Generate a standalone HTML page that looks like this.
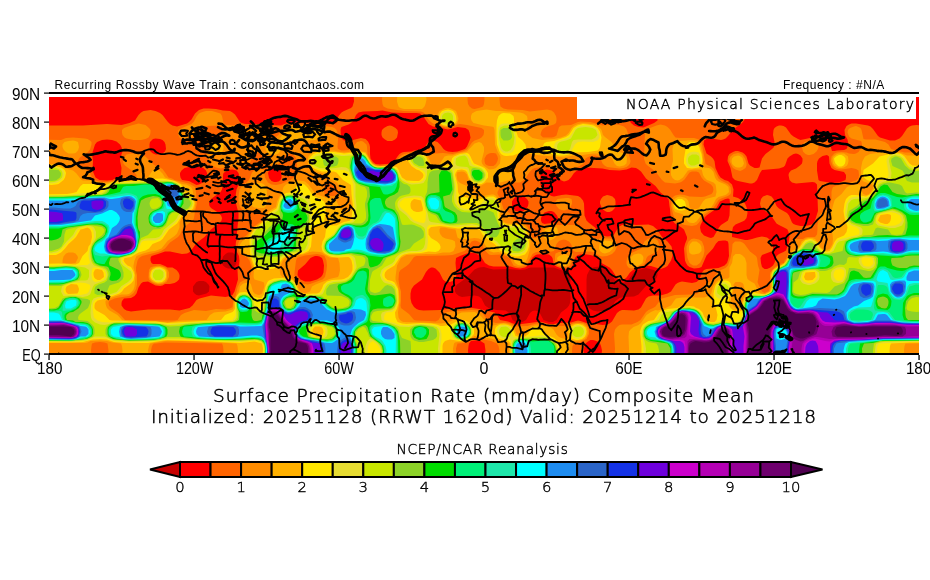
<!DOCTYPE html><html><head><meta charset="utf-8"><style>html,body{margin:0;padding:0;background:#fff;width:930px;height:580px;overflow:hidden}svg{display:block}</style></head><body><svg width="930" height="580" viewBox="0 0 930 580"><clipPath id="mc"><rect x="49" y="97" width="870" height="256"/></clipPath>
<g clip-path="url(#mc)"><rect x="49" y="97" width="870" height="256" fill="#c80000"/>
<path fill="#ff0000" fill-rule="evenodd" d="M42 90l884 0l0 270l-884 0l0-270zM199 281l-2.5 1l-2 2.5l-1.5 2l0 5l1.5 2l2 1.5l2.5 0.5l7.5-2l2.5-2l0.5-5l-1-2l-2.5-2.5l-2.5-1l-4.5 0zM228 252.5l-2.5 1.5l-2.5 2.5l-1 4l0 2.5l1 2.5l2.5 2l2.5 1l4.5 0l2.5-2.5l1.5-3l0-5l-0.5-2l-1-1.5l-2.5-2l-4.5 0zM479 267.5l-4.5 2l-7.5 8l-10 7l-1.5 2l-0.5 2.5l0 2.5l1 2l3 2.5l3 1l12.5-1.5l2.5 0.5l2 0.5l2.5 2l3.5 7l3.5 2.5l7.5 2l9.5 0.5l2.5 1.5l2.5 3l2 5l3 2l4.5 0.5l2.5-0.5l2.5-1.5l1-0.5l4-7l2.5-2l2.5-0.5l2 0.5l2.5 1.5l4 7.5l5.5 2l4 0l3.5-2l4.5-7.5l6-4.5l2-2.5l1-2.5l0.5-4.5l-0.5-9.5l0.5-12l-0.5-2l-1.5-3l-9.5-2.5l-5-2l-24 0l-5 2l-5 0.5l-12-1l-14.5 0.5l-4.5-1l-5-1.5l-5 0.5zM593 267.5l-3.5 2.5l-2.5 5l-0.5 4.5l0 21.5l1 4.5l1.5 2.5l4 2.5l4.5 1l7.5-0.5l4.5-2l2.5-2.5l3.5-5.5l4-3l4.5-1l10-0.5l4.5-2l7-8l10-7l1.5-2.5l0.5-2l0-2.5l-3.5-2.5l-8-2l-8 2l-4 2l-5 7l-2.5 2.5l-2.5 1l-2 0.5l-2.5 0l-2.5-1l-2.5-2.5l-4-7l-3.5-3.5l-2.5-1.5l-4.5-1l-5 0.5l-2 0.5z"/>
<path fill="#ff6400" fill-rule="evenodd" d="M353.5 90l391.5 0l0 11.5l0.5 12l-0.5 5l-1 2l-2 2.5l-9 6.5l-5 6.5l-2.5 2.5l-2.5 1l-2 0.5l-10-1.5l-4.5 0.5l-2.5 1.5l-0.5 4l3 9l4.5 3l2 2l1.5 2.5l1 7l3 6.5l2 3l4 2.5l3.5 1l4 3.5l1.5 5l-0.5 7l5 1.5l4.5 3l2.5 2.5l2 5l0.5 4.5l-1 5l-2 2.5l-2 1l-7 3l-2.5 2.5l-1 5l0 5l13 3l2.5 0l4.5-1l5-1.5l5-1l5 1l2 1.5l2 2.5l2 5l0 2l-0.5 2.5l-10.5 4l-1.5 3l0.5 5l1 4l2.5 2l2.5 0l3.5-1.5l2.5-2l1.5-2.5l2-7l2.5-2l4.5-2l2.5-1.5l2.5-7.5l1-6l-1-5l-1-2.5l-1.5-1l-7-3.5l-2.5-1.5l-5.5-8l-9-7l-1.5-2.5l-0.5-2.5l1-4.5l2-2.5l4-1.5l2 0.5l2.5 1l2 2.5l3 7l2.5 2.5l8 4.5l2 2.5l3 7l1.5 1.5l2.5 1l4.5 1l5 0l4.5-1l2.5-1l2.5-3.5l3-9.5l-1-26.5l-2-2l-2.5-0.5l-16.5 1.5l-4-1l-2.5-2.5l-1-5l0.5-2l2-2.5l5-2l4-3l2-2l0.5-2.5l0-2.5l-2-3l-2.5-1.5l-2-0.5l-2.5 0.5l-4 2.5l-2 2l-2.5 7l-1.5 1.5l-4.5 1.5l-17 1.5l-2 3l-3 7l-2.5 2.5l-2.5 1l-2 0l-12-2.5l-3-1l-2.5-2.5l-2-9.5l-3-7l0.5-4.5l1.5-2.5l3.5-2l2.5-1l2.5 0l4.5 1.5l2 1.5l2 2.5l2 7l1.5 2l4.5 2.5l2.5 0l2.5-0.5l2.5-9l1.5-2l2-2.5l6.5-5l2-2l0.5-2.5l0-2.5l-1.5-7l0.5-5l1-2l2-1.5l2.5-1l2 0l2.5 0.5l2.5 1.5l5 7l2.5 2l4.5 2.5l2.5 1l12-2.5l10 0.5l2.5 0.5l2 1.5l2 2l1 2.5l2 6.5l2.5 0l2.5-0.5l7-0.5l2.5-1l1-2l0.5-5l-0.5-2.5l-2.5-4.5l-0.5-5l1-2l1-2l2.5-1.5l2.5-1l4.5 0l12 2l2.5 1l2.5 2.5l5 7l2 1.5l10 3l5 0l4.5-2l2.5-2.5l5-7.5l2.5-2l2.5-1l4.5-0.5l9.5 0.5l0 234.5l-325 0l1-9.5l-1-4.5l-1-2.5l-2.5-2l-2.5-1l-2-0.5l-2.5 0l-2.5 1.5l-2.5 2l-1 2.5l-1 4.5l1 9.5l-99.5 0l0.5-9.5l-1-7l-4-2.5l-6-0.5l-3.5 0.5l-2 2.5l-0.5 2.5l-0.5 4.5l0.5 9.5l-426.5 0l0-234.5l41 0l24-1.5l14.5 1l8-2l5.5-2.5l3.5-5.5l2.5-2.5l2.5-1.5l7-1l5 1l4.5 2l2.5 2l5 6.5l2.5 2.5l2.5 1.5l4.5 1l10-3l2-1.5l2.5-2.5l3.5-6l4-3.5l4.5-1.5l5 0l7.5 0.5l7 1.5l7 0.5l2.5 1.5l2.5 2l5 7.5l1.5 1l3.5 1l14 0l5 1l17 0.5l5-2l7-1l9.5 0.5l12.5-0.5l12 1.5l7 0l2.5-1l2-7l3-3.5l2.5-1.5l7-3l1.5-1.5l1.5-5l-0.5-11.5zM377.5 111l-14.5 0.5l-4.5 1l-2.5 2.5l-2.5 5.5l-2.5 2.5l-2.5 1.5l-7 2.5l-0.5 1l-0.5 2l0.5 7.5l0.5 1l2.5 2l2 0.5l5-0.5l10-2.5l4.5 1l2.5 2.5l1.5 3l0.5 2.5l0 7l0.5 4.5l2.5 3.5l2.5 2l4.5 0.5l12-1l2.5-2.5l3-4.5l2-2.5l2.5-1.5l2-0.5l7.5-0.5l2.5-1l7-0.5l2.5-0.5l3-5l2-2.5l2.5-1l2-0.5l4.5 1.5l3 3l3 4l2 1.5l2.5 1l4.5 0.5l5-0.5l7.5-2.5l2-2.5l3-7l0.5-2l-1-5l-1-2.5l-3-2l-8-1l-3.5 1l-1.5 0.5l-4.5 1l-2.5-0.5l-5-1.5l-7.5-1l-4.5-2.5l-5.5-8l-3-2.5l-3.5-0.5l-12.5 0l-12-0.5l-9.5-2l-5 0.5zM518 195.5l-2.5 1.5l-2 2l-1.5 2.5l0 4.5l1 2.5l2.5 2.5l2.5 0.5l2 0.5l3.5-1l3-2.5l1.5-2.5l0.5-2.5l0-2l-1.5-2.5l-3-2.5l-4-1l-2 0zM583 168l-6 2.5l-3 2.5l-3 4.5l-2.5 2.5l-2.5 1l-2 0.5l-2.5-1l-2.5-2l-4-5.5l-3-2.5l-5-1l-3.5 1l-2 2.5l-1 2l-0.5 5l0.5 4.5l1.5 5l2 2.5l3 1.5l4.5 2.5l2.5 0.5l7.5-1.5l4.5-0.5l12 1.5l2.5 1.5l2.5 3l1 3l0.5 12l2 5l2 2l6.5 5l5.5 7l2 1l4.5 1l5-0.5l2-1.5l3-5l2.5-3l2.5-1.5l2-0.5l5-0.5l7 1l12.5-0.5l4.5 1.5l4 3.5l5 7.5l5.5 4.5l4 5l1 4.5l0 5l-1.5 4.5l-3.5 5.5l-2.5 1.5l-4.5 1.5l-9.5-3l-5-0.5l-13 4.5l-3 2.5l-3.5 5l-2.5 2l-2 0.5l-2.5-0.5l-2.5-1.5l-5-8l-2.5-2.5l-8-4.5l-3.5-5l-4-2l-3.5-1l-7.5-1l-5 1l-1.5 1l-1.5 2l-2.5 7.5l-1.5 2l-2.5 1l-2.5 0.5l-4.5-0.5l-5-2l-1.5-1l-1.5-2.5l-1-5l-1-1.5l-2.5-2l-4.5-0.5l-7.5 0.5l-2 1l-2.5 2l-4.5 8l-3 2l-5 1l-4.5-0.5l-5-1.5l-17 0l-4.5-1l-4-2.5l-3.5-5.5l-2.5-2.5l-4.5-2l-5-0.5l-9.5 3.5l-4 2l-0.5 5l1 12l-1.5 4l-2.5 2l-2.5 1l-2 0l-2.5-0.5l-2.5-2l-3.5-7l-4-4l-2.5-1l-2 0l-2.5 1.5l-2.5 3l-4 7.5l-8 6l-2.5 3.5l-1 4.5l0 5l1 4.5l2.5 4l2.5 2l2.5 1l4.5 0.5l17-0.5l9.5-1.5l22-0.5l7 1l15.5 3.5l2.5 2.5l3 5l8 1.5l5 2l5 1l19-2.5l5 0l7 2l5 0l5-1l12-0.5l5-1.5l2-0.5l2.5 0.5l7.5 2.5l5 0l9.5 1.5l4.5-0.5l2.5-1l2.5-2l5-8.5l2.5-2l2.5-1l2 0l10 0.5l4.5-1l2.5-2l5-9l2.5-2l4.5-1l7.5 0l7-2l3.5-2l4.5-7l2-1.5l2.5-1l2-0.5l10 1.5l4.5-1l3-2.5l2.5-7l2-2.5l2.5-1l12-1l6-2.5l2.5-2.5l1-3l1-4l-0.5-12l-0.5-2.5l-2.5-1l-2.5 0l-4.5 0.5l-2.5 2.5l-3 5l-6.5 7l-5 11.5l-2.5 1l-5 0.5l-4.5-1.5l-2-1.5l-1.5-2.5l-1-2.5l-1-12l1-4.5l2-5l0-2l-3-7.5l-2.5-2l-6.5-4l-2.5-3l-2-5l-0.5-6.5l-0.5-3l-0.5-4.5l-0.5-2.5l-8-6.5l-5-6.5l-9.5-7.5l-5-7l-2.5-2l-2.5-1.5l-4.5-0.5l-5 2l-7 1l-10-0.5l-7-1.5l-17-1l-2.5 0.5zM634 111l-3 2.5l-1.5 2.5l0 2.5l0 2l1.5 2.5l3 2.5l4.5 1.5l5 0.5l10.5-4.5l3.5-2.5l0-2l0-2.5l-1.5-2.5l-3-2.5l-4.5-1.5l-5 0l-5 0l-4.5 1.5zM728 198.5l-2.5 0.5l-5.5 2.5l-4 7l-2.5 2l-7 5l-2.5 2.5l-3.5 7l-0.5 2.5l1 4.5l3 3.5l5 2l2 0.5l2.5-1l5.5-9.5l2-2.5l7-4.5l1.5-5l0.5-12l-0.5-4.5l-1.5-0.5zM822.5 156l-3.5 2.5l-1.5 2.5l-0.5 2.5l0 7l1.5 9.5l1.5 1l12 2l7.5-0.5l6-2.5l0.5-2.5l0-2.5l-2-3l-9.5-2l-3-2l-2-4.5l-0.5-7l-2-1.5l-4.5 1zM107 139.5l-5 0.5l-5 2l-2 2.5l-3 9.5l1 7l-0.5 9.5l3 7l4 2.5l7.5 0.5l5.5-0.5l1.5-1l6.5-1.5l0.5-2.5l0.5-7l-1.5-7l0-2.5l2.5-7l-1-4.5l-1.5-2.5l-3.5-3l-4.5-1.5l-5-0.5zM153 139l-3 3l-0.5 2.5l0 4.5l1 2.5l2.5 2l2.5 1l4.5 0l2.5-1l2.5-2l1-2.5l-0.5-4.5l-1-2.5l-2-2l-2.5-1l-4.5-0.5l-2.5 0.5zM184.5 168l-3 2.5l-1.5 2.5l0 2l0.5 2.5l1.5 2.5l7 1l7.5 4l2.5-0.5l4-2l2-2.5l1-2.5l1-2.5l0-2l-1-2.5l-2.5-2.5l-2.5-1l-4.5-1l-5 0.5l-7 1.5zM228 170l-4.5 3l-0.5 2l0 9.5l-1 5l-1.5 2.5l-9.5 7l-1.5 2.5l-0.5 2l0.5 2.5l1.5 2l7 4.5l3 3l1 2.5l-0.5 2.5l-1.5 2l-9 7l-6.5 7.5l-8 6l-5 7l-2.5 2.5l-2 1l-5 0.5l-12-2.5l-5 0l-7 2.5l-6.5 2l-1 2l0 2.5l1 2.5l1.5 1l7 0l5 2l2.5 1.5l5 0l4 2.5l2 2.5l1 2.5l0 2l-0.5 2.5l-2 2l-2.5 1.5l-4.5 1l-5 0l-2.5 1.5l-2.5 0.5l-4.5-0.5l-7.5-4l-5 0.5l-2 1.5l-2.5 4l-2 6l-2 2.5l-3.5 2l-7 0.5l-2 2.5l-0.5 2l0 2.5l2.5 3.5l2.5 1.5l4.5 1l17-2l22 0l9.5 1l10-2.5l3-2.5l4-5.5l3-1.5l11.5-3l14.5 1.5l4.5-1l2.5-1l2-3.5l3.5-12l-0.5-9.5l1.5-4.5l0.5-5l-0.5-4.5l-2.5-5l-1-4.5l0.5-5l1-2.5l0-7l1.5-14l0-5l-2.5-9.5l-0.5-7l1-7l3-7l0-5l-1-4.5l-2-2.5l-4-1l-4.5 0.5zM276 168l-4.5 1l-2.5 1.5l-1 2.5l1 5l2.5 3l2.5 1l2 0l2.5-0.5l2-1.5l1-2.5l0-4.5l-1-2.5l-2-2l-2.5-0.5zM312.5 257l-2 1l-5.5 6.5l-7 6l-0.5 4.5l1 2l2 2.5l4.5 2l5 0l7-2l4-2.5l1.5-2l1-2.5l0.5-7l-1-5l-1-2.5l-2.5-1.5l-2.5-0.5l-2 0l-2.5 1zM544.5 212.5l-2.5 3l-1 2.5l0 2.5l1 2.5l2.5 1l11-1.5l1-0.5l1.5-1.5l0-2.5l-1-2.5l-3-3.5l-2.5-1l-2.5 0l-4.5 1.5zM384 128l3.5-2l2.5-0.5l2 0.5l3.5 2l2 2l0.5 2.5l-1 5l-2 2l-3 1.5l-4.5 0l-2.5-1.5l-2.5-2l-1-2.5l0-2.5l0.5-2.5l2-2zM603 196.5l4-1.5l2.5 0.5l3 1l2.5 2.5l0.5 2.5l0 4.5l-1 2.5l-2.5 2.5l-2.5 1l-2.5 0l-2-1l-3-2.5l-2-5l0-2l1-2.5l2-2.5z"/>
<path fill="#ff8c00" fill-rule="evenodd" d="M382.5 92.5l0-2.5l85.5 0l-0.5 9.5l0.5 4.5l1.5 2.5l2.5 2l2.5 0.5l4.5-1l4-1.5l1-2.5l0.5-4.5l-0.5-9.5l16 0l-0.5 9.5l0.5 4.5l0.5 2.5l3 2l4.5 1l14.5 0.5l7.5 1.5l17-2l4.5 1l2.5 2l2 3.5l0.5 2.5l0 2l-0.5 2.5l-2 1.5l-7 2l-3 1.5l-2 2l-1 2.5l-0.5 2.5l2.5 2.5l1.5 0l7 0l2.5-0.5l2.5-1.5l2.5-8.5l2.5-1.5l9.5-0.5l7-3l2.5-0.5l10 0.5l12 3.5l12-1l5 0.5l4.5 1.5l2.5 2.5l2 6l-0.5 16.5l1.5 5l1 4.5l-0.5 2.5l-1.5 2l-2 1.5l-3 1l-4 0.5l-12.5-1.5l-2.5-1.5l-2-2l-2-5l-2-2l-3.5-1l-4.5 0.5l-2.5 1l-2.5 1.5l-2 5l-3 2l-7 3.5l-2.5 0l-14.5-1l-7.5-1.5l-4.5 0l-10 1.5l-2 1l-2.5 2.5l-5 7.5l-2.5 2l-2.5 1.5l-7 0l-9.5 2l-3.5 2.5l-2.5 5l0 2l3 5l3 10l6 4l6 8l7 2l3.5 2l2 2.5l4.5 10.5l2.5 0l2-0.5l2.5-1.5l2.5-6.5l1.5-2l3.5-1.5l7-1l22 0l4.5 1.5l7.5 8.5l5 3l4.5 1l2.5-0.5l9.5 0l5 1l1.5 2l1 5l-2 4.5l-3 3l-5 2l-4.5 0.5l-2.5-0.5l-7-4l-2.5-0.5l-14.5 0.5l-2.5-1l-2.5-7l-2-2.5l-3-1.5l-2-0.5l-2.5 0.5l-2.5 1l-2.5 3l-2.5 7l-2.5 0.5l-12 0l-4.5 1l-2.5 1.5l-5 9l-2 2.5l-3 1l-4.5 0.5l-4.5-1.5l-4-7.5l-3.5-2l-5-1.5l-10 0.5l-2-0.5l-3.5-3.5l-4-7l-2.5-2l-2-1l-2.5-0.5l-3 1l-4.5 7l-2.5 2.5l-12 4l-7 0.5l-29 0.5l-2.5 1l-5 7l-2.5 2l-6 4l-1.5 2.5l-0.5 7l1 7l1.5 5l0 9.5l-0.5 4.5l0.5 2.5l8 6l5 6l2.5 0.5l12 0.5l7 0.5l3-1.5l3-5l4-2.5l4.5-1l22-1.5l5 0.5l5 2l5.5 7.5l4 2l4.5 1l9.5-0.5l5 1l5 3l12-0.5l5-1.5l4.5-1l5 0.5l12 2l10 0l4.5-0.5l5-2.5l4.5-0.5l5 0.5l2.5 1l2.5 3l1 2.5l0 4.5l-2.5 5l-1 0.5l-5 2.5l-4.5 1l-2.5 1.5l-1 1.5l-0.5 4.5l0.5 9.5l-74 0l1-9.5l-1-4.5l-1.5-2.5l-6-2.5l-12-2.5l-4.5 0l-2.5 0l-5 3.5l-2.5 1l-7 0.5l-1.5 5l0.5 11.5l-233.5 0l0.5-9.5l-0.5-4.5l-1-2.5l-57-1l-9.5 1l-1.5 0l-1 1l-1 1.5l-1 4.5l1 9.5l-44 0l0.5-9.5l-1-7l-3-1l-4.5-0.5l-5 0.5l-3 1l-0.5 2.5l-0.5 4.5l0.5 9.5l-49.5 0l0-220.5l19 0.5l5-2l7-0.5l12 1l2.5 0.5l2.5 1.5l1.5 1.5l0 2.5l-1.5 5l-2.5 3l-7 4.5l-1.5 1.5l-1 2.5l0 2.5l2.5 3l7 4l2.5 2.5l2 4.5l2.5 2.5l3 1l4.5 1l5 0l17-3l7 0l5.5-1.5l0-2.5l-1.5-2l-10-7.5l-1.5-2l-0.5-2.5l1-3.5l2.5-3l4.5-1l5 0l5 1l4.5 2l7.5 7.5l2 1.5l5 2l2.5 1.5l3 4l3 4.5l3.5 1l2.5 1.5l14.5 3.5l6 3.5l1 5l1 11.5l-2 7.5l-1 7l-1 2.5l-2.5 2l-6 4l-2.5 3.5l-2 4.5l-2 2.5l-8 5.5l-5 6l-4 2.5l-3 1l-16 4l-3 2l-1.5 2.5l-1.5 7l0 3.5l1 4l0 9.5l-1 4.5l-2.5 4l-2.5 2l-2 1l-10 1.5l-4.5 1l-5.5 2.5l-0.5 2l0.5 2.5l2 2.5l8 5.5l6 6.5l40 0.5l9.5 0l3-0.5l3.5-5l3.5-2l9.5-3l12 1l10-2l9.5 0.5l4.5-1l2.5-1.5l1-8.5l2-2.5l2-8.5l1.5-3l1-2l2.5-1.5l4.5-2l2-2l1.5-2l1-5l0-2.5l-2-7l-2.5-3l-4.5-2.5l-2.5-1.5l-2-5l0-4.5l2-4.5l7-4.5l5.5-7.5l9-6.5l2.5-3.5l0.5-2l-0.5-2.5l-2.5-1.5l-7-1l-9.5 0.5l-2.5-1l-2.5-3l-1.5-5.5l0-5l1-7l3-4.5l4-2.5l2.5-2.5l3-7.5l2.5-2.5l7-1l2.5 0.5l1 8l3 5l3.5 2l4.5 0.5l5-1l9-4l4-2.5l2-4.5l1-7.5l0-4.5l-1.5-4l-2.5-2.5l-2.5-1l-2.5 0.5l-2 1l-7.5 9l-4.5 1.5l-5.5 0l-1.5-2l-1.5-5l-1.5-3l-2.5-2l-2.5-1l-2 0l-3 1.5l-2 3l-2.5 7.5l-2.5 2l-7 1l-10-1l-9.5 2l-4.5-1l-5-2.5l-2.5-4l-2.5-9.5l0.5-4.5l2-4.5l2.5-2.5l8.5-2.5l1-1l1.5-1.5l0.5-2.5l0.5-4.5l-2.5-2.5l-14.5 0.5l-5 0.5l-2.5 1.5l-2 2l-2.5 5.5l-2.5 3l-2.5 1.5l-2 0.5l-2.5 0l-2.5-1l-2.5-2l-1-2.5l-0.5-2.5l0.5-2.5l3.5-2l9.5-4l2.5-2.5l2.5-5l2.5-3l2-1l5-1.5l6 0l8.5 2.5l1.5 2.5l1.5 7l2 2l12 0.5l7.5 1.5l14 0l2.5 1l2.5 2l4.5 7.5l3 0.5l2.5 0l2-1l2.5-2l4.5-7l5-3l5-0.5l24 0.5l15 2l2.5 1l2 2l1 2.5l0.5 7l-0.5 7.5l0.5 2l3.5 1.5l2.5 0l4.5-0.5l3.5-1l3-4.5l2-2.5l4-1l2 0.5l3.5 3l0.5 2.5l0.5 7l3 6l2 3.5l5 2l2.5 0.5l7.5-1l4.5 0l2.5-1l5-7l2.5-2l2.5-1l9.5-2l5-0.5l4.5 0.5l2.5 0.5l2.5 1.5l14.5-1l9.5 1l10-2.5l4.5-2l5-7l2.5-2l4.5-1.5l2.5-1.5l2-2.5l0.5-2.5l0-2.5l-2.5-2l-14.5-3l-7-1l-2.5 0.5l-5 2.5l-7 0.5l-5-1.5l-2.5-1l-5-1.5l-2-1.5l-2.5-2.5l-4-6l-1-1l-2.5-1l-17-0.5l-16.5-2.5l-4-2l-1-2.5l-0.5-4.5l0.5-7zM489 153.5l-2.5 1.5l-2 3.5l0 2.5l0.5 2.5l1.5 1.5l2.5 1l4.5 0l2.5-2l1.5-3l0.5-2.5l-0.5-2l-1.5-3l-2.5-0.5l-2.5 0l-2 0.5zM305 255.5l-7 2l-1 0.5l-1 2.5l-1.5 12l0 4.5l1.5 2.5l2 2l2.5 1.5l7 1.5l2.5-0.5l12.5-4.5l2.5-2.5l1.5-7l0.5-4.5l-0.5-5l-2-4.5l-2.5-1l-5-1l-12 1.5zM329.5 182l-2.5 0.5l-2.5 2.5l-1 4.5l1 4l0.5 0.5l4.5 2l4.5 0l2.5-1l1-1l0.5-2l-1-5l-3-3l-4.5-2zM131 125.5l7.5-2l7 1.5l3.5 3l1.5 2l0 2.5l-0.5 2.5l-1.5 2.5l-3 1.5l-4.5 1l-7.5 0l-7-1.5l-2-1l-2-2.5l-0.5-2.5l0-2.5l2-2l7-2.5zM656.5 125.5l4-1l4.5 1l2.5 1.5l2.5 2.5l3.5 5.5l2 2.5l4.5 0.5l14 0l5 1.5l2 2.5l1 2.5l3.5 19l1 1l4.5 2l2.5 2l5 10l2.5 2l7 3.5l2.5 3l0.5 5l-0.5 2l-2.5 2l-7 2.5l-2.5 1.5l-5.5 8.5l-9 6.5l-5 7.5l-2.5 2.5l-4.5 1l-7.5-1l-4.5-1.5l-4-3l-1.5-2.5l-1-2.5l-2.5-9.5l0.5-4.5l1-4l2.5-2l5-1l4.5 0.5l5 1.5l12 0.5l3.5-0.5l6.5-2.5l1.5-2l0.5-2.5l-0.5-2.5l-2-2.5l-7-4l-2.5-3l-2.5-5l-2.5-1l-4.5 0l-2.5 1l-5 7l-2.5 2l-2 1l-5 1l-5-0.5l-5-0.5l-3-2.5l-6.5-8.5l-8-6l-2-2l-1.5-5l1-26l1-2.5l4-2l6.5-2.5zM850 128l4-1.5l2-0.5l2.5 1l2 1l1 2l2 9l2.5 0.5l9.5 0l9.5 2.5l3.5 2.5l2.5 4.5l1.5 0.5l12 3l21.5 0l0 207.5l-311.5 0l0.5-11.5l-1-14.5l1-4.5l2-2.5l2.5-2l2.5-0.5l9.5 0l6-2.5l3-2l5.5-8l2.5-2l4.5-2l2.5-1.5l4-5.5l2.5-2.5l13-3.5l17-0.5l5.5-1l6.5-7.5l8-6.5l5.5-7l3.5-2.5l4.5-2l2.5-2.5l2.5-7.5l1.5-7l0.5-7l2.5-2.5l5 0l2.5 1l2 1.5l5.5 7.5l6 4.5l1 2l1 7.5l1.5 4.5l-1.5 9.5l-0.5 2.5l1 2.5l3.5 7l2.5 1.5l4.5-2l1-4.5l0-14l6.5-6.5l3-0.5l1.5-2l3-0.5l0.5-2.5l1.5-1.5l1-3l1.5-2.5l3-9.5l2-4l2.5-1l7 0l2.5-1.5l2.5-0.5l7 0l2-2.5l0.5-5l0-4.5l2-9.5l3-3.5l4.5-2.5l2.5-3.5l2-7l0-7l0.5-2.5l1-2.5l4-1.5l9.5-2l9.5-3l2.5-2l0.5-3.5l-0.5-4.5l-2.5-1.5l-4.5-1l-10 1.5l-4.5-0.5l-2.5-1.5l-2-2l-1.5-4.5l0.5-4.5l3-3l2.5-1l4.5-0.5l5 0.5l2.5 1l5 0.5l2-0.5l2.5-1.5l2-3l1.5-4.5l-0.5-2.5l-0.5-1l-9.5-2.5l-2.5-2l-1.5-4l0.5-2.5l2-2zM804.5 142l3.5-1l4.5-0.5l2.5 0l2.5 1.5l1 2.5l0 2.5l-0.5 2l-1.5 2.5l-3 2.5l-3.5 1l-2 0l-2.5-1l-2.5-2.5l-1-4.5l0.5-2.5l2-2.5zM733.5 154l4.5-1l2 0.5l2.5 1.5l2.5 3.5l1.5 5l0 2l-1 2.5l-3 2l-2.5 1l-4.5-1.5l-2.5-1.5l-1.5-2.5l-2-4.5l0-2.5l1-2l3-2.5zM557.5 199l8.5-1l2.5 0l3 1l0.5 2.5l0 2l-1 2.5l-2 2.5l-3 1.5l-2 0.5l-2.5-0.5l-2.5-1l-2.5-3l-1-2.5l0-2l2-2.5zM647.5 239l3.5-1l2 0.5l3 0.5l2 2l1 3l0.5 2.5l-1.5 4l-2.5 2l-7.5 3.5l-1.5 2l-1.5 5l-2.5 2.5l-8.5 2.5l-2.5 0.5l-2.5-0.5l-2-2.5l-0.5-2.5l0.5-5l1.5-2l3-3l9.5-4.5l3.5-7l3-2.5zM691.5 239l2.5-0.5l5 1l3 2l2 5l0.5 4.5l-1 5l-3.5 7l-3.5 2.5l-3.5 0l-3.5-2.5l-2-5l-1-7l0-4.5l2-5l3-2.5zM555.5 253.5l3.5-1.5l5-0.5l7 0.5l2 1.5l-1 7l-2 5l-1.5 1l-4.5 1l-2.5-0.5l-4-1.5l-2-2.5l-0.5-2.5l0-4.5l0.5-2.5zM150.5 267.5l2.5-1l5-1l4.5 1l3 1l2.5 2.5l1 2.5l0 4.5l-2.5 5l-4 2l-4.5 0.5l-2.5-0.5l-4-2l-2.5-2.5l-0.5-2.5l0.5-7l1.5-2.5z"/>
<path fill="#ffb000" fill-rule="evenodd" d="M397.5 90l28 0l1 9.5l-1 4.5l-1 2.5l-2.5 2.5l-1 0l-17 0l-2-0.5l-2.5-1l-1-1l-1.5-5l0.5-11.5zM443.5 109l2-1l4.5 0l6 3l1 2.5l1.5 5l-0.5 2l-1 2.5l-2 1.5l-5 2l-4.5 0l-4-1l-3-2.5l-1.5-2.5l0-4.5l2.5-5l4-2zM476.5 111l10-1.5l9.5 1.5l5 0l19 1.5l3.5 1l3.5 2.5l0.5 2.5l-1 11.5l0.5 2.5l1.5 2.5l4 3l9.5 2l12-1l7-1.5l5-2l3-3l2.5-4.5l3-2.5l3.5-1.5l5-1l5 0.5l7 1l5 3.5l1.5 2l1.5 5l2 2l6.5 5l5.5 8.5l2.5 1.5l4.5 1.5l2.5 3l0.5 2l-0.5 5l-2.5 2l-4.5 1l-2.5-0.5l-2.5-2.5l-2.5-5.5l-1.5-1.5l-3.5-1.5l-7-1.5l-7 0l-10 1.5l-9.5 0.5l-9.5 2l-27-2.5l-9.5-1.5l-8 3l-4 2l-1.5 5l-1 11.5l-1 2.5l-1.5 1.5l-1 1l-11 3l-12-0.5l-5 3l-2.5 0.5l-4.5-0.5l-4.5-3l-1.5-2.5l-1.5-5.5l-2.5-2.5l-2.5-0.5l-4.5 0.5l-0.5 1l-0.5 2l1 5.5l2.5 2.5l7 3l1 1l4 7l2.5 2l2.5 0.5l3 0l11.5-2l2 0l2.5 1.5l3.5 5.5l1 4.5l0 9.5l0.5 2l2.5 4l2.5 1.5l2 0.5l12 0.5l3 1l3 2.5l2.5 4.5l2 9.5l-1 9.5l-2 7l-2.5 5l-4 2.5l-3-0.5l-3-2l-2.5-5l-3-2l-11-4l-5 0.5l-4-1.5l-2-2.5l-4.5-7l-1.5-1.5l-2.5-1.5l-4.5-0.5l-7.5 1l-7 0l-2.5-1.5l-2-8l-7.5-1l-3-1l-4.5 0l-1 2l0 2.5l1 2.5l2 2.5l3 1.5l7 1.5l2.5 1.5l0.5 5l-2 4.5l-3.5 1.5l-7 0l-7.5 1.5l-9.5 0l-19.5 1l-2 1l-3.5 2l-4 7.5l-1.5 11.5l0 2.5l2.5 7l1 5l0.5 9.5l-1.5 11.5l0.5 5l1.5 2.5l2 1.5l1.5 0.5l20 0.5l17 1l5-0.5l4.5-1.5l3.5-1.5l4-5.5l4-2l13-0.5l4.5 2l7.5 8.5l4.5 2.5l2.5 0.5l2.5-0.5l2.5-1l5-1l4.5 1l2.5 1l3 2l1.5 2.5l0.5 2l1 2.5l1.5 1l4.5 0l2.5-0.5l5.5-7.5l4.5-1.5l4.5 0l10 1.5l2 1l2 1.5l3 5l2.5 2.5l2.5 1l4.5 1l1 0l1-2.5l-0.5-5l0-2l1.5-2.5l3-2.5l4-1l4.5 0l2.5 0.5l3.5 3l1 2.5l0 4.5l-1 2.5l-2 2.5l-4 1.5l-7 0.5l-2.5 0.5l-1 2l-1 5l0.5 11.5l-60.5 0l0-14l-0.5-2.5l-0.5-0.5l-17-4.5l-16.5-2.5l-5 3.5l-5 2l-7 0.5l-2.5 0.5l-1 1l-1 5l0.5 11.5l-216 0l0.5-9.5l-0.5-4.5l-1-2.5l-54.5-2.5l-17 0l-15 2.5l-1 2.5l-1 4.5l1 9.5l-27 0l0.5-9.5l-0.5-4.5l-1-2.5l-9-1l-5-1.5l-7-0.5l-9.5 0.5l-3 1.5l-2.5 0.5l-43 0l0-178.5l12-0.5l4.5 0.5l7.5 4l7 2l3 2.5l5.5 7l1.5 0.5l7 0l10 2.5l4.5 0.5l12-2.5l17-0.5l12-2l2.5-1l4.5-7l3-1l2.5 0l2 1.5l2.5 2.5l2.5 4l6.5 2.5l5.5 1.5l5 2.5l4.5 0.5l4.5 2.5l1.5 2.5l1 7l1.5 2.5l0.5 4.5l-0.5 2.5l-0.5 2.5l-3 3.5l-7 3.5l-2.5 2.5l-2.5 4.5l0 5l-2.5 6l-2.5 2.5l-7 5l-6 7.5l-6.5 2.5l-4.5 0.5l-7.5 2l-6.5 2.5l-2 4.5l-1 5l0 2l1.5 5l0.5 4.5l-1 9.5l-1 3l-2.5 3l-2 1.5l-2.5 0.5l-5 0l-12.5 4l-3.5 2.5l0 2l0.5 2.5l1 2.5l2.5 2.5l8 4.5l4.5 5l4.5 0.5l29 0.5l7 1l5 0.5l14.5-2l24-0.5l0.5 0l3.5-5l4-2.5l4-0.5l7.5-0.5l7-2l1-1.5l0.5-7l1-2.5l4-7l1-5l2.5-2.5l2.5-1l4.5-0.5l1.5 2l2 7l1.5 2l2.5 1l2 0.5l2.5-1l0.5-0.5l2.5-7l-0.5-4l-2.5-1l-7-2l-1-2.5l0.5-7l-4.5-13.5l-2.5-2l-5.5-3.5l-1.5-2.5l0-4l2.5-3.5l4.5-3l5-8l2.5-2.5l7-5l2-2l5.5-9.5l7-4l1-5.5l2.5-5l2-2.5l2-7l2.5-2.5l12-4l5 0.5l2 0.5l3.5 3l6.5 8.5l2 1.5l10 3.5l7 1.5l2.5 1.5l3.5 7.5l2.5 2.5l3.5 1l2.5-0.5l2.5-1.5l0.5-4l-0.5-4.5l-1-2.5l-1.5-2.5l-5.5-2.5l-1.5-2.5l-1-4.5l-3.5-4.5l-10-5l-5-4.5l-5-1l-4.5-2.5l-4-4l-1-4.5l0.5-2.5l0.5-2l2-2.5l2-1.5l4.5-2l2.5 0l14.5 0l3 1l7 1l4.5-0.5l5-1.5l7.5 0l1 1l3.5 0.5l5 9l2.5 3l2.5 1.5l4.5 0.5l15.5-0.5l2.5-2l2.5-5l3.5-2.5l10-3.5l7 0l2.5 0.5l2.5 1.5l3 4l2 5.5l3 1.5l1.5 0.5l2.5-0.5l2-2l4.5-7l3.5-1l4.5 0l5-2l9.5-2l7.5-8l4.5-1.5l2.5 1l2.5 4l0 4.5l-2.5 9.5l0.5 2.5l1.5 2l5.5 4l4.5-0.5l2.5-1l4-4.5l0.5-5l0-2l-3-5l-2.5-7l-0.5-14.5l-0.5-2l-0.5-1l-2.5-0.5l-7-1l-10.5-2.5l-2-2.5l-0.5-2l0-2.5l1-2.5l2.5-1.5l2-1zM68.5 252.5l-2.5 1l-2.5 3l-1 4l0 2.5l8.5 0.5l4.5-0.5l2.5-5l-0.5-2l-2-2.5l-2.5-1l-4.5 0zM307.5 253l-4.5 1.5l-12 1.5l-5 1.5l-3 3l-3.5 7l0.5 5l0.5 2.5l2 2l8 1l2.5 1.5l4.5 5l0.5 3l1 1.5l1 2.5l5 2l5-2l2-5l3.5-2l6.5-2.5l7.5-3l8.5-2l1-2l1-5l-0.5-7l-1.5-5l-8.5-0.5l-6.5-4l-1-1l-2.5-0.5l-7-0.5l-2.5 0.5l-2.5 1zM287 128l6-1l26.5 0l3.5 1l1.5 2l0 2.5l-1 2.5l-2 2.5l-2 1l-4.5 1.5l-7.5 0.5l-17 0l-4.5 1l-2.5 2l-2.5 6.5l-2.5 3.5l-2.5 1l-2 0.5l-5-1l-2.5-2.5l-1-2.5l0.5-4.5l1.5-2.5l1.5-0.5l7-1l2.5-1l2.5-2.5l3.5-7l2.5-2zM64.5 142l4-1l4.5-0.5l2.5 0.5l2.5 1l1 5l-1 3.5l-2.5 2.5l-2.5 0.5l-4.5 0l-2.5-1.5l-2.5-2.5l-1-2.5l0-2.5l2-2.5zM214.5 142l3.5-1l2.5 0l2 1l1 2.5l0 4.5l-1 2.5l-2 2l-2.5 1l-4.5 0l-2.5-1l-1.5-2l-0.5-2.5l0.5-2l1.5-2.5l3.5-2.5zM675.5 142l4.5-1l12-1l4.5 0.5l2 1.5l1.5 2.5l2.5 9.5l1.5 13.5l5 0.5l2 1l2.5 3l1.5 5.5l1.5 2.5l2 1.5l7 3l3 2.5l0.5 5l-2 2l-1.5 1l-7 2l-2.5 2l-2.5 5l-3 4.5l-6.5 4l-3 3l-4.5 6l-2.5 1.5l-2 0l-3-0.5l-2-2l-2.5-5l-2.5-1.5l-7-2l-2-3.5l-0.5-2.5l0.5-4.5l1.5-2.5l3-2l2.5-0.5l4.5 1l2.5 1.5l1.5 2.5l1 5.5l1 1.5l1.5 0.5l4.5 0l2.5-1l4-6.5l2.5-2.5l10-2.5l1-4.5l-0.5-5l-0.5-2.5l-2-2l-6.5-2.5l-2.5-2.5l-1.5-2.5l-1-4.5l-0.5-1l-7.5 0l-6 1l-5 7l-3.5 2.5l-2 0.5l-2.5-0.5l-2.5-2l-1.5-3l0-2l0-5l2-7l-0.5-12l1-4.5l2-2.5zM837 154l2-0.5l5 0l4 3l0.5 4.5l-0.5 2.5l-1 2l-3 2l-2.5 0.5l-2.5 0l-2-1l-2.5-1.5l-1.5-2l-0.5-5l1-2l3.5-2.5zM870 154l15-2l10 0l4.5 0.5l7.5 3l19 0l0 187.5l-20.5 0.5l-1 2.5l-0.5 4.5l0.5 9.5l-275.5 0l0-11.5l-0.5-12l0.5-5l1.5-2l3-2.5l5-2l2.5-2l5.5-8l4.5-3l4.5-2l2.5 0.5l7.5-2.5l5.5-2.5l3-4.5l2-2.5l6-1l22 0l5-1.5l2-2l2-7.5l3-4.5l2.5-2l4.5-1l5-0.5l1.5-1.5l0-9.5l2.5-4.5l1-6.5l2.5-2.5l4.5 0l2.5 1.5l2.5 2.5l1.5 5l0 12l1 4l2.5 2l4.5 2.5l4 8l2.5 2l3.5 0.5l5-2.5l2-5l-1-11.5l2-5l4-3l4.5-1.5l3.5-2.5l6.5-11l2.5-2l4-1.5l3-4l1-3l1.5-1l2.5-1.5l2.5-1l4.5 0l2.5 1l2.5 2.5l1.5 2.5l1 2.5l2.5 2.5l4.5 1l2.5-1l3-5l0.5-5l-1-9.5l0-9l-0.5-9.5l3-10.5l1-1.5l6-5l5.5-7l4.5-2l4.5-0.5l3.5 0l3.5 9.5l3 1l2.5-0.5l2-2l2.5-4l0-2.5l-1-1.5l-8.5-3l-1.5-1.5l-1-5l0-7l1.5-7l2.5-4.5l5-2.5zM735.5 282l-2 2.5l0 4.5l-2.5 9.5l0 2.5l0.5 2l1.5 3l2.5 2l2.5 0.5l2.5-0.5l2.5-9.5l2.5-5l-2-9l-1-1.5l-2.5-1l-4.5 0zM734 156.5l4-1l2 0.5l2.5 2l1.5 5.5l-1.5 3l-2.5 1l-2.5 0l-2-0.5l-2.5-2l-1-1.5l-0.5-2.5l0.5-2.5l2-2zM253.5 184.5l3.5-1.5l2 0l2.5 0l2.5 1.5l2 2.5l1 5l0 9.5l-1 4.5l-2 2l-5 0l-4.5-0.5l-2.5-1.5l-1.5-2.5l-1-4.5l0.5-7l1.5-5l2-2.5zM549.5 227.5l2-0.5l5.5 0.5l0.5 2l0.5 2.5l-1.5 4l-2.5 2.5l-2.5 1.5l-2.5 0.5l-2-1l-2.5-1.5l-1-1l0-2.5l1.5-5l4.5-2zM600.5 241.5l4.5-1l4.5 0.5l2.5 0.5l1.5 2.5l0 2.5l-0.5 2l-3.5 3.5l-4.5 1.5l-2.5-0.5l-2.5-2l-1-2.5l0.5-4.5l1-2.5zM692.5 241.5l4 0l3.5 2.5l1.5 3l0 4l-2.5 2.5l-5 1l-2 0l-2.5-1.5l-0.5-2l0-4.5l1-2.5l2.5-2.5zM638.5 253.5l2.5 0.5l2 2l0.5 2l-1 5l-4 2.5l-4.5 1l-2.5-0.5l-2-3l0-2.5l0.5-2.5l1.5-1.5l2.5-2l4.5-1zM559 256l2.5-1l2.5-0.5l2 0l2.5 1.5l1.5 2l-0.5 5l-1 1l-2.5 2l-2 0l-2.5-0.5l-2.5-1.5l-1-1l-1-5l2-2zM153.5 267.5l2-0.5l4.5-0.5l3.5 1l3 2.5l0.5 2.5l0 4.5l-0.5 2.5l-2 2.5l-4.5 1.5l-2 0l-5-1.5l-2.5-2.5l-1-2.5l0-4.5l1.5-2.5l2.5-2.5z"/>
<path fill="#ffe600" fill-rule="evenodd" d="M442 111l3.5-1l2.5-0.5l2 0.5l3 1l2 2.5l1 2.5l0.5 4.5l-1.5 2.5l-2.5 1.5l-4.5 1.5l-5-1l-3-2l-1-2.5l0-4.5l1-2.5l2-2.5zM501.5 113.5l2-0.5l6.5 0.5l3.5 2.5l0.5 2.5l0 4.5l0.5 2.5l3.5 11.5l4.5 3.5l3 4l0.5 2.5l0 2l-2.5 2.5l-10.5 4l-7 0.5l-2.5-0.5l-2.5-1.5l-1.5-2.5l-2.5-7l-0.5-9.5l0-9.5l0.5-5l1.5-4.5l3-2.5zM577.5 125.5l5.5-1.5l5 0.5l5.5 1l4 2.5l2.5 3.5l1.5 6l-1.5 9.5l-1 2l-1.5 1.5l-9.5 1.5l-14.5 0.5l-5 2l-4.5 1l-5 0l-10-2l-4.5-2l-1.5-4.5l0.5-2.5l1-1.5l2-1l7.5-1l12-4l3-2l4.5-7l4-2.5zM689.5 142l4.5 0l2.5 1.5l2.5 3l1.5 5l1 2.5l1 7l-1 4.5l-2.5 2l-7 1l-5-0.5l-3-4.5l0-5l2-11.5l1-2.5l2.5-2.5zM313.5 154l3.5-1.5l10-0.5l7 0l10 1.5l14.5-1.5l4.5 0.5l2.5 1l6 10l3 2l3 1l12.5-0.5l4.5 0.5l2.5 1l2 3l0.5 2l2.5 5l4.5 3l7.5 0.5l5 0l1.5-1l2.5-2.5l0.5-2.5l-1-2l-3-2.5l-3-1l-5-3.5l-3.5-5l0.5-4.5l3-2l2.5-1l5-0.5l4.5 1.5l2.5 2l3 7l1.5 2l2.5 1.5l2.5 0l12.5-1.5l2-1l1-1l1-5l2-2l6-2.5l7-1l2 1l1.5 2.5l1.5 3.5l2 3.5l7.5 3l3 1.5l2 2.5l1.5 2.5l0 4.5l-4 5l-2.5 1.5l-4.5 0.5l-2.5-0.5l-2.5-1.5l-3-5l-2-5.5l-1.5-1.5l-3.5-1l-4.5 0.5l-2 3l-0.5 2l2.5 9.5l0.5 7.5l1 2l1 1.5l4.5 1.5l12.5 2.5l4.5-0.5l7.5-2.5l4.5 0l2.5 1.5l2.5 4.5l1 3.5l0 9.5l0 2.5l1 2.5l2 2l3.5 2l2 0.5l7.5-0.5l4.5 0.5l4 2.5l2 2l1.5 5l1.5 7l0 5l-1.5 4.5l-2.5 3.5l-7 2l-2.5 0l-2.5-0.5l-12.5-5l-6-7l-8-5.5l-4-4l-3-5l-4-2l-6-0.5l-7.5 1.5l-4.5 0l-2.5-0.5l-14.5-2l-9.5 1l-2.5 2.5l0 5l2.5 3.5l6 3.5l2.5 2.5l1 2.5l0 2l-2 2.5l-3 1l-7-0.5l-7.5 1.5l-12 0.5l-5 1l-2.5 1.5l-2 2l-5 7.5l-7.5 4.5l-2 2.5l-0.5 2.5l0.5 2.5l2.5 2.5l4.5 1l2.5 1.5l3.5 6.5l0.5 7l0 7l-1.5 5.5l-2 4l0.5 5l2 4.5l4.5 1.5l4.5 0.5l14.5-1l10 0.5l5.5 1l4 1.5l2.5 0l7-1l7.5-4l7-0.5l2.5 0.5l2.5 2l3.5 4l1 2.5l0 4.5l-4.5 5l-2.5 1l-2.5 1l-4.5 0l-10-1.5l-2 0.5l-3 1l-2 2.5l-0.5 2.5l0 14l-180 0l0.5-11.5l-1-5l-7.5-2l-14.5 1.5l-29-1.5l-43.5-1.5l-5 0.5l-14.5 2.5l-21.5 0l-12.5-1l-7-2.5l-7-0.5l-7.5 0.5l-9.5 2.5l-14.5 0.5l-26.5 0l0-78.5l16.5-0.5l17 1l3.5-1.5l3.5-7l5-5l1-4.5l2-2.5l1.5-7l-0.5-5l-1.5-3l-2.5-1.5l-4.5 1.5l-2.5 0.5l-4.5 7.5l-3 3l-4.5 4l-3.5 4.5l-4 4l-5 2.5l-4.5 0l-9.5 0l0-60.5l25-0.5l6-1l3.5-1l4-6l2.5-2l9.5 0l12 1.5l7.5-3l4.5-1l17-0.5l13-1l4-1l12-0.5l2.5 0.5l9.5 2l6.5 3.5l3.5 7.5l7 3.5l2 3.5l1 4.5l-1.5 5l-2.5 2.5l-8.5 4.5l-5 8l-8 6l-6.5 9.5l-2.5 2l-7.5 3l-3.5 4.5l-3.5 2l-7 2l-7.5 4.5l-6.5 1l-1 2.5l1.5 2.5l2.5 2.5l3.5 1.5l2.5 4.5l1 3.5l-1 5.5l-2.5 3l-7 5l-2 3l-2.5 2l-15 5.5l-7 1.5l-2.5 2.5l-0.5 2.5l0 2.5l0.5 1l1.5 1.5l8 4.5l5 5l2.5 0.5l7 0l12 1l24.5 0l12 1.5l53.5-3l4-5l7.5-3l1.5-1.5l1-2l0-5.5l0.5-4.5l2-3.5l2.5-2.5l5-0.5l2 0.5l7.5 4.5l4.5 1l2.5 0l2.5-3.5l1.5-8l2-4.5l1.5-1.5l5-2l7-0.5l7 0.5l2.5 1l2.5 1l3 4l2 5.5l2.5 3l2.5 1l4.5 0l5-0.5l4.5 0l2.5-1l2.5-4l1.5-4l3.5-3l5-1.5l9.5-0.5l2.5-0.5l4-2l3-3.5l1.5-3.5l0-4.5l-1-5l-1.5-2.5l-1.5-1l-9.5 0.5l-7-0.5l-2.5-1l-4.5-2.5l-2.5-2.5l-1-4.5l1-5l2.5-4.5l1-7.5l1-2.5l2.5-1.5l7 0l7.5-3.5l4.5-1l1.5-0.5l1.5-2.5l1.5-12l-1.5-12l-0.5-9l-8-5l-6.5-7.5l-2.5-1l-12 0l-7-2.5l-2.5-1.5l-2.5-3l-1-3.5l0.5-2.5l1.5-2l2.5-2.5zM411.5 201l-1 2.5l0 2.5l0.5 2.5l2.5 2.5l3 1l2.5 0l3.5-1l0.5-2.5l-2-8l-4.5-1l-2.5-0.5l-2.5 2zM71 284l-4.5 2.5l-1 2.5l0.5 3l1.5 1.5l1 0.5l9-0.5l1-2l0.5-2.5l-1-3l-1-1.5l-6-0.5zM95 269.5l-1.5 3l0 2.5l0.5 2l1 1.5l2.5 1.5l2.5 0l4-3l-0.5-4.5l-1.5-2.5l-4.5-1l-2.5 0.5zM315 326.5l-2.5 3l0.5 4.5l3 2.5l3.5 0l2.5-0.5l1-2l0.5-2.5l-0.5-2l-1-2l-2.5-1l-4.5 0zM888.5 154l6.5-1l4.5 0.5l2.5 1l2.5 2l5 7l3 2l9 0.5l4.5-1l0 177.5l-16.5 0l-18.5 1l-1 2.5l-0.5 4.5l0.5 9.5l-248.5 0l0-14l-1.5-14.5l1.5-4.5l1.5-2.5l3-2l2.5-1.5l5.5-1l5-7.5l1.5-1l7-2.5l10-1l2.5-1.5l9.5-0.5l4.5 0.5l2 1.5l3 1l1.5 1.5l2 2l1.5 4l2.5 3.5l2.5 1l1.5 1l4 0l2-2l1-5l-1-4.5l-2.5-9.5l-0.5-7.5l1.5-7l1-2l2.5-2.5l2.5-1l4.5-0.5l2.5 0.5l2.5 2l1 3.5l0.5 2.5l-1 4.5l-2 5l-0.5 4.5l0.5 2.5l1.5 2.5l2.5 2l2.5 1.5l4.5 0l2-1l0.5-2l0.5-5.5l1.5-4.5l3-4l4.5-2l2.5 0l3.5 1l6.5 1l2.5-1l3.5-2l1-2.5l0.5-2.5l-0.5-11.5l0.5-2.5l1.5-2.5l3-2l7-4l2.5-2.5l5-8l2.5-2l5.5-3l4-6l2.5-2.5l4.5-1l2.5 0.5l3.5 2l4 6.5l2.5 2l2.5 1.5l2 0l2.5-0.5l2.5-3.5l2.5-5.5l2.5-3.5l7-3l2.5-3.5l1-4.5l-0.5-2.5l-2-4.5l-1.5-9.5l1-7.5l1.5-4.5l3-3l2.5-1l4.5 0l7.5 1l2.5 0.5l2-1l2.5-1.5l3.5-4.5l1.5-5l-2.5-2.5l-6-2l-3-2.5l-1-2.5l0.5-5l9.5-6.5l6.5-7l8-2l1-0.5zM805.5 272.5l-1.5 4.5l1.5 3l2.5 0.5l4.5-0.5l3-3l0-2l-0.5-3l-2.5 0l-7 0.5zM880.5 215l-1.5 3l-1 2.5l2 2l5 1.5l2.5 0l2-1.5l1-2l0.5-2.5l0-2.5l-1-1l-2.5-0.5l-7 1zM836 156.5l3-1.5l2.5 0l2.5 1.5l1.5 2l0 2.5l-0.5 2.5l-1.5 2l-2 1l-2.5 0l-1.5-1l-2-2l-1-2.5l-0.5-2.5l2-2zM46 165.5l10 0.5l5 1.5l2.5 1.5l1.5 1.5l1 2.5l-1 4.5l-1.5 2.5l-5 4l-2.5 0.5l-4.5 0.5l-9.5-0.5l0-18.5l4-0.5zM297.5 184.5l3-1l2.5 0.5l1.5 0.5l3 3l4.5 6.5l2.5 2.5l6 2.5l3.5 2.5l1 2l0.5 5l-1 12l-1.5 2l-1 1l-7 2l-2.5 4l-1.5 17l-1 2l-1.5 2.5l-5.5 2.5l-12.5 1.5l-4.5 1.5l-3 1.5l-4.5 6.5l-2.5 2.5l-2 1.5l-10 1.5l-7-0.5l-2.5-2.5l-4.5-13.5l-0.5-14.5l1.5-4.5l3.5-5.5l9.5-7.5l5-8.5l7.5-4.5l1-2.5l2-7l1.5-2.5l5-3.5l7-1l4.5-7.5zM678 199l4 0l3 2.5l1 4.5l-0.5 2.5l-1 1.5l-2.5 0.5l-2 0l-2.5-0.5l-2.5-1.5l-1-2.5l1-4.5l3-2.5zM156.5 267.5l3.5 0l2.5 1l2.5 1.5l1 2.5l0 4.5l-1 2.5l-3 2.5l-4 0.5l-2.5-0.5l-3.5-2.5l-1.5-2.5l0-2l0.5-2.5l1-2.5l4.5-2.5zM500 324.5l6 0l4.5 1.5l2.5 3.5l2.5 6.5l2.5 0.5l7 0l3.5-2.5l2.5-4.5l1.5-1.5l2.5-1l4.5 0l3 2.5l2.5 4.5l9 4l3.5 3l3 7.5l-1 11.5l-49 0l0-16.5l-2-2.5l-7.5-1.5l-2.5-1l-2-2l-1.5-2.5l0-4.5l1-2.5l4-2.5zM575 324.5l3-0.5l2.5 0.5l2.5 1l2.5 2l1 4l-0.5 2.5l-1 2.5l-3 2.5l-4 1l-2 0l-3.5-1l-2-2.5l-1-2.5l0-4.5l1.5-2.5l4-2.5z"/>
<path fill="#e6dc32" fill-rule="evenodd" d="M445 111l3 0l2 0l3.5 2.5l1 2.5l0.5 2.5l0 2l-2.5 3l-2.5 1l-2 0l-2.5 0l-3.5-1.5l-1.5-2.5l-0.5-2l0.5-2.5l1-2.5l3.5-2.5zM499.5 125.5l1.5-1.5l2.5-0.5l4.5 0l2.5 0.5l3 4l2.5 9.5l0 4.5l-1.5 7l-1.5 2.5l-2.5 1.5l-2.5 0.5l-4.5-0.5l-2.5-2l-1-2l-1.5-5.5l-1-8.5l0.5-7l1.5-2.5zM581.5 125.5l7.5 0l6.5 2.5l2.5 2l1.5 5l0 2.5l-2 3l-4.5 1.5l-10-0.5l-5 0.5l-2 1.5l-1 1l-4 7l-5 2.5l-2 0.5l-5-0.5l-4-2.5l-1-4.5l0.5-2.5l1.5-2.5l12.5-4.5l2.5-2.5l4.5-7l6-2.5zM694 151.5l5 1l2 6l-0.5 5l-1.5 2l-2.5 1.5l-4.5 0.5l-2.5-0.5l-2-1.5l-1-2l-0.5-2.5l0.5-4.5l0.5-2l2.5-2l4.5-1zM317 154l12.5-1l14.5 2l14.5-2.5l4.5 0.5l2.5 1.5l5.5 9l3 2l3.5 1.5l12.5-0.5l4.5 1l1.5 0.5l2 2.5l1.5 4.5l2.5 4l7 3.5l5 0.5l5.5-0.5l4-2.5l1.5-2.5l0.5-2.5l-0.5-2l-1.5-2l-9.5-4.5l-3-3l-1-2.5l-0.5-2.5l1-2l1-1l2.5-1l5-0.5l4.5 1.5l2.5 3l2.5 7l2.5 2l4.5 0.5l14.5-1l2.5-1l1.5-7.5l2-2l4-1.5l4.5-1l2.5 1l2.5 3.5l2.5 5.5l2.5 1.5l7 2l3.5 3l1 2.5l0 4.5l-1 2.5l-2.5 2.5l-3.5 1l-2 0l-2.5-0.5l-3.5-3l-4-10.5l-5-1l-7 0.5l-0.5 1.5l-0.5 4.5l2 9.5l0.5 14.5l1 5l2.5 2.5l3.5 2l3.5 0.5l5 0l2-0.5l5.5-2.5l3.5-4.5l2.5-2.5l3.5-1l2-0.5l2.5 0.5l2.5 2l1.5 3.5l1 5l-0.5 7l1.5 5l1.5 2.5l2.5 2l2.5 1l9.5 0l4.5 0.5l2.5 1l2.5 3l2.5 8.5l0.5 5l-1 4.5l-2 3.5l-2.5 1.5l-2.5 1l-4.5 0l-2.5 0l-9.5-3.5l-3-2.5l-3.5-4.5l-2.5-2.5l-5.5-3l-2.5-1.5l-5.5-7.5l-4-3l-5-1l-14.5 1.5l-9.5-1l-7.5-1.5l-11.5 0.5l-2 2.5l0 4.5l1 9.5l-1 7l-3 2.5l-3 1l-12 0.5l-7 2l-2.5 1.5l-5 7l-2 2.5l-8.5 4.5l-1.5 2.5l-0.5 2.5l0.5 2l2.5 3.5l7 2.5l2.5 1.5l2.5 5.5l1 8.5l-0.5 4.5l-1.5 5l-1.5 2l-2.5 2l-6 0.5l-1.5 2.5l-0.5 2.5l0.5 2.5l5 2l5 1l5 2l9.5 0.5l7.5-1.5l7 0l9.5 1l6 2l1.5 2.5l1 4.5l0 5l-1.5 9.5l0.5 11.5l-62 0l1.5-5l0-6.5l-2.5-3.5l-4.5-4l-2.5 1.5l-1 1l-1.5 3.5l-0.5 6l1 7l-105 0l0.5-4.5l0-8.5l-2.5-4.5l-4.5-2l-7.5 0.5l-9.5 1l-39-1.5l-21.5-1l-12 0l-19.5 2.5l-19 0.5l-12.5-1l-4.5-1l-5-2l-7-0.5l-7.5 0.5l-2.5 1l-5 1.5l-14 1l-29-0.5l0-76l12 0l9.5-0.5l14.5 0.5l5-0.5l4.5 0l2.5-2l-1.5-7l0.5-5l2-7l2.5-5l0.5-2l-0.5-5l-0.5-2.5l-1.5-2l-4-1l-5.5 1l-4 2l-4 7.5l-5.5 4.5l-6 7l-4 3.5l-2.5 1l-4.5 0.5l-9.5-0.5l0-58l26.5 0l14.5-2l19-0.5l2.5-3l1-2.5l3-2.5l3.5-1l4.5-1l14.5-0.5l19.5-1.5l12-0.5l9.5 1l5 2l2.5 1.5l1.5 2.5l3.5 6.5l5.5 3l2.5 2.5l1 4.5l-0.5 2.5l-1.5 2.5l-2.5 2l-5.5 2.5l-3 2.5l-3.5 5.5l-2.5 2.5l-7 5.5l-5 7l-2.5 2.5l-4.5 2l-7.5 0l-5 0.5l-2 2l-1 3.5l-1.5 2l-0.5 2.5l-2.5 2.5l-2 1l-4.5 2l-6.5 1.5l-0.5 2.5l2 4l7 5l2 3l0.5 4.5l-1 2.5l-2 2.5l-7 4.5l-4 5l-2.5 2l-12.5 4l-6.5 1l-3 1.5l-2 3l-0.5 5l1.5 9.5l3.5 3l4.5 1.5l7.5 0.5l9.5-1.5l12 1.5l24.5 0l12 1.5l65-4l2.5-3.5l0.5-1.5l0-14l2-5l2.5-2l2.5-0.5l2.5 0l4.5 1.5l4 3.5l1 6l2.5 2.5l2 1.5l2.5 0l1.5-3l2-14l1.5-5l2.5-4l2.5-1.5l9.5-2.5l7 1l2.5 0.5l3 2l1.5 2.5l3 7.5l2.5 2l4.5 1l14.5-1l1-0.5l1.5-1.5l3.5-7.5l1.5-1.5l5-2l12-1l2-0.5l3.5-2.5l4-6l1-3.5l-0.5-4.5l-1.5-5l-1.5-1.5l-2.5-1l-12 1l-7-1l-3.5-2l-2.5-2.5l-1-4.5l0.5-2.5l1.5-3l2.5-3l2.5-1l4.5-4l3-5.5l4.5-3.5l9.5-2.5l1.5-1l1-2.5l1-12l-1-9.5l0-12l-2.5-7.5l-1.5-2l-1-3l-4.5-2l-22-0.5l-5-1l-2-1l-2.5-2l-1.5-2l0-2.5l0.5-2.5l1.5-2l4-2.5zM404 198.5l-3.5 3l-1 2l0 2.5l2 2.5l5 4l7.5 8l5.5 2l4 0.5l1-0.5l1-2l0.5-7.5l-2.5-10l-1.5-4l-3-1.5l-5 0l-10 1zM68.5 284l-4.5 2.5l-0.5 2.5l0 2.5l1 2l1.5 1l14.5 0.5l6.5-1.5l2-2l1.5-5l-1-2l-4.5-1.5l-7-0.5l-9.5 1.5zM95 267.5l-2 0l-1 2.5l-0.5 5l1 5l2.5 2l5-1l4-1.5l1.5-2.5l0.5-2l-0.5-2.5l-1-2l-2.5-1.5l-2-1l-5-0.5zM312.5 326.5l-1.5 3l0 2l0 2.5l2 2.5l6.5 1l2.5-0.5l2-0.5l1-2.5l0.5-2.5l-1-4.5l-5-1.5l-4.5 0l-2.5 1zM888.5 156.5l4-2.5l2.5 0l4.5 0.5l3 2l2.5 2l2.5 5l2 2l2.5 1.5l4.5 1l9.5-1l0 174.5l-16.5 0.5l-30.5 1.5l-1.5 2.5l-0.5 2.5l0.5 11.5l-234 0l0-11.5l-0.5-7.5l-1.5-7l0.5-4.5l1.5-3.5l2.5-2l10.5-4l3-5l2-2.5l3.5-1.5l7.5-1l9.5-3l10 0l4.5 2l2.5 1.5l4 4.5l1 3.5l1 1.5l4 2.5l2 0.5l5-0.5l5-2l2 0l5 0.5l2.5 1l5.5 0l2-1l2-1l1-2.5l1.5-2l1-12.5l2-4.5l2-2.5l2.5-1.5l2-0.5l12.5 0.5l3.5-1l3-2l1-2.5l0.5-2.5l-0.5-11.5l0.5-2.5l1.5-2l2.5-2l7-3.5l2.5-2.5l5-8.5l2.5-2l6.5-3.5l3-4.5l2.5-2.5l2.5-1l2-0.5l2.5 0.5l2.5 1.5l5 7.5l2.5 2l4.5 1l2.5-0.5l2-1l5-9.5l2.5-2l20-5l0.5-2.5l-0.5-2.5l-2-2l-5.5-2l-2.5-1.5l-2.5-3.5l-1-2.5l-0.5-5l1.5-9.5l2.5-4l2.5-2l4.5-1l10 1l4.5-2l3.5-3.5l4-9l2.5-2l3.5-1l3.5-2.5l1-2.5l0-2l-2-12l0.5-2.5l1.5-2zM805.5 271.5l-2 1l-1.5 4.5l0.5 2.5l2.5 2.5l3 1l2 0l3.5-1l2.5-2.5l1.5-2.5l0-2l-0.5-2.5l-2-1.5l-2.5-0.5l-7 1zM837 269.5l-1.5 0.5l-1.5 2.5l-0.5 2.5l0.5 2l1.5 2.5l1.5 1l2 0.5l2.5-0.5l1-1l1.5-3.5l0.5-3.5l-0.5-2l-2.5-1.5l-4.5 0.5zM863.5 257.5l-1.5 0.5l-0.5 2.5l0.5 2.5l1.5 2.5l2.5 1l2 0l2.5 0l2.5-2.5l0.5-1l-0.5-2.5l-1-2.5l-8.5-0.5zM885 213l-4.5 1l-2.5 2l-1.5 4.5l1 2l3 2l7 1.5l7.5-0.5l4.5-2l2.5-3l-2-5l-4.5-2.5l-5.5-1l-5 1zM42 168l0-1l9.5-0.5l4.5 0.5l4 1l3.5 2.5l1 2.5l0 2l-1 2.5l-2.5 3l-5 2.5l-4.5 0.5l-9.5-0.5l0-15zM287.5 194l5.5-0.5l10 1.5l4.5 2.5l3 4l1 4.5l0.5 14.5l-2 9l-0.5 14.5l-1.5 4.5l-2.5 2.5l-2.5 1l-12.5 2l-5.5 2l-3.5 2l-5.5 7l-2 1.5l-7.5 2l-5 0l-2.5-1l-2-0.5l-2.5-3.5l-3-10l-1-7l1-9.5l0.5-2.5l3-5l9.5-7l4.5-7l2-2.5l5-3l1.5-1.5l2-7l2.5-5l1.5-1l4-1.5zM153.5 270l2-1l2.5-0.5l2 0l3.5 1.5l1.5 2.5l0.5 2.5l-0.5 2l-1.5 2.5l-3.5 2l-2 0l-2.5-0.5l-2.5-1.5l-1-2.5l-0.5-2l0.5-2.5l1.5-2.5zM718 284.5l3-2l2.5-0.5l2 0.5l3.5 2l1 2l0 5l-2 5l-2.5 2l-4.5 0.5l-2.5-0.5l-2.5-2l-1-3l0.5-4.5l1-2.5l1.5-2zM458.5 322l3.5-0.5l2.5 0l5 2.5l2 3l1 2.5l0 4.5l-1.5 2.5l-4 3l-5 1l-4.5-0.5l-3.5-1l-2-2.5l-1-5l0-2l1-2.5l3-3.5l3.5-1.5zM498.5 327l2.5-1.5l2.5-0.5l4.5 1l2 1l1.5 2.5l1.5 7l2.5 1l18-1l8.5-1.5l9.5 3l4 3l1.5 2.5l1 2.5l0.5 4.5l-0.5 9.5l-47 0l0-19l-0.5-1.5l-7-0.5l-5-2.5l-1-2.5l-0.5-2.5l0-2l1.5-2.5zM572.5 327l3.5-1.5l2-0.5l2.5 0.5l3 1.5l1.5 2.5l0.5 2l-0.5 2.5l-1.5 2.5l-3 1.5l-2.5 1l-2-0.5l-2.5-1l-2.5-3.5l-0.5-2.5l0.5-2l1.5-2.5z"/>
<path fill="#c8e600" fill-rule="evenodd" d="M444 113.5l1.5-0.5l2.5-0.5l2 0.5l1.5 0.5l1.5 2.5l0 4.5l-0.5 1l-2.5 2l-2 0l-2.5 0l-2.5-1.5l-1-1.5l0-4.5l2-2.5zM504.5 125.5l3.5 0l2.5 1.5l2.5 4l1.5 6.5l-1 7l-1 2.5l-2 3l-3 1.5l-2 0l-2-1l-1.5-1.5l-1-2l-2-9.5l0-5l1-4.5l1-1l3.5-1.5zM578 128l7.5-1l7 1l3.5 2l1.5 5l-2.5 3l-3.5 1.5l-13.5 0l-4.5 0.5l-1.5 2l-2 7l-2 2.5l-4 1l-2.5 0l-3-1l-1-2.5l-0.5-2l0.5-2.5l1.5-2l2.5-1l4.5-1l5-2l4.5-8.5l2.5-2zM354.5 154l4-1l4.5 1l2.5 1.5l5 8l2.5 2l2 1.5l5 0.5l10-0.5l4.5 1l2.5 2.5l1 2.5l1.5 4l2.5 3.5l4.5 2.5l5 1.5l7.5-0.5l4.5-1l2.5-4l1-4l0-4.5l1.5-1l17-1.5l4.5 0.5l2.5 2l0.5 2.5l2 14l-1 9.5l0.5 5l0.5 2l2.5 3.5l2.5 2l4.5 1.5l5 0l5-0.5l4.5-1.5l3.5-2.5l4-5l2.5-1.5l2 0l2.5 0.5l3 3.5l1 14.5l0.5 2.5l3 4.5l2.5 2l2.5 1l2 0.5l7.5-1.5l3.5 0.5l3.5 2l2.5 4l1.5 5.5l0 5l-1.5 5.5l-2.5 2l-2.5 1l-2 0.5l-5 0l-6.5-2l-3-2l-6.5-7.5l-8.5-4.5l-2.5-2.5l-4.5-6l-2.5-2.5l-2-1l-5-1l-17 1.5l-5 0l-12-2.5l-7-1l-2-1.5l-1.5-7.5l-2-4.5l-2-10.5l-2.5-2l-7-0.5l-7.5 1l-4.5 1.5l-2 1l-2 2.5l-0.5 2l0 2.5l2 4l7 5.5l4 5l3 2l7.5 3l3 2l1 2l0.5 7.5l-0.5 7l-1.5 4l-2.5 2l-4.5 1l-5 0l-5 0.5l-4.5 1.5l-2.5 1.5l-2 1.5l-2 2l-1 3l-2.5 2.5l-7 3.5l-3.5 3l-1.5 5l1.5 4.5l2 2.5l1.5 1l6.5 1.5l3 2l1 2.5l1.5 9.5l0 4.5l-2.5 5.5l-2.5 1.5l-7 1.5l-3 1l-1 2.5l0.5 5l2.5 2l6 1l9.5 3.5l9.5 0.5l5-1.5l7-1l12 1.5l3.5 1l2 2.5l1 4.5l-1.5 14.5l0.5 11.5l-58.5 0l1.5-9.5l-1.5-4.5l-2-2.5l-3-2.5l-4.5-2.5l-1 0.5l-2 2l-2 5l-0.5 4.5l0.5 9.5l-101 0l0-11.5l-0.5-3.5l-2.5-3.5l-4.5-1.5l-17 1l-14.5 0l-26.5-1l-19.5-1.5l-12 0l-9.5 2l-7.5 0.5l-21.5 0.5l-15-1l-9.5-4l-4.5 0l-5 0l-7.5 3.5l-4.5 0.5l-14.5 1l-26.5-0.5l0-75l29-0.5l14 2l2.5 1.5l1.5 1l0 7l-1.5 3l-2.5 0.5l-4.5 0l-12 3l-2.5 1l-4 2l-1 5l1 2l1.5 2.5l9.5-0.5l10 1.5l4.5-1l2.5-1.5l0.5-1l2.5-7l1.5-2l10-4l1.5-1l1-2.5l0.5-2l-0.5-2.5l-1-2.5l-4-2l-8-2.5l-2-2.5l-1-2.5l-1-7l0.5-5l1.5-4.5l3.5-5l0.5-2l0-5l-1-2.5l-1-2l-1.5-1l-2.5-0.5l-5 0l-4.5 1l-2.5 1l-2 1.5l-3 5.5l-6.5 6.5l-5.5 7l-3.5 2.5l-6 1.5l-9.5-1l0-55.5l21.5-0.5l36.5-1.5l2-0.5l2.5-1.5l3-5l3-2.5l6-1.5l14.5 0l19.5-1.5l14.5-0.5l7 0.5l5 2l3.5 3.5l4 8l4.5 2.5l2.5 2.5l1 3.5l-1 3l-2.5 2.5l-7 3.5l-2.5 1.5l-1.5 1.5l-1 2.5l-2.5 3l-8 6.5l-2.5 2l-2.5 5l-2.5 2.5l-3.5 1l-10 0.5l-4.5 2l-4 10.5l-1 1l-2.5 2l-2.5 1l-10.5 3l0 2.5l0.5 2.5l2 2.5l8 6l1 3.5l0 2l-1 2l-3 3l-6.5 4l-5 6l-11.5 4l-7.5 1l-4 1.5l-1.5 2.5l-1 4.5l-0.5 7l0.5 5l1 2.5l3 2.5l5 2l4.5 0.5l2.5-0.5l5-1.5l4.5-1l39 1l12 2l2.5 0l9.5-0.5l7.5-1l45.5-2.5l2.5-1l1.5-2.5l0-2.5l-0.5-12l1-4.5l1.5-2.5l1.5-1l5-1l4.5 2l2.5 2.5l1 2.5l1.5 6.5l2.5 2l2 1l2.5 0l2.5-2.5l2-16.5l1-5l2-2.5l5-3l4.5-1l5-0.5l4.5 0.5l2.5 1l2.5 1.5l1.5 2l3.5 9l2.5 1.5l4.5 0.5l14.5-0.5l2.5-0.5l1-1l3-7l1.5-2l2-1l4.5-1.5l7.5-0.5l4.5-1l2.5-1.5l2.5-2l5.5-9.5l0-2l-1.5-7.5l-2-2l-4.5-1.5l-12 1l-7-1l-2.5-1l-2.5-2.5l-1-2.5l0-2l0.5-2.5l1-2.5l2-2.5l7-4.5l4.5-7l2.5-2.5l3-1.5l2-0.5l7-0.5l2-2l1-5l0.5-9.5l-1-9.5l0-12l-2.5-4.5l-4.5-11l-2.5-1.5l-4.5-0.5l-6 1l-6 0.5l-10-0.5l-5-2.5l-2-4.5l1-2.5l2-2l9-2l7.5 0l9.5 1.5l2.5 0l7-0.5l3.5-1.5zM317 324.5l-4.5 1l-2 1.5l-1 2.5l0.5 4.5l1 2.5l1.5 0.5l9.5 1.5l2.5-0.5l2-1.5l1-2.5l0-4.5l-1-2.5l-4.5-2l-5-0.5zM412 156.5l4.5-1.5l4.5 0.5l2 1l2 2l1 4l0.5 3l-0.5 3l-7-1l-5-2.5l-3-4l0-2.5l1-2zM459 156.5l5.5-1l1.5 1l1.5 2l2 7l2.5 1l7 1l2.5 1l2 2l1.5 2.5l0.5 2l-1.5 5l-2.5 1.5l-2.5 1l-2 0l-2.5-0.5l-2-2l-1.5-2.5l-2.5-9.5l-1.5-1l-7-0.5l-3.5-1l-1-2l0.5-5l3-2zM689 156.5l3-2l2 0l2.5 0l2.5 1.5l0.5 2.5l-0.5 5l-4.5 2l-3.5 0l-2.5-2l-0.5-2.5l0-2.5l1-2zM891 156.5l4-1.5l5.5 1.5l2.5 2l4.5 7l2 2l2.5 1l4.5 1l9.5-1l0.5 172.5l-17 0l-26.5 1l-6.5 1.5l-1 2.5l-0.5 4.5l0.5 9.5l-230 0l0.5-11.5l-1.5-7.5l-2-4.5l0-2.5l0.5-4.5l1-2.5l2.5-2.5l12.5-4.5l2.5-5l3.5-2.5l7.5-1.5l2.5-1l5-2l9.5-0.5l4.5 1l4 2l2.5 2l3.5 7.5l2.5 2l2.5 1l4.5 0.5l9.5-2l10 1.5l5-0.5l2-1.5l2.5-4l2-14l1.5-4.5l1.5-1.5l2.5-1.5l2-0.5l10 0.5l5-1l2-1l2.5-2l1-5l0-11.5l1.5-4l2.5-2l7.5-3.5l2-2.5l5-8l2.5-2l8-4.5l4-5.5l2.5-1.5l2-0.5l2.5 0.5l2.5 2.5l3 4.5l2.5 2.5l4.5 2l4.5 0l4-2l3.5-7.5l2-2l5-1l7.5-3l5-0.5l5.5-2.5l0.5-2.5l0-2.5l-1.5-2l-9.5-3.5l-3.5-3.5l-1.5-5l2-12l3-3.5l2.5-1l9.5-0.5l4.5-1l2.5-1l2.5-2l2-2.5l3.5-7.5l2-1.5l2.5-1l7-2l1-2.5l0.5-4.5l-2.5-12l0.5-2.5l1.5-2zM892.5 210.5l-12 2.5l-2.5 1.5l-1 1l-1 2.5l-0.5 5l2.5 2.5l12 2.5l5 0l4.5-1.5l2.5-1l1.5-3l0.5-2l-1.5-5l-3-2.5l-7-2.5zM808 270l-2.5 0.5l-3.5 2l-2 7l1.5 2.5l1.5 1.5l5 1.5l2 0l5-1.5l2-1.5l2-2.5l0.5-2.5l-0.5-4.5l-3.5-2.5l-7.5 0zM837 267.5l-4.5 2.5l-1.5 2.5l0 4.5l0.5 2.5l2 2.5l3.5 1l2 0l3.5-1l2-2.5l1.5-4.5l0-5l-2-2.5l-2.5-0.5l-4.5 0.5zM861 257.5l-2 0.5l-0.5 2.5l0.5 2.5l2 3l2.5 2l4.5 1l2.5-0.5l2.5-1l1.5-2l0.5-2.5l-1-5l-3.5-1l-4.5-0.5l-5 1zM42 168l9.5-0.5l4.5 0.5l2.5 1l3 1.5l1 2.5l0 2l-0.5 2.5l-3.5 3l-4.5 1.5l-5 0.5l-7-1l0-13.5zM283.5 196.5l2.5-1.5l7-0.5l11 4.5l3.5 3.5l3 15.5l-0.5 4.5l-2 5l0 2l-0.5 14.5l-2.5 5.5l-2.5 1.5l-14.5 2.5l-4.5 2l-4 2.5l-3.5 5l-3.5 2.5l-6 1l-7.5-0.5l-2-2l-1-1l-1.5-4l-2-8l-0.5-7l1.5-9.5l1-2l2-3l5-3l4.5-4l5.5-7.5l6-4l1-1.5l1.5-8l3.5-5zM155 270l5-0.5l2.5 1.5l1 1.5l0 4.5l-2 2.5l-1.5 0.5l-4.5 0l-2.5-3l0-3.5l2-3.5zM720.5 284.5l5-0.5l3 2.5l0 5l-0.5 2l-2.5 2l-2.5 0.5l-2 0l-3.5-2.5l-0.5-2l1-5l2.5-2zM455 324.5l2.5-1.5l4.5-0.5l5 1l2 1l2 2.5l0.5 2.5l0 4.5l-1 2.5l-3.5 2.5l-5 1l-4.5-0.5l-2.5-1.5l-1.5-1.5l-1-5l1-4.5l1.5-2.5zM501 327l5-0.5l2 1l2 2l1 2l0 2.5l-1 2.5l-2 1l-2 0l-2.5-0.5l-2.5-1l-1.5-2l-0.5-2.5l0.5-2l1.5-2.5zM575 327l5.5-0.5l2.5 2l1 3l-0.5 2.5l-2 2.5l-3.5 0.5l-2 0l-2.5-1.5l-1-1.5l0.5-4.5l2-2.5zM515 339l5-1l22-1l5 0.5l4.5 2l2.5 1.5l2 2.5l1 2.5l1 4.5l-1 9.5l-45.5 0l0.5-16.5l1-3l2-1.5z"/>
<path fill="#8cd228" fill-rule="evenodd" d="M503.5 128l4.5 0l2.5 1.5l1.5 5.5l0 2.5l-1.5 2l-2.5 1l-4.5 0l-2.5-3l-0.5-2.5l0-5l3-2zM357 154l4 0l2 0.5l2.5 2l5 7.5l2.5 2l2 1l5 0.5l10 0l3.5 0.5l3 2.5l1 2.5l2 7l2.5 2.5l2 1.5l3 0.5l3 2.5l0.5 2.5l0 2.5l-1.5 2l-7 1.5l-2.5 1l-2.5 2.5l-1.5 2.5l-0.5 2l0.5 5l3 4.5l3.5 11.5l2 0.5l7.5-0.5l2.5 0.5l7 3l2.5 3.5l0.5 3l-0.5 3l-9.5 6l-4 5l-10.5 4l-5 2.5l-8 3l-4.5 7.5l-3 2l-6 3.5l-1 1.5l-2 7l-0.5 9.5l1 2.5l2.5 1l2 0.5l2.5-0.5l2.5-1l5-5.5l2.5-1l4.5 1.5l2.5 3l2 11.5l-0.5 2l-1.5 4l-2.5 2l-2 0.5l-12.5 1.5l-2.5 0.5l-2 1l-1.5 2.5l-0.5 2.5l0.5 2.5l1.5 1l7 1l10 2l6.5 3l2 2.5l1 3.5l2.5 5l8.5 3l0.5 5l0 14l-30 0l1.5-9.5l-1.5-4.5l-3.5-4l-8.5-5.5l-1-3.5l-1-1.5l-1.5-3.5l-2.5-1.5l-4.5 2.5l-2.5 3.5l-0.5 1.5l0 7l1.5 2.5l0.5 2.5l0 14l-93 0l0.5-11.5l-1-4.5l-2.5-3l-4.5-1.5l-17 1l-39-1l-14-1l-7.5-1.5l-9.5 0l-2.5 0l-7.5 2.5l-7 1l-24 0.5l-15-1.5l-3-0.5l-4-2.5l-1.5-2.5l0-4.5l1-2.5l3-2.5l4.5-1.5l7.5 0l34 0.5l7 1l5 1.5l2.5 0.5l9.5-0.5l7.5-2l45.5-2l4.5-2l1-2.5l0-5l-1.5-7l0.5-4.5l0.5-2.5l2-2.5l3-1l2.5 0l2 0.5l2.5 1.5l1.5 1.5l1 2.5l1 7l1.5 2l2.5 2l2 1l2.5 0l2.5-2.5l2.5-19l1.5-5l1.5-2l4-2.5l7.5-2l7 0.5l2.5 1l2.5 2l2 3l2 7l1 1.5l2.5 1l14.5-0.5l7 1l2.5 2l2.5 4l3 3l4 2.5l5 0.5l4-0.5l5.5-2l1-3l0-2l-2-2.5l-6-2.5l-14.5-0.5l-1-2l0.5-4.5l3-4l1.5-0.5l13-2.5l2-0.5l3.5-2l2.5-2.5l4-6.5l2.5-2.5l5.5-2.5l1-2.5l0.5-2.5l-0.5-2.5l-2-1.5l-2-0.5l-5-0.5l-5-1.5l-5 0l-9.5 1l-4.5-0.5l-4-1l-2.5-2.5l-1-2.5l-0.5-2l2-5l2.5-2.5l5.5-3.5l5-7.5l2.5-2.5l4.5-2l15 0l2-1l2-2l1-2.5l0-5l-1-7l0-2.5l2-7l0-4.5l-0.5-2.5l-1.5-2.5l-4-1l-5-3l-3.5-5.5l-3-9.5l0-4.5l0.5-5l1.5-2l5.5-2.5zM288 298.5l-3 2.5l0 2l0.5 2.5l0.5 1l1.5 1.5l3 0l3-2.5l1-4.5l-0.5-2.5l-1-0.5l-5 0.5zM312.5 324.5l-3.5 2.5l-0.5 2.5l0 4.5l1 2.5l5.5 1.5l9.5 1l3.5 0l4-2l2-1.5l1-1.5l-0.5-4.5l-2.5-2.5l-5-1l-2.5-1.5l-2.5-0.5l-5 0l-4.5 0.5zM324.5 156.5l7.5-0.5l3.5 0.5l1 0.5l2 1.5l0 2.5l-0.5 2.5l-1 2l-3 1l-4.5 0.5l-5.5-1.5l-1-4.5l1.5-4.5zM415 156.5l5 0l3 2l1.5 5l-1 2.5l-4.5 0l-5-3l-1-2l0-2.5l2-2zM895 156.5l2 0l4 2l4 7l4.5 4l7 1.5l9.5-1l0 12.5l-14 0l-5-1.5l-2-3.5l-1-4.5l-1.5-2.5l-10-4.5l-1.5-5l0.5-2.5l3.5-2zM474 168l5 1l3 1.5l2 2.5l0.5 2l-0.5 2.5l-2.5 3l-2.5 1l-2 0l-2.5-1l-2.5-2.5l-1-3l0-4.5l1-2l2-0.5zM42 170.5l0-0.5l7-0.5l9.5 0.5l2.5 3l0 2l-1 2.5l-4 3l-4.5 0.5l-9.5-0.5l0-10zM433.5 170.5l9.5-1l5 0l2 1l2 2.5l1.5 9.5l0.5 7l-1 4.5l-1 2.5l0 5l2 4.5l3.5 3.5l4.5 2.5l7.5 0.5l5-0.5l7-2.5l2.5 0l5 1l4.5 2l4 10l2.5 5l-0.5 4.5l-1 2.5l-2 2.5l-3 0.5l-2.5-0.5l-3-2.5l-6.5-8.5l-2.5-2l-2-1l-10 0l-7 0.5l-7.5 1l-7-0.5l-4-1.5l-1-0.5l-1.5-1.5l-3-5l-5-2l-2.5-1.5l-3-6l-0.5-9.5l2-4.5l0.5-5l0-4.5l1-6.5l1-3l1.5-1.5l2.5-1zM149.5 182.5l18-1l4.5 0.5l5 2l2.5 3l5 9l4 3l2 2.5l0.5 2l-1 2.5l-2 2.5l-5.5 2.5l-10.5 2l-2.5 2.5l-1.5 5l-0.5 0.5l-1.5 4l-1 1l-5 3l-7 0.5l-5 5.5l-7 3l-2.5 6.5l-1 4l-1.5 2.5l-2.5 2.5l-2.5 1l-12.5 3.5l0 2.5l3.5 7l1.5 5l0 4.5l-1 2.5l-3.5 3l-6.5 2l-3 1l-2.5 6l-1.5 2l-3.5 1l-4.5 0.5l-3-1.5l0-4.5l1-2.5l3-2l6-2l2.5-2l1.5-5.5l0-2.5l-1.5-3l-2.5-2l-7.5-2l-3.5-2.5l-1.5-2.5l-1-7l0-5l2-4.5l4.5-5.5l4.5-3l2.5-3.5l0-2.5l-2.5-2.5l-9.5-1.5l-5-0.5l-19 4l-2.5 1l-1.5 4.5l-0.5 7l-2.5 5l-2.5 2l-7.5 2.5l-9.5-1l0-53.5l19 0l41-2l2.5-1l2-1.5l3-5l2.5-2l2-0.5l35.5-2zM153 198.5l-1.5 0.5l-1.5 2.5l-0.5 2l0.5 2.5l1.5 2.5l1.5 0.5l3.5-0.5l4-2.5l0.5-2.5l0-2l-1-1.5l-2-2l-5 0.5zM880.5 184.5l2.5-1l4.5-1l2.5 0l9.5 2l2.5 1.5l3 6l2 1.5l9.5-1l9.5 0.5l0 105l-9.5-1l-4.5 1l-3.5 3l-1.5 4l-0.5 3l0.5 1.5l1 1l4 1l4.5 0.5l9.5-0.5l0 29l-41 0.5l-4.5 0.5l-6.5 2l-1 7l0.5 9.5l-215.5 0l1-9.5l-1-4.5l-1.5-2.5l-8-1.5l-2.5-1.5l-2.5-4l-0.5-2.5l0.5-4.5l1.5-2.5l3.5-2.5l17.5-4.5l4-4.5l1.5-3l3.5-2l2.5-1l4.5-1l7.5 0l4.5 0.5l2.5 1l2.5 2l2 3l3 5.5l2.5 2.5l2.5 1l4.5 0.5l9.5-2l10 1l4.5-0.5l2.5-1.5l2.5-3l1.5-6l1-9.5l2.5-5l2.5-2l2-0.5l10 0.5l5-1l2.5-1.5l2-1.5l1.5-3l-0.5-12l0.5-2l1-3l2.5-2.5l8-4l2-2.5l4.5-7.5l2.5-2l9-5l3-4l2.5-1.5l2-0.5l2.5 0.5l2.5 2.5l1 3l6.5 4.5l2.5 1l4.5 0l13-3l1-4.5l1.5-5l4-2l5-1.5l6.5-1l3-1.5l7-0.5l2.5-0.5l2.5-6l2-1l10.5 2l3.5 5l3.5 0.5l7-0.5l2.5-5l1-7l-0.5-4.5l-1-2.5l-2.5-2.5l-6.5-3l-2.5-0.5l-14 3.5l-2.5 2.5l-3 9l-5 1.5l-4.5 0l-9.5-2.5l-2.5-1l-2-2l-1.5-2.5l0-2.5l1-4.5l8-5l4.5-4.5l9-4l2.5-1.5l3-4l2.5-5l2-2.5zM866 255.5l-10 2l-7-0.5l-1.5 1l-1 5l-2.5 2l-4.5-0.5l-2.5 1l-2.5 1l-2.5 2l-5 2l-2 0.5l-5 0l-2.5-1.5l-5 0l-7 0.5l-2.5 0.5l-3 2l-2 6.5l-4.5 3.5l-0.5 6.5l0.5 3.5l2.5 1.5l4.5 1l5-0.5l7-2l14.5 0.5l2.5-1l5-5.5l9.5-3.5l3-6l2-9l5 0l14 3l2.5 0l2.5-1l2.5-2.5l1-4.5l-0.5-5l-3-2l-7-0.5zM284.5 196.5l3.5-1l2.5-0.5l2.5 0.5l2.5 1l2.5 2.5l2.5 7.5l7 5l1.5 4l0 5l-1.5 3.5l-2.5 2.5l-4.5 2l-1 1l-1.5 7.5l-0.5 11.5l-1.5 2.5l-10 2.5l-7.5 3.5l-7 0l-5-1l-5 0l-4.5-0.5l-2.5-2l-1-5l0-4.5l1-4.5l8.5-5l6-7l9.5-7.5l1-2l0.5-2.5l-0.5-4.5l0.5-7.5l2-4.5l2.5-2.5zM517 239l3-1l2.5 0.5l2.5 2l0.5 1l-0.5 4l-1.5 3l-3.5 2.5l-2 0.5l-5-0.5l-1-2.5l0-2l0.5-2.5l1.5-2.5l3-2.5zM42 267.5l0-0.5l12 0l12-1l7 0.5l4.5 1l2.5 2.5l1 2.5l0.5 2.5l-2 4.5l-4 1.5l-11.5 3.5l-3 1.5l-19 0l0-18.5zM62.5 298.5l6-2l7 0l7.5 2l4.5 0.5l2.5 1.5l0 2.5l-2 5l-7.5 5.5l-1.5 1.5l-1 2.5l0.5 2.5l9 1l4.5 3.5l2 2.5l0.5 2.5l0 4.5l-1.5 2.5l-5.5 2.5l-4.5 1l-14.5 1l-26.5-0.5l0-33.5l7 1.5l6-0.5l3.5-2l4-7.5zM456.5 324.5l3.5-1.5l2 0l2.5 0l3.5 1.5l2 2.5l1 2.5l0 4.5l-1.5 2.5l-2.5 2l-5 1l-4.5-0.5l-2.5-2l-1.5-3l0-4.5l0.5-2.5l2.5-2.5zM412.5 327l4-1.5l4.5-0.5l12 2l3.5 2.5l0.5 4.5l0 2.5l-1.5 2l-2.5 1.5l-9.5 2l-4.5 0l-5-1.5l-2-1.5l-1.5-2.5l-0.5-7l2.5-2.5zM518 339l7-0.5l10 0.5l9.5-1l4.5 1.5l2.5 1l3.5 3l1.5 5l0.5 4.5l-1 7l-43.5 0l-0.5-9.5l0.5-7l1-2.5l2-1.5l2.5-0.5z"/>
<path fill="#00dc00" fill-rule="evenodd" d="M353 156.5l3-1.5l5-0.5l2 0.5l2.5 2l4 6.5l3.5 3l4.5 1.5l12.5-0.5l2 0.5l2.5 1.5l2.5 3.5l2.5 9.5l0 4.5l-1.5 5l-3.5 2.5l-5 2l-3.5 2.5l-1 2.5l0 2l1 2.5l1.5 1.5l2.5 1l2 0.5l2.5 1.5l3 5l1.5 7l0.5 12l1 7l-0.5 5l-1.5 4.5l-1.5 1.5l-2.5 1.5l-11 4l-3.5 5.5l-2.5 2l-4.5 1.5l-2.5 0.5l-1.5-2l-1-7.5l-2.5-2.5l-4.5-1l-10-1.5l-12 1.5l-7-0.5l-2.5-0.5l-2.5-2l-2-3l0-2l0.5-2.5l1-2.5l7.5-5.5l2.5-3l2.5-4l2.5-3l2.5-1l4.5-1l7.5 1.5l5 0l2-0.5l2.5-1.5l2.5-3l0.5-5l-1-12l2.5-7l-0.5-7l-0.5-2.5l-10.5-3.5l-2.5-2l-2.5-3.5l-3-10l0-2.5l1.5-7l1-2zM441.5 170.5l5 0l4 2.5l2 16.5l-2.5 5l-7 2l1.5 9.5l1 1.5l9.5 5l2 3l0.5 5l-1 2l-1.5 0.5l-5 0.5l-4.5-0.5l-2.5-1l-2-1.5l-3-5.5l-2.5-1.5l-4.5-1.5l-2.5-1.5l-2-4.5l-1-4.5l0-2.5l1-2.5l2-2l2.5-1l7-1l1.5-0.5l-0.5-17l1-2l1.5-2.5zM473 170.5l1.5-0.5l4.5 0l2.5 2l1 1l0 2l0 2.5l-1 1.5l-2.5 1.5l-3-0.5l-1.5-1l-2.5-4l0-3l1-1.5zM164.5 182.5l3-0.5l4.5 0.5l5 2.5l2.5 3l4 8.5l0 7l-3 5l-1 1l-7.5 2.5l-2 1.5l-1.5 2l-2.5 7l-2 2.5l-1.5 1.5l-4.5 1l-5-1l-2.5-1.5l-1.5-2.5l-0.5-4.5l0.5-2.5l1.5-2.5l2.5-2l6-2.5l2.5-2.5l1-2.5l0-2l-1.5-2.5l-1-1.5l-2.5-1l-4.5-0.5l-7.5 2l-4.5 2.5l-2.5 8.5l-1 9l0.5 9.5l0.5 2l1.5 2.5l0 5l-3 11.5l-1.5 2.5l-4.5 3l-12 3.5l-7 0l-1.5 0.5l-1 3l-0.5 2l0.5 2.5l9.5 4.5l1.5 2.5l0.5 2.5l-0.5 2l-1.5 2l-2.5 1.5l-4.5 0.5l-2.5-1l0-2l1-3l0-2.5l-2-5l-1.5-1l-7-1l-5-2.5l-2.5-5l-1-7l1-4.5l2.5-4l2.5-2.5l5.5-3l2-2.5l0.5-2.5l0.5-2.5l-1-2l-3-2l-4.5-1l-7.5 0l-22.5 3l-5 2l-1.5 7l-2.5 2l-2.5 1l-4.5 1l-9.5-1l0-42l21.5-0.5l38.5-2l4-1l2.5-2l2.5-5l5-2.5l39.5-1l9-1zM884 184.5l3.5 0.5l5 7l4.5 2l10 1.5l9.5-1.5l9.5 0.5l0.5 61l-14.5 0l-6.5 0.5l-3.5 1.5l-10.5 0.5l-0.5 2.5l0.5 2.5l1 2.5l4.5 2l2.5 0.5l7.5 0l2.5-1.5l4.5-1l12 0.5l0 29.5l-9.5-0.5l-4.5 0.5l-2.5 1.5l-3.5 4l-1 7l0.5 7l0.5 2.5l2 2.5l18 0l0 20.5l-43 0.5l-3.5 0l-6.5 2l-9 0.5l-2 5l0.5 11.5l-193.5 0l1-2l0.5-2.5l0-7l-3-5l-16.5-2.5l-5-2l-1.5-2.5l-0.5-5l0.5-2l1.5-2.5l5-3l12.5-2l4-2l5.5-7.5l2-1.5l5-2l9.5-0.5l4.5 1l2.5 1l2.5 2l1.5 2.5l3.5 6.5l2.5 2l2.5 1l4.5 0.5l9.5-2l12.5 1l4.5-1.5l2.5-2.5l1-2.5l1.5-7l0.5-7.5l2-4l2.5-2l2-1l10 0l2.5 0l4.5-2l2.5-1.5l1.5-3.5l0-12l1-4.5l2.5-2.5l9-4.5l2-2.5l3.5-6.5l2.5-2.5l9.5-5l9.5 0.5l5 1.5l5 3l9.5 2l1 2l0.5 5l-1.5 3l-2.5 1.5l-2.5 1l-4.5 0.5l-7.5-0.5l-7 0.5l-14.5 3.5l-1 2.5l-0.5 16.5l0.5 2l1 1.5l2 1l2.5 0.5l5 0l9.5-2.5l17 0.5l7.5 0l2-1l2.5-1.5l2.5-3l1.5-4.5l3-5l1.5-7l1.5-1.5l2.5-0.5l4.5 1.5l5 5.5l2.5 0.5l4.5-0.5l6.5-10l1-4.5l0-5l-2-2l-3-0.5l-7-0.5l-10 1l-7-1.5l-1.5-1l-2-2.5l-0.5-4.5l0.5-2.5l1-2.5l2.5-1.5l5-1.5l9.5-1.5l7 0l7.5-1.5l9.5-0.5l9.5 1l5-0.5l3.5-1l2-7l0-5l-1.5-7l-4-3.5l-5-2.5l-4.5-1l-16 4.5l-2 2.5l-1.5 5l-1.5 2l-3.5 1.5l-4.5 0l-7.5-1l-4.5-2.5l-1.5-2.5l-0.5-2.5l1-2.5l8-5.5l6.5-6l3-1l5-3l3-3.5l4.5-7.5l3.5-2zM878 298l-1 3l1 4.5l3.5 2.5l3.5 0.5l1.5-0.5l1.5-2.5l0.5-2.5l0-2l-1-2.5l-2.5-1.5l-2-0.5l-2.5 0.5l-2.5 1zM286 196.5l2-0.5l5 0.5l3.5 2.5l3 9.5l6 4.5l1.5 2.5l0.5 2.5l-0.5 2.5l-2 3l-7 4l-2 11.5l0 7.5l-1 2l-3 2.5l-16 4.5l-7-0.5l-5-1.5l-2.5 0l-4.5-1.5l-1-1l-1.5-4.5l0.5-2.5l1-2.5l8-5l7.5-7.5l9-6.5l1.5-2l1-5l-0.5-2.5l-1.5-2l-0.5-5l1-4.5l1.5-2.5l3-2.5zM42 267.5l12 0l12-1l7 0.5l2.5 0.5l3 2.5l1 5l-0.5 2l-1.5 2.5l-14 4.5l-5 0.5l-17 0l0.5-17zM358 270l3-1.5l4.5-0.5l2.5 0.5l1 1.5l0 5l-1.5 14l0.5 2.5l2.5 3.5l4.5 0.5l15-2l2 0.5l2.5 1.5l1 5.5l-0.5 2l-1 2.5l-2 2l-2 1l-12.5 0l-4.5 1l-2.5 3l-1 7.5l1 2.5l2.5 0.5l9.5 0l5 1l7 3l2 2.5l1.5 2l2 9.5l0.5 19l-18.5 0l1-9.5l-1-4.5l-2-2.5l-9.5-7l-1-2.5l-2-7l-2-2l-2.5 0.5l-3.5 1.5l-3 2.5l-1.5 2l-0.5 7.5l2.5 9.5l-0.5 11.5l-91.5 0l0.5-11.5l-1-5l-3-3.5l-2.5-0.5l-4.5-0.5l-12 0.5l-17 0.5l-26.5-1l-17-2l-1.5-0.5l-1-2.5l-0.5-2.5l1-4.5l4.5-1.5l19-2l29-1l2.5-0.5l2.5-1l1.5-1l0.5-5l0-2.5l-2-4.5l-0.5-5l0.5-2l1-2.5l1.5-2l2.5-1l2.5 0l2 0.5l3.5 2.5l1 2.5l0.5 4.5l-0.5 9.5l0.5 2.5l1 2.5l1.5 1l2.5 0l4.5-1l1-5l1.5-2l1.5-5l1.5-16.5l1.5-5l2-2l3.5-2l7-2l7 0.5l2.5 1l2.5 2.5l2 4.5l1 7l2 0.5l14.5 0l7 0.5l3.5 1.5l4 5.5l5 4l4.5 1.5l2.5 0l7-1l2.5-1l2-2l1-2.5l-0.5-3l-2.5-2.5l-7-4l-2.5-2l-1-2.5l-0.5-2.5l1-2l7.5-2l5-3l7-9.5zM288 297.5l-2 1l-2 2.5l-1 2l0.5 1.5l2.5 4l4.5 0.5l3-1l1.5-2.5l1-2.5l0-4.5l-0.5-1.5l-2.5-0.5l-5 1zM310 324.5l-2.5 2.5l-1 2.5l0 2l1.5 5l2 1l12 2l7.5 0l2.5-0.5l2-2l2-3l0-2.5l-0.5-2l-1.5-2l-2-1.5l-12.5-2.5l-4.5 0l-5 1zM65 298.5l6-1.5l4.5 0l4 1.5l2 2.5l0 2l-2.5 5l-6 4l-3.5 0.5l-3 2.5l-0.5 2.5l1 2.5l6 0.5l2.5 1.5l7.5 0l4.5 1l2.5 1.5l2 2.5l1 2.5l0 4.5l-1.5 2.5l-4 2l-2.5 0.5l-14 1.5l-29 0l0-31.5l9.5 0.5l4.5-0.5l2.5-1.5l4-6.5l2.5-2.5zM111 324.5l3-1l7.5 0l36.5 0.5l2.5 0.5l6 2.5l1 2.5l0 4.5l-1 2.5l-4 1.5l-9.5 2l-24 0.5l-12.5-1l-3.5-0.5l-3.5-2l-1-0.5l-1-2.5l0-4.5l0.5-2.5l3-2.5zM457.5 324.5l4.5-1l2.5 0.5l2.5 1l2.5 2l1 2.5l0 2l0 2.5l-1.5 2.5l-4.5 2.5l-2.5 0l-4.5-1l-2-1.5l-1.5-2.5l0-4.5l1-2.5l2.5-2.5zM414.5 327l4.5-1l4.5 0.5l3 0.5l2.5 2.5l0 4.5l-1 2.5l-1.5 2.5l-3 0.5l-4.5 0.5l-2.5-1l-2.5-1.5l-2-3.5l0-2.5l0.5-2l2-2.5zM515 341l3-1.5l4.5-0.5l10 1l12-0.5l4.5 1l4.5 3l1.5 2.5l1 4.5l-1 9.5l-42 0l0-14l0.5-2.5l1.5-2.5z"/>
<path fill="#00f078" fill-rule="evenodd" d="M354.5 156.5l4-1.5l2.5 0l2 1l2.5 2l5 7l2.5 2l2 1l5 0.5l10-0.5l2 0.5l2.5 1.5l3 5l0.5 5l-1.5 7l-2 4l-2.5 2l-4.5 1.5l-2.5 0l-1.5-0.5l-1-1.5l-2.5-5.5l-9.5-1l-12.5-3.5l-2-2l-2-3l-1.5-4.5l-1-5l0.5-7l1-2.5l1.5-2zM144.5 184.5l13.5 0l9.5-2l4.5 0.5l2.5 1l4 3l2 5l2 4.5l-0.5 5l-1.5 4.5l-2 2.5l-8.5 3.5l-1.5 1l-3.5 9l-2.5 3l-2.5 1l-4.5 0.5l-3.5-1.5l-1.5-2.5l-1-2l0-2.5l0.5-2.5l3-3.5l8.5-3.5l1-1.5l1-3.5l-1-4.5l-2.5-3.5l-4.5-1.5l-7.5 0.5l-5 1.5l-2 1.5l-1.5 1.5l-0.5 2.5l-3 15l0 8.5l1.5 4.5l1.5 7.5l-1.5 7l-1 4.5l-1.5 2.5l-4 2.5l-12 3.5l-9.5-0.5l-1.5 1.5l-3.5 6l-2.5 0l-5-1l-2-2.5l-2-7l-0.5-3l1-4l1.5-3l2.5-2l4.5-3l2-1.5l3-5l0-2.5l-0.5-2l-2-2l-2.5-1.5l-4.5-0.5l-10 0.5l-21.5 3l-7.5 1.5l-16.5 0l0-30.5l24-0.5l38.5-2l9.5-2l6-1.5l3-5l1-0.5l2.5-0.5l7 0l11-1.5zM878.5 194l2-1l4.5 0l12 4l5 0.5l12-2l12 0l0 19l-12 0.5l-4.5-0.5l-7.5-4.5l-5-2l-2-1l-2.5 0.5l-1.5 1l-3.5 1l-12 3l-1 0.5l-4 8l-4.5 1.5l-2.5 0l-2.5-2l-1-2.5l0-2.5l1-2l3.5-2.5l6-2.5l1.5-7l3.5-5l3-2.5zM289 196.5l4 0.5l2 2l2 4.5l0.5 5l-2 2l-2.5 2l-5 0.5l-4.5-1l-2.5-3.5l0-2.5l1-4.5l1.5-2l2.5-2l3-1zM428 196.5l3-1.5l2 0l2.5 0l4 1.5l1.5 2.5l1 2.5l1 7l2.5 2.5l6 2l2.5 2.5l0.5 2.5l0 2.5l-2 2l-2.5 0l-7-2l-2-5l-1.5-2.5l-8.5-2l-2.5-2l-1.5-3l-0.5-4.5l0.5-2.5l1-2.5zM372.5 199l2.5-1l5 0l1 1l1 4.5l2 5l8 2.5l2.5 2l2 2.5l0.5 2.5l1 4.5l1 21.5l-1 4.5l-1 2.5l-5 3l-9.5 3l-2.5 0l-12-1.5l-5-2l-4.5-1l-10 0l-9.5 1.5l-5 0l-4.5-1.5l-2.5-1.5l-1-2.5l-0.5-2l1.5-4l2.5-2.5l4.5-3l7.5-10l2.5-1.5l4.5-1l3.5 0.5l4 2l5 0.5l4.5-1l2.5-1.5l1.5-2.5l1-4.5l-1-14.5l1-3l2-1.5zM284 225l2-1l4.5 0l2.5 0.5l2.5 2l0.5 1l0 7l-3 13l-1 1l-4 2.5l-4.5 1l-5 2l-7 0l-5-1.5l-2-1.5l-0.5-2.5l-0.5-2l2-5l3.5-3l4-1.5l3-2.5l5-7l3-2.5zM880.5 237l19 0l10-1.5l16.5 0l0 18.5l-16.5 0.5l-12.5 2l-16.5-1l-7.5-1l-17 0.5l-4.5-0.5l-2-1l-2.5-2.5l-0.5-1l-0.5-3.5l0.5-2.5l1.5-2.5l3.5-1.5l12-2.5l17-0.5zM800 251l3-1l5 0l9.5 2.5l2.5 2l7 2l2.5 1.5l1 2.5l-1 3.5l-2.5 2l-2 1l-5 0l-2.5 1l-19.5 2l-4.5 1.5l-1 1l-1.5 7l0 15.5l0.5 1l2 1.5l4.5 1l5 0l6-2.5l3.5-0.5l22 0l4.5-0.5l2.5-1.5l2.5-2l5-10l2.5-1.5l4.5-1l10 0.5l4.5-0.5l2.5-1.5l5-9l2.5-2l4.5 0l2.5 1.5l9.5 2.5l5 0.5l2.5-0.5l5-2.5l4.5-1l12 0l0 26.5l-7-0.5l-5 0l-4.5 1.5l-2.5 1.5l-3 5l-1 2l-0.5 12l1.5 5l8 1l14 0l0 19l-43 0.5l-23 3l-1 7l0.5 9.5l-189 0l0.5-4.5l0-7l-0.5-2.5l-2-2.5l-7-2.5l-10.5-1l-2.5-1l-2.5-1.5l-1.5-3.5l0-2.5l1-2l2-2.5l4.5-2.5l12.5-2.5l3.5-2l5.5-7.5l1.5-1l5-2l9.5-0.5l4.5 1l2.5 1.5l3.5 3.5l4 7.5l2.5 2l2.5 0.5l4.5 0.5l9.5-2.5l12.5 1.5l4.5-1.5l2.5-2.5l1-3l1.5-5l1-9.5l1.5-2.5l2.5-2.5l2-1l7.5-0.5l5-0.5l4.5-1.5l2.5-1.5l1.5-1.5l0.5-2.5l0-12l0-2l1.5-2.5l2-2.5l9-4.5l6-9.5l3-2.5l5-2.5zM883 293.5l-5 1.5l-2 3.5l-0.5 4.5l0.5 2.5l1 2.5l1 1l9.5 1l2.5-2l1-2.5l0.5-4.5l-1-2.5l-3-4l-4.5-1zM59.5 267.5l11.5 0l2.5 0l2 1l2 1.5l1 2.5l0 2.5l-0.5 2l-2.5 2.5l-12 3.5l-5 0.5l-16.5 0l0-15.5l12 0.5l5.5-1zM357.5 272.5l1-1l4.5-1l2.5 1l1 1l0.5 4.5l-2 12l1 4.5l3.5 5l1 7l-2.5 14.5l-1 2l-8.5 4.5l-2.5 2l-2 3l-0.5 5l2.5 12l-0.5 11.5l-90 0l0-11.5l-0.5-5l-1.5-2.5l-2-1.5l-2.5-1l-7-0.5l-26.5 1.5l-24.5-1l-9.5-1.5l-7.5-0.5l-1.5-2.5l-0.5-2.5l0.5-2l1-2.5l1-0.5l7-0.5l7-1.5l5-0.5l36.5-1.5l14.5 0.5l4.5-0.5l2.5-1l2.5-5.5l2-8l0.5-9.5l1.5-7l1-3.5l2.5-3.5l2.5-1.5l7-2l5 0l4.5 2l2.5 2.5l1.5 3.5l0 4.5l-1.5 1.5l-7 2.5l-3 3.5l-0.5 2l0.5 2.5l1.5 2.5l1.5 1l2 1l2.5 0l4-2l1.5-2.5l2-7l5-1.5l9.5 0l4.5 0l4 1.5l6 7l3 2.5l4 2l2.5 0.5l2.5 0l7-1l3.5-1.5l2-2.5l1-4.5l0-2.5l-1.5-1.5l-2.5-2l-3.5-1.5l-3-2l-1-2.5l0-2.5l2.5-2l5-1l3-1.5l2.5-2.5l2-4.5l1.5-2.5zM307.5 324.5l-2.5 1.5l-3 1l-2.5 2.5l-0.5 2l1 2.5l3 2.5l10.5 2.5l13.5 1.5l5-1l1.5-0.5l2.5-2.5l1-2.5l0-2.5l-0.5-2l-2.5-3l-3.5-2l-8.5-1.5l-5-0.5l-4.5 0.5l-5 1.5zM243 296l2 0l2 1l2.5 1.5l1.5 2.5l0.5 2l-0.5 5l-4 3.5l-4.5 0.5l-2.5-0.5l-2-3.5l-0.5-5l0.5-2l2-3.5l3-1.5zM66.5 298.5l6.5-1l4.5 1l2 2.5l0.5 2l-1 2.5l-3.5 3.5l-9.5 4l-1.5 2l0 2.5l0.5 2.5l10.5 2.5l9.5 1l3.5 1l2.5 2.5l1 2.5l0 4.5l-1.5 2.5l-6 2.5l-13.5 1.5l-29-0.5l0-30l12 0.5l4.5-1l2.5-2.5l3-6l2.5-2.5zM383.5 298.5l4-2l2.5-0.5l2 1l1.5 1.5l1 2.5l-2 4.5l-5 1.5l-2.5-0.5l-1.5-1l-0.5-2.5l0-2l0.5-2.5zM113.5 324.5l10.5-1l34 1l6.5 2.5l1 2.5l0 4.5l-1 2.5l-2 1l-4 1.5l-5.5 0.5l-24 0.5l-12.5-1l-6.5-2.5l-1.5-2.5l0-4.5l1-2.5l4-2.5zM372 324.5l5.5-0.5l7.5 0.5l7 2l3.5 3l2 4.5l0.5 5l0.5 21l-15.5 0l1-9.5l-1-4.5l-3-3.5l-8-6l-2.5-5l0-4.5l1-1.5l1.5-1zM459.5 324.5l2.5-0.5l2.5 0.5l4 2.5l1 2.5l0.5 2l-0.5 2.5l-2.5 3l-5 1.5l-2 0l-4-2l-1-2.5l0-4.5l1-2.5l3.5-2.5zM414.5 329.5l2-1.5l2.5-1l2 0l2.5 0.5l2.5 2l0.5 2l-0.5 2.5l-2.5 3l-2.5 1l-4.5-1l-2.5-4.5l0.5-3zM516 341l2-0.5l4.5-1l10 2l12-1l4 0.5l3 2l2.5 3l0.5 4.5l-0.5 9l-0.5 0.5l-40 0l-0.5-9.5l0.5-4.5l0.5-2.5l2-2.5z"/>
<path fill="#1ee6aa" fill-rule="evenodd" d="M356 156.5l2.5-1l2.5 0l2 1l2.5 2.5l5 6.5l4.5 3l5 0.5l7.5-0.5l4.5 0.5l2.5 2l2.5 4l0.5 5l-1 2.5l-4.5 3.5l-7 0.5l-2.5 0l-7.5-2l-9.5-0.5l-7-2.5l-2.5-2l-1-2l-2.5-7l0-5l0.5-4.5l1-2.5l2-2zM163 184.5l4.5-1l2.5 0l4.5 1l2.5 2l2.5 4l1.5 3.5l0.5 2.5l-0.5 5l-1.5 4l-2.5 2.5l-7.5 3l-2 1l-2.5 8.5l-2.5 3.5l-2.5 1.5l-2 0.5l-2.5-0.5l-2.5-1.5l-1.5-1.5l-1-2l0-2.5l1-2.5l1.5-2.5l10.5-4.5l1-2.5l0-2.5l-1-4.5l-2-5l0-2l0.5-5l1-2.5zM121.5 194l5-1l4.5 0.5l5 2l1 1l1 2.5l-1 7l-1.5 7l-0.5 7.5l0 4.5l3 9.5l-0.5 9.5l-1.5 4.5l-1.5 2.5l-4 2.5l-11.5 2.5l-9.5-0.5l-7.5 1l-2-0.5l-5-1l-1.5-4l0-2.5l1.5-3.5l2.5-2.5l4.5-2.5l2.5-2l2.5-3.5l1-2.5l0-4.5l-1-2l-2.5-1.5l-2.5-1l-7-0.5l-34 4.5l-19 0l0-28.5l36-0.5l7.5-1l26.5-1.5l9.5-1.5zM431 196.5l4.5 0l2.5 1l1.5 1.5l1 2.5l0.5 4.5l-0.5 3l-1.5 2l-3.5 0l-2.5-0.5l-2-1l-2.5-2.5l-1-5.5l0.5-2.5l0.5-1l2.5-1.5zM877 196.5l3.5-1.5l2.5-0.5l4.5 1l2 1l2 2.5l0.5 7l-3 2.5l-4 1l-7 1.5l-3.5 0l-1-2.5l0-5l1.5-4.5l2-2.5zM912 196.5l4.5-0.5l9.5 0.5l0 16.5l-12 0l-4.5-0.5l-3-1.5l-2-2.5l-0.5-2.5l0-4.5l1.5-2.5l1.5-1l5-1.5zM285 199l3-1.5l2.5 0l3.5 1.5l2 4.5l0.5 2.5l-1 2.5l-2.5 2l-2.5 1l-4.5 0l-2.5-1l-1.5-2l0-2.5l1-4.5l2-2.5zM385 211l7 1.5l2.5 2.5l1.5 3l0.5 4.5l0 9.5l1.5 12l-1 4.5l-2.5 3.5l-3 1.5l-4 1.5l-7.5 0.5l-9.5-1l-7.5-2.5l-4.5-0.5l-10 0l-9.5 2l-5 0l-4.5-1.5l-2.5-2.5l-1-3l1-3l1.5-2l6.5-4.5l6.5-9.5l4.5-2.5l5 0.5l3.5 2l1.5 5l2.5 3.5l2.5 0.5l2 0l2.5-1.5l3-7.5l2.5-2.5l2-1.5l3-1l2.5-2l4-7.5l2.5-2zM283.5 227.5l2.5-1.5l2-0.5l2.5 0.5l3 1.5l1 2l0 2.5l-1.5 7.5l-8 4.5l-3.5 7l-5.5 2l-2 0l-5-0.5l-2-1.5l-1-2.5l0-2l0.5-2.5l2.5-3l7-4.5l7.5-9zM911.5 237l14.5 0l0 16l-16.5 0l-7.5 2l-5 0.5l-21.5-1.5l-19.5 0.5l-4.5-1.5l-3-2l-1.5-2.5l0-2l0.5-2.5l2-2.5l4.5-1.5l7-1.5l50.5-1.5zM802 251l8 0.5l7 2l2.5 2.5l1 4.5l-1 5l-2 1.5l-17 2.5l-4.5 0l-2.5 0.5l-2.5 2.5l-0.5 4.5l-0.5 14.5l0.5 9.5l0.5 1.5l2.5 3.5l4.5 2l2.5-1.5l3.5-5.5l2.5-2.5l3.5-1.5l10-0.5l14.5 0.5l4.5-1l2.5-1l4-3.5l3.5-7l2.5-2.5l4.5-1.5l17-1l5-8.5l2.5-2l2.5-0.5l2 0.5l2.5 1l2.5 2.5l3 4.5l2 1l2 0l4.5-1l3.5-4.5l3-2.5l4-1.5l4.5-1l9.5 1l0 16.5l-10-0.5l-6.5 2l-1.5 5l-2.5 4.5l-3.5 3.5l-2.5 0.5l-4.5-0.5l-2.5-1.5l-3.5-4.5l-1.5-6l-1-1l-1.5-1l-2-0.5l-5 0l-0.5 1.5l-1 7l-2 5l-0.5 9.5l1 2.5l0.5 0l12 1l2 1l5.5 7.5l14.5 1.5l16.5 0.5l0 17.5l-43 0.5l-17 2l-7.5 1l-7 0.5l-1 0l-1.5 2l-1 3l0 7l0.5 4.5l-177 0l0.5-7l0-4.5l-0.5-2.5l-1.5-2.5l-6-2.5l-13-2l-2.5-1.5l-2.5-2l-0.5-4l1-2l2-2.5l6.5-2.5l3 0l7-2.5l3.5-2l6.5-8l3-1.5l4-1l10 0.5l4.5 2l3 3l4.5 8.5l2.5 1.5l2.5 1l4.5 0l7.5-2l2-0.5l10 1.5l5-0.5l2-1l2.5-2l1-1.5l2.5-9.5l1-7.5l1-2l2-2.5l2-1l7.5 0l5-1l4.5-1.5l2.5-1.5l2-2l0.5-2.5l0-12l1.5-4.5l2.5-2.5l9-4.5l4-7.5l2.5-3l4.5-2.5l4-1.5zM856 309.5l-2 1l-3 2l-1.5 2.5l0.5 2.5l1 2.5l7.5 0.5l12.5-0.5l2-5l-0.5-2.5l-2-1.5l-2.5-1l-4.5-0.5l-7.5 0zM42 270l0-1l12 0l12-1.5l5 0.5l2 0.5l3 1.5l1.5 2.5l0 2.5l-0.5 2l-2.5 2.5l-11 3l-21.5 0.5l0-13zM280.5 282l5.5-0.5l4.5 2l2.5 3l0.5 2.5l0.5 2.5l-1 2l-7 3.5l-2.5 1.5l-1.5 2.5l0 2l0.5 2.5l1 2.5l2.5 2l2 0.5l3 0l4.5-2.5l1.5-2.5l1.5-4.5l1.5-2.5l3-0.5l12-0.5l4.5 1l2.5 2.5l4 4.5l3.5 3l4.5 2l5 1l6.5-1l5-2.5l2-2.5l2-7l1.5-2l5-1.5l2 0l2.5 2l2.5 4l1 4.5l-0.5 7l-2 7.5l-2 2l-6 3.5l-2.5 2l-2.5 4l-1 2.5l0.5 5l2 9.5l0 11.5l-89.5 0l0.5-11.5l-1-5l-1-3l-2.5-2l-2.5-0.5l-7-0.5l-16.5 1.5l-12.5 0l-22-1l-8-1.5l-1-2.5l-0.5-2.5l1-4.5l6.5-2l21.5-1l17-0.5l12 0.5l7.5 0l4.5-1l2.5-5l2.5-10l1-9.5l1.5-9l1.5-3l2.5-2l7.5-2.5zM315 322l-10 2.5l-4.5 2.5l-2.5 2.5l-0.5 2l1.5 2.5l1.5 1.5l2.5 1.5l7.5 2l16.5 2.5l5-1l2-1l3-3l1-2.5l0-2.5l-1.5-3.5l-2.5-2.5l-4.5-2l-10-1.5l-4.5 0zM69.5 298.5l5.5 0l3 2l0.5 2.5l-1 2.5l-2.5 2.5l-4 2l-7.5 1l-1-0.5l0.5-5l2-4.5l4.5-2.5zM239.5 298.5l3-1.5l2.5 0l2 0.5l1.5 1l1.5 2.5l1 2l-0.5 2.5l-1 2.5l-2.5 2l-2 0.5l-2.5 0l-2.5-0.5l-2-4.5l0.5-4.5l1-2.5zM42 312.5l0-1l12 0l7-0.5l1 1.5l0.5 5l1 2.5l7 2l7.5 1.5l7 0.5l2.5 1l2 2l1.5 2.5l0 2l0 2.5l-2 2.5l-1.5 0.5l-14.5 3l-31 0l0-27.5zM119.5 324.5l9.5-0.5l29 1l5 2l1.5 2.5l0 2l0 2.5l-1.5 2.5l-0.5 0l-4.5 1.5l-5 1l-26.5 0.5l-6.5-0.5l-9-2.5l-1.5-2.5l-0.5-2.5l0.5-2l1.5-2.5l3-1.5l5.5-1zM371.5 327l1.5-1l2-1l7.5-0.5l7.5 1.5l4.5 3.5l1 2l1.5 5l0.5 23.5l-13.5 0l0.5-9.5l-0.5-4.5l-4-4.5l-7-5.5l-1.5-2l-1-4.5l1-2.5zM457 327l3-2l2-0.5l2.5 0.5l2.5 1.5l2 3l0.5 2l-0.5 2.5l-2 2.5l-2.5 1l-4.5 0.5l-2.5-1.5l-2-2.5l0-2.5l0-2l1.5-2.5zM517.5 341l2.5-0.5l5 0l3 0.5l2 2.5l1 5l0 11.5l-17 0l0-9.5l0-4.5l1.5-3l2-2z"/>
<path fill="#00ffff" fill-rule="evenodd" d="M358 156.5l3-0.5l2 1.5l2.5 2.5l4 5.5l5.5 3.5l15 0l3.5 1.5l2 2.5l1.5 4.5l0 2.5l-1.5 2.5l-3.5 1.5l-2 1l-7.5 0.5l-7.5-1.5l-9.5-1l-7-2l-2.5-2.5l-1.5-3.5l-1.5-4.5l0-2.5l0.5-4.5l0.5-2.5l2-3l2-1.5zM165 184.5l5-0.5l3.5 0.5l3.5 3l2.5 4.5l1 4.5l-0.5 5l-0.5 2l-1.5 2.5l-3.5 2l-4.5 1l-2.5 0l-1-0.5l-3-14.5l-0.5-4.5l2-5zM117 196.5l12-1.5l4.5 1l3 3l0 4.5l-2.5 9.5l-0.5 9.5l3.5 12l0 9.5l-1.5 4.5l-1.5 2.5l-5 3l-10 1.5l-2.5 0l-7-0.5l-5-1.5l-4.5 0l-2.5-1l-2.5-1.5l-0.5-2.5l1-2l2-2.5l4.5-2.5l2.5-2l2.5-3l2-4.5l0.5-4.5l-1-2.5l-4-3l-2.5-1l-7 0l-34 5l-19 0l0-26.5l19 0l17-1l7-1l17-0.5l7.5 0.5l7.5-1zM879 196.5l4-1l4.5 1.5l2 2l1 2.5l0.5 4.5l-3.5 2l-2.5 1l-7 1l-2.5-0.5l-1-3.5l0.5-4.5l1-2.5l3-2.5zM286 199l4.5-1l2.5 1.5l1.5 2l1 4.5l-2.5 3l-2.5 1l-2.5 0l-2 0l-2.5-1l-1-3l0.5-2.5l0.5-1.5l2.5-3zM429.5 199l1.5-1l4.5 0l2.5 2l1 1.5l0 4.5l-1 2.5l-2.5 1l-4.5-1l-2.5-6l0-1.5l1-2zM907.5 199l4.5-1.5l14 0l0 14l-9.5 0.5l-4.5-0.5l-2.5-1l-2.5-2l-1-2.5l0-4.5l1.5-2.5zM154.5 213l3.5-1l4.5-1l2.5 1.5l0 3l-1 5l-1.5 2l-2.5 1.5l-2 1l-2.5-0.5l-2.5-2l-1-2l-0.5-2.5l1-2.5l2-2.5zM386.5 213l2.5 0l3 2l2.5 3l0.5 2.5l0.5 11.5l1.5 12l0 2.5l-1 2l-1.5 2.5l-2.5 1.5l-7 2l-7.5 0l-6-1l-10.5-3.5l-5-0.5l-17 3l-5 0l-4.5-1l-2-3l-0.5-2.5l2.5-4.5l6.5-4.5l4-7.5l4-3l4.5-1l2.5 0.5l2 1.5l1.5 2l1.5 7.5l2.5 2l2.5 0.5l2 0l2.5-2l3.5-8l2-2l3-2.5l5-2.5l2.5-2l3.5-6l1.5-1.5zM283.5 229.5l4.5-2l2.5 0.5l2.5 1.5l0 5l-1 2.5l-1.5 1l-7.5 3.5l-1.5 2.5l-2 4.5l-2 2.5l-3.5 0.5l-4-0.5l-2-2.5l0.5-4.5l2.5-2.5l7.5-4.5l5-7.5zM861 239l17 0.5l21.5-1.5l26.5 0l0 14l-16.5 0l-7.5 2l-5 1l-14-2l-22 1l-5-0.5l-4.5-1.5l-1.5-1l-1.5-2.5l-0.5-2l1-3l2.5-2l9.5-2.5zM797 253.5l3.5-1.5l2.5-0.5l9.5 1l2.5 1l3 2.5l1 4.5l-1 5l-3 1l-12 2l-9.5 0.5l-2.5 1.5l-1 4.5l-0.5 23.5l1 4.5l3 3.5l2.5 1.5l2 0.5l5-0.5l4-7l3-2.5l12.5-1l12 0.5l4.5-0.5l5-2.5l3-3.5l2-5l2.5-2.5l2.5-1.5l9.5-1.5l9.5 0l2.5 1l0.5 2.5l-1 9l-3.5 12l-1 1.5l-12 0.5l-7 2.5l-3 2.5l-0.5 2.5l0 2.5l1 2.5l5 1.5l4.5 0.5l12-1.5l2.5-0.5l2.5-5.5l2-2l5.5-0.5l4.5 1l5.5 7l2 0.5l12 2l19 0l0 17l-43 0.5l-31.5 2.5l-2.5 0.5l-1 0.5l-2 5l0 4.5l0.5 7l-174.5 0l1-7l-0.5-4.5l-0.5-2.5l-1.5-2.5l-3-1.5l-10.5-3l-1.5-1.5l-4.5-0.5l-2.5-0.5l-1.5-2.5l0-2.5l1-2l2.5-2.5l5-1l9.5-3.5l4-2.5l6-7.5l2.5-1.5l4.5-1.5l10 1l4.5 2l2.5 2.5l5 9.5l5 2l4.5 0.5l7.5-3l2 0l10 1.5l5-0.5l2-0.5l2.5-2l1-2.5l3-9.5l1-7.5l1-2l3.5-3l7.5 0l5-1l4.5-2l2.5-1.5l2.5-2l0.5-2.5l-0.5-12l2-4.5l3-2.5l7-3l2-1.5l3.5-7.5l2-2l3.5-2.5zM42 270l0-0.5l12 0l12-1l5 0.5l3.5 1l2 2.5l0 2.5l-1 2l-3 2.5l-9 2l-21.5 0.5l0-12zM910 270l2-0.5l4.5-0.5l9.5 0.5l0 13.5l-12 0l-4.5 1l-2 2.5l-2 7l-1 2l-2.5 2.5l-2.5 0.5l-2.5 0l-2-0.5l-2.5-2l-3-4.5l-2-8.5l-9.5-1.5l-1.5-2l1.5-5l1-2l1.5-1.5l2.5-1l2 1l2.5 1.5l2.5 6l0.5 1l2 0.5l9.5-1.5l2-1.5l2.5-4.5l3.5-2.5zM275.5 284.5l8-2l2.5 0l4.5 2l1.5 2l1 2.5l0 2.5l-2.5 2l-7 4l-2 3.5l0 4.5l1 2.5l3.5 2.5l2 1l5-1l2.5-2l2-3l3-5.5l2-1.5l2.5-0.5l11.5 0.5l3 1.5l8 8l4.5 2.5l4.5 1.5l9.5-1l6.5-3l2-2.5l1.5-5l2.5-2l2.5-0.5l2 0.5l2.5 2l1 2.5l0.5 7.5l0.5 2l-1 5l-1 2.5l-2.5 2l-4.5 2.5l-3.5 2.5l-2.5 4.5l-0.5 2.5l0 5l2.5 9.5l-0.5 11.5l-88 0l0-14l-2-6.5l-2.5-2l-4.5-0.5l-5 0l-22 1.5l-14 0l-17-1.5l-3-0.5l-2-2.5l-0.5-2.5l0.5-2l1.5-2.5l3.5-1l21.5-2l14.5 0l5 1l7 0.5l10-0.5l4.5-1l2.5-4l3-12l0.5-7l1.5-8l2.5-6.5l4-2zM312.5 321.5l-9.5 3l-2.5 1.5l-2.5 2l-0.5 1.5l-0.5 2l1 2.5l2 2.5l7 2.5l20 3l5-0.5l2-1l2.5-1.5l1.5-2.5l1-5l-0.5-2l-1.5-2.5l-3-2.5l-4.5-2l-7.5-1l-9.5 0zM241 298.5l4-1l2 0.5l2.5 3.5l0.5 1.5l0 2.5l-3 3l-2 1l-2.5 0l-2.5-1.5l-1-2.5l0-2.5l0.5-2l1.5-2.5zM67 301l4-1l4.5 0l1 1l0 2l-0.5 2.5l-5 3l-5 0l-0.5-0.5l-0.5-2.5l1-3.5l1-1zM47 312.5l7 0l4.5 1l1.5 1.5l2 5l6 2l10 2.5l7 0.5l2.5 1.5l2 3l0.5 2l-0.5 2.5l-2 2.5l-7 1l-3 1.5l-4.5 0.5l-7 0.5l-24-0.5l0-26.5l5-0.5zM126 324.5l22 0.5l12 1.5l1.5 0.5l1.5 2.5l0.5 2l-0.5 2.5l-1.5 2.5l-3.5 1l-10 1l-14.5 0.5l-10 0l-4.5-2l-5.5-0.5l-1.5-1.5l-1-1l0-4.5l2-2.5l13-2.5zM374 327l8.5-1l5 0l2 1l3.5 2.5l1.5 2l1.5 5l-0.5 23.5l-10 0l1-9.5l-1-4.5l-3-5l-2.5-2l-5-2.5l-2.5-2.5l-0.5-4.5l2-2.5zM458 327l2-1l2-0.5l2.5 0.5l2 1l1.5 2.5l0.5 2l-0.5 2.5l-1 1.5l-2.5 1.5l-4.5 0l-2-0.5l-1.5-2.5l-0.5-2.5l0.5-2l1.5-2.5zM519.5 341l3-0.5l3 0.5l2.5 2.5l0.5 2.5l0.5 4.5l-0.5 9.5l-13.5 0l-0.5-9.5l0.5-4.5l1-2.5l3.5-2.5z"/>
<path fill="#1e8cf0" fill-rule="evenodd" d="M357 158.5l1.5-0.5l4.5 0.5l2.5 3l0.5 2l2.5 2l6.5 4l12.5 0l4.5 0.5l2.5 2.5l1.5 2.5l0 2.5l0 2.5l-1.5 1.5l-2.5 1.5l-7 1.5l-19.5-2l-7-2.5l-2.5-3l-1-2l-1-4.5l1.5-9.5l1.5-2.5zM167.5 184.5l2.5 0l2 0l2.5 1.5l2.5 2.5l2.5 5l0 5.5l-1.5 4.5l-3.5 3.5l-4.5 0l-2.5-1.5l-1-4l-1.5-5l-0.5-4.5l1-5l2-2.5zM123.5 196.5l5.5-0.5l2.5 0.5l3.5 2.5l1 2.5l-1 7l-1.5 3.5l-1 1l-0.5 9.5l4 10l0.5 6.5l0 5l-1.5 4.5l-1.5 2l-4.5 3l-7.5 1.5l-5 0l-7-1l-2-0.5l-2.5-2.5l-1-4.5l1-5l1-2.5l2.5-2l3.5-9l4.5-3l2-2.5l1-2l0.5-2.5l-1-2.5l-2.5-3l-2.5-1.5l-2-1l-2.5 0l-7.5 3.5l-7 2l-4 5l-1 0l-29 4.5l-19 0.5l0-25l33.5 0l7.5-2l17-1l4.5 0l5 1.5l2.5 0l7-1l4.5-1.5zM290.5 199l2.5 2.5l0.5 4.5l-3 2.5l-2.5 0.5l-2.5-0.5l-2-2l0-1.5l2.5-4.5l2-1l2.5-0.5zM877.5 199l3-2l2-0.5l2.5 0.5l3 2l1 2.5l0.5 4.5l-5.5 2.5l-6 0.5l-1.5-0.5l-1-2.5l0-2.5l2-4.5zM911.5 199l14.5 0l0 10.5l-9.5 1.5l-2.5-0.5l-4.5-2l-1.5-2.5l0.5-4.5l1-1.5l2-1zM157 213l3 0l2.5 0.5l0.5 2l0 5l-3 2.5l-4.5 0l-2.5-2.5l0-3.5l4-4zM376.5 225l3.5-1l5 0.5l5 1l3 2l3 16.5l-1 4.5l-2 2.5l-3 1.5l-5 1.5l-7.5-0.5l-7-1.5l-2.5-1l-2-2.5l-0.5-4.5l0.5-5l3-7l3.5-4.5l4-2.5zM343.5 227.5l2.5-1l2.5-0.5l3.5 1.5l1.5 2l1 7.5l-1.5 7l-2 4.5l-5 1l-2 1.5l-2.5 0.5l-7.5 0l-3-0.5l-2-2.5l0-4.5l7.5-7l4.5-7.5l2.5-2zM891.5 239l8-0.5l10 1.5l16.5 0l0 10.5l-14 0l-5 1l-5 2l-5 0.5l-4.5-0.5l-5-1.5l-4.5-0.5l-22 1.5l-9.5-2l-1.5-2.5l-0.5-2l1-2.5l3.5-2l7-2l9.5 0l7.5 1l9.5-0.5l4-1.5zM797.5 253.5l5.5-1.5l5 0.5l4.5 1l4 2.5l1.5 4.5l-0.5 3l-1 2l-1.5 0.5l-12 2l-12 0.5l-1.5 1.5l-1 28.5l1.5 4.5l1.5 2.5l2 2l2.5 1.5l2 0l14.5-2l3.5-1.5l2.5-4.5l4-2.5l12 1l4.5-1l6-2.5l2-2.5l4-7l3-2.5l9.5-2l7 0.5l2.5 0.5l1 1.5l0.5 2l-0.5 5l-1 5l-2.5 2l-6.5 2.5l-6 4.5l-4 1l-5 3l-2.5 3l0.5 5l1 2.5l6 2.5l13.5-0.5l7.5-2l3-5.5l5-0.5l2 0l2 1l4 5l8.5 2l12.5 1l14 0l0 16l-43 0.5l-34 2.5l-3.5 1.5l-1 2.5l-1 4.5l1 9.5l-171.5 0l0.5-9.5l-1-5.5l-1-1.5l-1.5-1l-11-3.5l-3-2.5l-1.5-5l1-1.5l0.5-3l11.5-5.5l2.5-2l5-6.5l2.5-1.5l2.5-1l4.5-0.5l7.5 1l4 1.5l3 3.5l5 10l3 1l2 1l2 0.5l2.5-0.5l1.5-1l3.5-1.5l4.5-1l10 1.5l5-0.5l2-0.5l2.5-1.5l1.5-3.5l3-9.5l0.5-5l1.5-2.5l0.5-2l4.5-2.5l5.5 0l7.5-2l5.5-3l2-2l0.5-2.5l-0.5-12l2-4.5l3-2.5l9-3.5l2-6l1.5-2.5l2-2l3.5-2.5zM776.5 329l-0.5 5l0.5 4.5l2.5 1l2 0.5l5-1.5l1-4.5l-0.5-2.5l-1.5-2l-4-2l-4.5 1.5zM61 270l11.5 0l2 2.5l1 2.5l-1.5 2l-3.5 2.5l-7 0.5l-21.5 0.5l0-9.5l12 0l7-1zM908.5 272.5l5.5-2l10 0l2 0.5l0 10l-16.5 0l-2.5-0.5l-0.5-1l0-2.5l2-4.5zM892 282l3-1l4.5-0.5l5 0l1.5 1.5l0 4.5l-0.5 5l-1 2l-2.5 3l-2.5 1l-2.5 0l-2-1l-3-3l-1.5-2l-0.5-5l0-2l2-2.5zM282 284.5l4-1l2.5 1l2.5 2l0.5 2.5l0 2.5l-3 2l-2.5 1l-2.5 1.5l-2 2.5l-1 2.5l0 2l1.5 5l4 3l2 1l5-1l2.5-1.5l4-4l1-4l0.5-0.5l4-1.5l2.5 0l7.5 0l4.5 1.5l3.5 4.5l4 4l2.5 1l2.5 1.5l4.5 1l7.5-1l9.5-3l7.5 0.5l4.5 2l0.5 3.5l-2 5l-5.5 3l-4.5 4l-2 2.5l-1.5 4.5l-0.5 2.5l3 7l1 5l-0.5 11.5l-87 0l0.5-9.5l-1-7l-2-5l-2.5-2l-4.5-1l-5 0l-19.5 2l-16.5 0l-17-1l-2.5-2.5l-0.5-2.5l0.5-2l1.5-2.5l1 0l21.5-2l14.5 0l5 1.5l5 0l16.5-0.5l2.5-4l4-14l0-7l1-4.5l2.5-2l7-1l3.5-9zM307.5 322l-7 3l-2.5 2l-1.5 2.5l0 2l1 2.5l3 3l4.5 2l15 2l4.5 1.5l5 0.5l2.5 0l2-1l4-3l1.5-2.5l1-2.5l-0.5-4.5l-1.5-2.5l-4.5-4l-7-2.5l-7.5 0l-7 0l-5 1.5zM244.5 298.5l2.5 1.5l2 3l-0.5 2.5l-1.5 1l-2 1.5l-2.5 0l-2.5-1.5l0-5l2.5-2.5l2-0.5zM42 322l0-1.5l19 0l5.5 1.5l10.5 2.5l3.5 1.5l4.5 0.5l1.5 0.5l2 2.5l0 4.5l-3 2.5l-5 0l-4.5 2.5l-3 0.5l-7 0l-24-0.5l0-17zM120 327l4-1.5l2.5-0.5l19 0.5l12.5 1l2 1l2 4l-1 2.5l-1.5 2.5l-14 1.5l-14.5 1l-4.5-0.5l-6.5-2l-1-5l1-4.5zM383 327l4.5 0l4 2.5l3 4.5l0 4l-2.5 1.5l-4.5 0l-2.5-0.5l-2.5-2l-1.5-3l0-2.5l0.5-2l1.5-2.5zM459.5 327l2.5-0.5l3 0.5l2.5 2.5l-0.5 5l-3 2l-4.5 0l-2-2.5l-0.5-2.5l0.5-2l2-2.5zM517 343.5l5.5-1.5l3 1.5l2 7l-1 9.5l-10.5 0l-0.5-2l-0.5-9.5l0.5-1.5l1.5-3.5z"/>
<path fill="#2a64c8" fill-rule="evenodd" d="M360.5 165.5l5 0l7.5 3.5l2 0.5l12.5 0l4.5 1l2 2.5l1.5 2l0 2.5l-0.5 2.5l-3 2.5l-7 1l-19.5-2l-4.5-1l-2.5-1.5l-1.5-1.5l-1.5-2.5l-0.5-2l0-2.5l1-3l4.5-2zM167 187l3-1.5l5 1.5l2 3l0.5 2l0.5 2l-1 2l-5 1.5l-4.5-1l-1.5-4.5l1-5zM84 199l16-1l4.5 0.5l4 3l0 4.5l-1.5 2.5l-5 3.5l-7 1l-7.5 0l-4.5 1l-2.5 2l-2 4.5l-5 2l-15 1.5l-16.5 0.5l0-17l12 0l9.5 1l7 0l2.5-1l2.5-1.5l2.5-4.5l6-2.5zM121 199l5.5-2l4.5 1l2.5 1.5l1 2l0 4.5l-1 3.5l-2.5 2.5l-4.5 0l-2.5-1l-2.5-2.5l-1.5-5l1-4.5zM879.5 199l3.5-1l3 1l1.5 2.5l0.5 4.5l-7.5 2l-2.5-0.5l-1-1.5l0.5-4.5l2-2.5zM126 225l3-1l2 0l3.5 5.5l2 12l-1 5l-1 2l-3.5 3.5l-7 2l-7.5 0.5l-7.5-1l-3-2.5l-0.5-2.5l-0.5-2l1-5l3.5-4l7-3l5-6.5l2.5-2l2-1zM344.5 227.5l4-1l2.5 1l1.5 2l1 5l0 2.5l-2.5 3.5l-5 2l-2 0l-2.5-1l-3.5-2.5l0-2l1-3l2.5-4.5l3-2zM374 227.5l3.5-1.5l2.5 0l2 1.5l5.5 7l7 6l1 3.5l-0.5 2.5l-1 2l-2 2l-2 1.5l-5 1l-7.5 0l-7-2l-2.5-2.5l-1-4.5l0.5-5l3-7.5l3.5-4zM859.5 241.5l6.5-1l4.5 0l4.5 1l1.5 2.5l0 2.5l0 2l-1 2l-5 1.5l-7 0l-4.5-1l-1-4.5l1.5-5zM888.5 241.5l6.5-2l4.5 0l5 1l2 1l1 2.5l0 4.5l-1.5 2.5l-4 1.5l-5 1l-4.5-1l-3.5-1.5l-1-4.5l0.5-5zM799 253.5l6.5-0.5l7 1l2.5 2l1.5 2l0.5 2.5l-0.5 2.5l-2 2.5l-11.5 2l-9.5-0.5l-2.5-1l-0.5-3l0.5-2l1.5-3l2.5-2l4-2.5zM780.5 270l5.5-1l1.5 1l1 3.5l0.5 8.5l-1.5 16.5l2 4.5l1 2.5l3 2.5l2.5 1.5l2 0l22-1.5l19 1l2.5 1l2.5 1.5l2.5 8.5l4.5 2l3 1l7 0l7-0.5l7.5-2l14.5 0l6.5 1.5l5.5 1l24 0.5l0 15l-43 0.5l-34 2l-5 1.5l-5 0.5l-2.5 0.5l-2.5 5l0 7l1 4.5l-48.5 0l0-14l2-12l-2.5-5l-2.5-2l-2.5-0.5l-2 0l-2.5 1.5l-1 1.5l-1 4.5l1.5 12l0 14l-102.5 0l0.5-11.5l-1.5-5l-3.5-2.5l-9-2l-3-2.5l-1-5l1.5-4.5l10-5l2.5-2l6-7.5l4-1.5l2-0.5l3.5 0l6.5 1l2 0.5l2.5 2l3 3.5l2.5 7l0.5 7l1 2.5l3 2.5l2.5-1l2-2l1.5-4l3.5-2.5l5-2l4.5 0l7.5 1.5l7-1l2.5-1l1-2.5l4-11.5l2.5-2l5-3l2-2.5l1-2l2.5-2.5l8.5-2.5l4-2.5l2-2l0.5-2.5l-0.5-9.5l0.5-4.5l1.5-2.5l3.5-2.5zM895.5 282l4-0.5l2.5 0.5l2.5 2.5l0.5 2l-1 5l-2 3.5l-2.5 1l-2.5 0.5l-2-1l-2-2l-1.5-2l-0.5-5l1-2l3.5-2.5zM859.5 284.5l4-1.5l2.5 0l4.5 0.5l1.5 1l1 2l0 5l-0.5 2l-1.5 2.5l-3 1.5l-4.5 0.5l-3.5-2l-1.5-4.5l-0.5-2.5l1.5-4.5zM269.5 298.5l2-2l2.5-0.5l2 0l2.5 1l1 1.5l0.5 7l1 2.5l2 2.5l3 1.5l2 0.5l5-1l5-3.5l2.5-1l4.5 0l6 3.5l2 4.5l-1.5 5l-11 4l-2.5 2l-1 1l-1 2.5l0 2l1 2.5l1.5 2.5l4 2.5l14.5 2l7.5 2.5l1 5l-0.5 11.5l-58 0l0-14l-3-9.5l-1.5-9.5l1.5-3.5l2.5-11l2-4.5l0-7l1-2.5zM345 312.5l6-1.5l2.5 0.5l1.5 1l1 5l-0.5 2.5l-2 3l-2.5 2l-2.5 0.5l-4.5 0l-3.5-1l-3-2.5l-1.5-4.5l0.5-2.5l2.5-1l6-1.5zM42 322l0-0.5l19-0.5l2.5 0.5l14.5 4l2 1.5l1.5 4.5l-2 5l-5 2.5l-6 0.5l-26.5-0.5l0-17zM122 327l2-1l5-0.5l16.5 1l5 0.5l1 2.5l0 4.5l-1 2.5l-5 1l-14.5 0.5l-4.5 0l-4.5-1.5l-1-2.5l0-4.5l1-2.5zM208.5 327l9.5-1.5l17 0.5l3 1l1 2.5l0 4.5l-1.5 2.5l-5 0.5l-16.5 0l-6.5-0.5l-2-2.5l-0.5-2.5l1.5-4.5zM342.5 339l1.5-1l2-0.5l2.5 0l2.5 3l2 8l0 11.5l-16 0l0-9.5l1-7l1.5-2.5l3-2z"/>
<path fill="#1432e6" fill-rule="evenodd" d="M362 168l6 0l7 2l15.5 0.5l1.5 1l2.5 3.5l0.5 2.5l-1.5 2.5l-1.5 1l-4.5 1.5l-7.5 0l-5-1l-12.5-1.5l-4-2l-2.5-5l0-1l2.5-2.5l3.5-1.5zM96.5 199l6.5 0l3 2.5l0 4.5l-1.5 2.5l-4.5 2.5l-5 1l-12-2l-3-1.5l-0.5-2.5l1.5-4.5l2-1l7 0l6.5-1.5zM124.5 199l2-0.5l3 0.5l3.5 2.5l0.5 1l0 3.5l-2.5 3.5l-2 0l-2.5-0.5l-2.5-2l-1-3.5l0-2l1.5-2.5zM42 211l0-1.5l9.5 0l14.5 1.5l7 0.5l2.5 0.5l1 1l0 5l-1 2.5l-2.5 0.5l-7 1l-2.5 0.5l-5 1l-16.5 0l0-12.5zM125 227.5l4-1.5l2 0.5l2.5 3.5l2.5 11.5l-0.5 5l-1.5 2l-3 3l-7 2.5l-7.5 0.5l-7-1.5l-2.5-2l-1-2.5l0-4.5l1-2.5l2.5-3l9-4l4-5l2.5-2zM346 227.5l3 0l2 1.5l1 3l0.5 2.5l-1.5 3.5l-2 1l-3 1.5l-2-0.5l-3-1l-2-2l0.5-2.5l2-3.5l2.5-2.5l2-1zM373 229.5l4.5-2l2.5 1.5l7.5 8.5l5 4l1.5 2.5l-2 5l-3 2l-9 1l-6.5-1l-3.5-2.5l-1.5-4.5l0.5-2.5l1-7l3-5zM863 241.5l3-0.5l5.5 0.5l2 2.5l0.5 2.5l-0.5 2l-3 2.5l-7.5 0l-1.5-2.5l-0.5-2l0.5-2.5l1.5-2.5zM891 241.5l4-1l4.5 0l5 1l1 2.5l0 4.5l-1.5 2.5l-4.5 1l-4.5 0.5l-4-1.5l-1-2.5l0-2l1-5zM802 253.5l4 0l7.5 2.5l2 2l0.5 2.5l-1 3l-2.5 2l-7 0.5l-9.5 0l-3-0.5l-1-2.5l1.5-5l3-2l5.5-2.5zM781.5 270l4 0l2 2.5l0.5 9.5l-1 14l0 2.5l1.5 4.5l1.5 2.5l3.5 3.5l4.5 1l14.5-0.5l24.5 2l3 1l3 2.5l1.5 5l5 2l4.5 1.5l9.5 0l4.5-0.5l7.5-1.5l14.5 0l14.5 2l21.5 0.5l0 14l-43 0.5l-42 2.5l-4 1l-2.5 1.5l-1.5 2.5l-0.5 4.5l0.5 9.5l-45.5 0l-0.5-11.5l2-9.5l0-5l-0.5-2.5l-2.5-3.5l-2.5-1.5l-2.5-1l-2 0.5l-2.5 1l-2 2.5l-0.5 2l-0.5 5l1.5 12l0 11.5l-100.5 0l0.5-9.5l-0.5-4.5l-1-2.5l-3-2.5l-9-2l-3.5-2.5l-1.5-5l0.5-2l1.5-2.5l9.5-5l2.5-2l6-7.5l3.5-1.5l2-0.5l10 1.5l2 0.5l3 2.5l2.5 5l1.5 4.5l-0.5 5l0.5 4.5l1.5 2.5l1.5 0.5l2.5 0l3-0.5l2.5-2.5l2.5-4.5l2.5-2.5l4-1.5l4.5-0.5l5 1.5l5 0.5l4.5-0.5l2.5-1l1.5-3.5l3.5-10.5l8.5-6l3-4.5l2.5-2.5l10-3.5l4.5-3.5l0-16.5l2-2.5l3.5-2.5zM863 284.5l5-0.5l2.5 1.5l1 3.5l-1 5l-4.5 2l-3.5-2.5l-1-2l-0.5-2.5l0.5-2.5l1.5-2zM894 284.5l1-1l4.5 0l3 1l0.5 2l0 5l-2 2l-1.5 1l-2.5 0l-2.5-1l-2.5-4.5l0.5-2.5l1.5-2zM272.5 298.5l3.5 0l2.5 2l1 7.5l4 3.5l2.5 1l2 1l2.5-0.5l7.5-3.5l5-0.5l4.5 1.5l2 2l1 2.5l0 2.5l-1.5 2.5l-8.5 3l-2.5 2l-2 2l-0.5 4.5l1 2.5l1.5 2.5l3.5 2.5l21 4.5l1 7l-0.5 9.5l-56 0l0.5-11.5l-0.5-5l-2-7l-0.5-12l2.5-12l2-4l0.5-0.5l0.5-7l1.5-2l1-0.5zM348 312.5l3.5 0l1.5 2.5l0 2.5l-0.5 2.5l-1.5 1.5l-2.5 1.5l-2.5 0.5l-2-0.5l-2.5-1l-2-2l-0.5-2.5l0.5-2.5l6.5-1l2-1.5zM58.5 322l5 0.5l9.5 2l6 2.5l1 4.5l-0.5 2.5l-1 2.5l-3 1.5l-4.5 1l-29-0.5l0-16l16.5-0.5zM124 327l5-1l17 1l2 2.5l0.5 2l-0.5 2.5l-1.5 2.5l-1 0l-14.5 1l-4.5-0.5l-2.5-0.5l-1.5-2.5l-0.5-2.5l0.5-2l1.5-2.5zM212.5 327l8-0.5l13 0.5l2 2.5l0.5 2l-0.5 2.5l-3 2.5l-18 0l-3.5-2.5l-0.5-2.5l0.5-2l1.5-2.5zM342.5 341l3.5-1.5l2.5 0.5l2.5 2.5l1.5 8l-0.5 9.5l-13 0l-0.5-11.5l1.5-5l2.5-2.5z"/>
<path fill="#6e00dc" fill-rule="evenodd" d="M370 170.5l3.5 0l1.5 1l2.5 0.5l10-0.5l4.5 1l1 2.5l0.5 2.5l-2 2.5l-4 1l-5 0l-11.5-1l-2.5-2.5l0-2.5l0-2l1.5-2.5zM91.5 201.5l3.5-1l7 0l1.5 1l0 4.5l-1.5 2.5l-4.5 1.5l-2.5-0.5l-2.5-1l-1-2.5l0-4.5zM42 213l0-1l7-0.5l7 0.5l5 1l1 0l1 2.5l0 5l-7 1.5l-14 0l0-9zM125 229.5l1.5-0.5l2.5-0.5l2 0l1 1l3.5 12l-0.5 5l-1 2l-3 3l-7 2l-7.5 0.5l-4.5-1l-2.5-1l-1.5-1l-1.5-4.5l1.5-5l1.5-1.5l2.5-2l8.5-3.5l4.5-5zM343.5 229.5l5-0.5l2.5 2.5l0 3.5l-2.5 2.5l-2.5 0.5l-2 0l-2.5-1l-0.5-2.5l0.5-2.5l2-2.5zM372 239l3-1l2.5 0l2.5 1l2.5 2.5l1 2.5l0 2.5l-1 3.5l-1.5 1l-3.5 0l-5-2.5l-2.5-4.5l0.5-3l1.5-2zM894 241.5l5.5-0.5l2.5 1l1.5 2l0 2.5l0 2l-1.5 2l-2.5 1l-6-0.5l-1.5-2.5l0-2l0-2.5l2-2.5zM803 256l5-1l4 1l1.5 2l0.5 2.5l-0.5 2.5l-1 0.5l-6 2l-2 0l-2-2.5l-0.5-2.5l0-2.5l1-2zM778.5 272.5l5-1.5l3 1.5l0 12l-0.5 11.5l2.5 8l2.5 3.5l2.5 2l4.5 1.5l14.5-1l7.5 2l7.5 0.5l2 1.5l5 6l2.5 0.5l7 0l3.5 1.5l6.5 2l7 0l14.5-1.5l14.5 0l14.5 1.5l21.5 0.5l0 13l-43 1l-22 1.5l-22 0.5l-4.5 1.5l-2 1.5l-1 2.5l-0.5 4.5l0.5 9.5l-43 0l-0.5-11.5l1.5-12l-0.5-5l-1-2l-2-2.5l-2.5-1.5l-2.5-0.5l-2 0l-3.5 2l-1.5 2l-0.5 2.5l0.5 28.5l-98 0l0.5-11.5l-0.5-2.5l-1.5-2.5l-2.5-2.5l-9-2l-4.5-2.5l-1-2.5l0-2.5l0.5-2l1.5-2.5l9-5l2.5-2l4-5.5l2-2l5-1.5l10 1.5l4.5 3l0.5 2l2 2.5l0 4.5l-0.5 5l0.5 4.5l1 2.5l4 1.5l5-0.5l2-1l2-2.5l2.5-4.5l2.5-2.5l3-1l4.5-0.5l5 1.5l2.5 1.5l2.5 0l2.5 0l4.5-2l2-4.5l3-9.5l9.5-7l3-4.5l2-2l9.5-3.5l5.5-4l0.5-5l-1-4l0-5.5l2-4.5zM271.5 308l2.5-0.5l4.5 1l7.5 5.5l2 0.5l2.5 0l5-2.5l5-1l4.5 0.5l2 1l1 2.5l0 2.5l-1.5 2.5l-6 1.5l-5 4l-0.5 1.5l-0.5 2.5l1 4l1.5 3l3.5 2.5l9 2l3 1.5l8 1l1.5 7l-1 9.5l-53.5 0l0.5-11.5l-1-5l-1-4.5l-1-14.5l3.5-14l0.5-1l2.5-1.5zM42 324.5l0-1.5l19-0.5l10.5 2l6.5 2.5l1 2.5l0 4.5l-1.5 2.5l-4.5 1.5l-2 0.5l-29-0.5l0-13.5zM126 327l6.5 0l4.5 2.5l0 4.5l-1.5 2.5l-9.5 0l-1.5-2.5l-0.5-2.5l0.5-2l1.5-2.5zM342.5 343.5l1.5-1l2-0.5l2.5 0l2.5 3.5l0 14.5l-10 0l-0.5-11.5l0.5-2.5l1.5-2.5z"/>
<path fill="#cc00cc" fill-rule="evenodd" d="M116.5 237l5-2l5 0l4.5 1l2.5 2l1.5 3.5l0 2.5l-0.5 2.5l-1 2l-2.5 2.5l-2 1l-7.5 1.5l-7.5-0.5l-4.5-1.5l-1.5-3l-0.5-2l0-2.5l1.5-2.5l2.5-2.5l5-2zM776 293.5l0.5-0.5l2.5 0l4.5 1.5l2.5 4.5l3 6.5l2 3l2.5 1.5l4.5 1.5l12-1l5 1l2.5 1l2 2.5l0.5 2l2.5 3.5l3 1.5l9 0.5l9.5-0.5l7.5 2l7 0.5l7.5 0l9.5-1.5l14.5 0l17 2l19 0l0 12.5l-19 0l-10 0.5l-14 0l-22 1.5l-22 0.5l-4.5 0.5l-4 3l-0.5 2.5l0 14l-12 0l0.5-9.5l-0.5-4.5l-1-2.5l-1.5-2.5l-3-0.5l-2.5 0.5l-3 2.5l-1.5 3.5l-0.5 6l1 7l-16.5 0l-0.5-11.5l1.5-12l-1-5l-1-2.5l-2.5-2.5l-2.5-1.5l-4.5-0.5l-2.5 0.5l-2 2l-2 4.5l0.5 28.5l-29.5 0l0-14l1-9.5l-1.5-9.5l4.5-13l2.5-2.5l4.5-3l2.5-2l5-6.5l2-1.5l5-1.5l7-3.5zM269.5 310.5l2-1.5l4.5 0l2.5 1l3.5 2.5l4 7l2.5 2.5l4.5 3.5l1 1.5l1 7l1.5 2.5l4 3l7 2l4.5 2l1.5 5l0 4.5l-0.5 7l-45 0l0-11.5l-1.5-9.5l-1-14.5l2-9.5l1.5-4l0.5-0.5zM678 312.5l4-1l7 1l1.5 2.5l0.5 2.5l-1 14l1 2.5l3.5 2.5l9.5 2.5l5-0.5l3-2l4.5-7l2-2l2.5-1l2-0.5l5 0.5l4 3l1 7l-1 12l0 11.5l-48 0l0.5-4.5l0-8.5l-1-3.5l-1.5-1.5l-2-1l-5 0l-10.5-2l-5-2.5l-1-2.5l-0.5-2.5l0.5-2l2-2.5l8.5-5l2.5-2l3.5-5l3-2.5zM42 324.5l0-1l19-0.5l2.5 0l9.5 2.5l4 1.5l1 2.5l0 4.5l-1.5 2.5l-5.5 1.5l-29-0.5l0-13z"/>
<path fill="#b400b4" fill-rule="evenodd" d="M118.5 237l3-1l5 0.5l4.5 1.5l2.5 1l1 5l-0.5 2.5l-1.5 2l-3.5 3l-7.5 1.5l-7.5-0.5l-4-1.5l-1.5-2.5l-0.5-2l0.5-2.5l1-2l3.5-3l5.5-2zM772 296l4.5-1.5l4.5 0.5l2.5 1.5l4.5 9l3 3.5l2.5 1.5l4.5 1.5l12-1l5 1.5l2.5 2.5l2.5 5l2.5 2.5l2.5 1.5l7 0.5l12-1.5l10 2l7 0l12-1l19.5-0.5l14.5 2l19 0.5l0 11l-19 0l-10 0.5l-14 0l-22 1.5l-22 0l-4.5 0.5l-5 2l-4.5-0.5l-10-2.5l-2.5 0.5l-4.5 2l-3.5 2.5l-0.5 2.5l-0.5 4.5l0.5 9.5l-13.5 0l-0.5-11.5l1-9.5l-1-7.5l-1.5-3.5l-2.5-2.5l-2.5-1.5l-4.5-0.5l-2.5 0.5l-2.5 2l-1.5 3.5l-0.5 2l0.5 28.5l-27 0l0-11.5l0.5-12l-0.5-5l-1-4.5l0-2.5l3-9.5l2.5-3l7-4.5l5-7l3-2l7-2.5zM271 310.5l3-0.5l2 0l4 2.5l6 8.5l7 6.5l1.5 6.5l1.5 2.5l2 2l2.5 1.5l7 2l3 1.5l1 2.5l0.5 4.5l-0.5 9.5l-43 0l0-11.5l-2-24l2.5-12l2-2zM678.5 312.5l3.5-0.5l5.5 0.5l1.5 5l-0.5 16.5l1 1.5l2.5 1.5l12 2.5l5-0.5l3.5-2.5l4.5-7l3-2.5l3-1l2.5 0.5l2.5 0.5l3 2.5l0.5 2l0.5 5l-1.5 12l0 11.5l-45 0l0-14l-1-5l-2.5-1l-9.5 0l-6.5-1l-5.5-2.5l-1.5-2.5l0-2.5l0.5-2l2-2.5l8-5l6-7l3-2.5zM42 324.5l0-0.5l21.5-0.5l9.5 2.5l3 1l1 2.5l0.5 2l-0.5 2.5l-1.5 2.5l-4.5 1l-29 0l0-13z"/>
<path fill="#960096" fill-rule="evenodd" d="M114 239l5-1.5l5 0l5 0.5l2.5 1l2 2l0.5 3l-0.5 2.5l-2.5 3l-2 1.5l-2.5 1l-7.5 0.5l-7-1l-3-3l-0.5-2l0.5-2.5l1.5-2.5l3.5-2.5zM773.5 296l3-0.5l2.5 0l4.5 2.5l5 9l2.5 3l2.5 1.5l4.5 1l10-0.5l5.5 0.5l2.5 2.5l4 7.5l2.5 2.5l2.5 1l7 0l5-1.5l7-1l14.5 2.5l7.5-0.5l7-1l19.5 0l14.5 2l19 0l0 9.5l-12 0l-14.5 1l-16.5 0l-22 1.5l-31.5 0.5l-12-2l-2.5 0l-7 2.5l-3 1.5l-2.5 2.5l-1 5l0 11.5l-9.5 0l-0.5-11.5l1-7.5l-1.5-9.5l-2.5-4.5l-2.5-2.5l-2.5-1l-4.5-0.5l-2.5 0.5l-2.5 1.5l-2 4.5l-1 4.5l0.5 26l-25 0l0-11.5l0.5-12l-1.5-12l2-8l2.5-3.5l7.5-5l5-7l4-2.5l7-2.5zM269.5 312.5l2-1.5l2.5 0l2 0.5l2.5 1l7 9.5l7.5 7l1 5l1 2.5l2 2.5l3.5 1.5l8.5 3l1 2.5l1 4.5l-1 9.5l-41.5 0l0.5-11.5l-1-17l-1-7l1.5-9.5l1-2.5zM679.5 312.5l2.5 0l3.5 0l2 2.5l0.5 2.5l0 7l-1.5 12l-2 1.5l-12 1.5l-4.5-0.5l-6.5-2.5l-1.5-2.5l-0.5-2.5l1-2.5l1.5-2l8-4.5l6-7.5l3.5-2.5zM58 324.5l5.5-0.5l11.5 3l1.5 2.5l0.5 2l-0.5 2.5l-2 2.5l-3.5 1l-29-0.5l0-12.5l16 0zM721.5 327l4.5 0l3.5 2.5l1 2l0.5 5l-2 14l0.5 9.5l-42.5 0l0.5-19l2-2l4.5 0l10 1l5 0l2-1l2.5-2.5l4.5-7l3.5-2.5z"/>
<path fill="#6e006e" fill-rule="evenodd" d="M115.5 239l6-1l7.5 1l3.5 2.5l1 2l0 1l-2 4l-4 2.5l-6 0.5l-9-0.5l-2-2.5l-1-2l0.5-2.5l1.5-2.5l4-2.5zM768 298.5l8.5-2l2.5 0.5l4.5 2.5l5 8.5l2.5 2.5l2.5 1.5l4.5 1l10-0.5l4.5 1l2.5 2l3.5 6.5l0.5 2.5l-1 5l-1.5 4.5l-1.5 1l-7 3l-5 3l-2.5 0.5l-4.5-1.5l-2.5-1.5l-1.5-7l-2.5-4.5l-3.5-3.5l-5-1.5l-4.5 0.5l-3.5 2l-2 5l-0.5 4.5l0.5 26l-23.5 0l0.5-26l-1.5-9.5l1-6.5l2.5-4l7-4.5l3.5-4l3-4.5l4.5-2.5zM271 312.5l3-0.5l2 0.5l2.5 1.5l6 8l7.5 7.5l2 7l1.5 2.5l2.5 1.5l9.5 3l1.5 2.5l0.5 2.5l0 4.5l-0.5 7l-39.5 0l0-11.5l-0.5-5l0-9.5l-1-9.5l1-9l2-3zM681.5 312.5l3 1l1.5 1.5l1.5 5l-1 9.5l-2 5l-2.5 2l-9.5 2l-2.5 0l-7.5-2l-1.5-2.5l-1-2.5l1-2l2-2l7-4l3.5-3.5l3.5-5l4.5-2.5zM841.5 324.5l5 0l5 1l7 1l14.5-1l22 0l10 1.5l1 2.5l0 4.5l-3.5 2.5l-3 0l-16.5 0l-34 1l-12 0l-4.5-1l-1-5l2-4.5l3.5-1.5l4.5-1zM42 327l0-1.5l12 0l9.5-0.5l10 2l2 2.5l0.5 2l-0.5 2.5l-2 2.5l-2.5 0.5l-29-0.5l0-9.5zM719 329.5l4-2.5l2.5 0.5l3 2l1 2l0 7.5l-1.5 11.5l0.5 9.5l-40.5 0l0-11.5l0.5-5l1-1.5l2.5-1.5l2-0.5l12.5 1l4.5-1l4-3.5l4-7z"/>
<path fill="#500050" fill-rule="evenodd" d="M118.5 239l6 0l6 2.5l1.5 2.5l-1 4.5l-7 2.5l-10-1l-2-0.5l-1-3l0-2.5l2.5-2.5l5-2.5zM769.5 298.5l7-0.5l4 0.5l3 2.5l1 2l1.5 2.5l1 2.5l2 2.5l2 1.5l2.5 0.5l2.5 1.5l12 0l4.5 0.5l2.5 3l1.5 4.5l-1 7.5l-2 4.5l-1 0.5l-3.5 2l-6 2l-2.5 0l-4.5-1.5l-2.5-2.5l-1.5-5l-3.5-4.5l-2.5-2.5l-5-2l-4.5 0.5l-2.5 1.5l-4 4.5l-0.5 7l0 26l-20.5 0l0-28.5l-0.5-4.5l-1-2.5l0-4l1.5-3l1-2.5l4.5-3l5-3.5l4-5.5l1-2l2.5-0.5l2.5-2zM270.5 315l1-1l2.5-0.5l3.5 1.5l3.5 4.5l1.5 2.5l3.5 3.5l4.5 4l2 7l3 4l2.5 1.5l8 1.5l1.5 2.5l0.5 2.5l0 7l-0.5 4.5l-37 0l0-26l-0.5-4.5l-1-2l0-3l0-3.5l1.5-6zM677.5 315l4.5-1l2.5 1.5l1 2l0 4.5l-0.5 7.5l-2 4.5l-5.5 2.5l-7.5 0.5l-6-0.5l-2-2.5l0-2.5l0.5-2l2-2.5l3-0.5l5-4.5l4-4.5l1-2.5zM42 327l0-0.5l21.5 0l7.5 0.5l3 2.5l0.5 2l-0.5 2.5l-3 2.5l-12.5-1.5l-16.5 0l0-8zM836.5 327l7.5-1l17 1l12-0.5l24 0l4 0.5l1.5 2.5l0.5 2l-1 3l-5 1.5l-12-1l-10 1.5l-23.5 0.5l-14.5-0.5l-2-2.5l-0.5-2.5l2-4.5zM720.5 329.5l2.5-1l2.5 0l3 3l0 7.5l-2 9.5l0 11.5l-37 0l-0.5-11.5l0.5-3l1-2l1.5-1l3.5-1.5l8.5 1.5l5-0.5l4.5-2.5l3-3l4-7z"/>
<path fill="none" stroke="#000" stroke-width="1.8" stroke-linejoin="round" stroke-linecap="round" d="M86.5,196.0 88.4,195.1 90.4,194.3 92.3,193.4 93.7,192.3 95.2,191.3 96.7,190.4 98.3,189.8 100.0,189.4 101.8,189.2 103.8,189.0 105.8,188.6 107.6,188.1 109.5,187.4 110.8,185.9 112.0,184.5 113.2,183.4 114.4,182.3 115.5,181.1 116.6,179.9 118.1,178.6 119.6,177.3 121.8,176.0 121.2,178.4 120.3,180.0 119.3,181.3 120.8,180.8 122.6,180.4 124.4,179.7 126.0,179.0 127.3,177.9 128.8,176.9 131.2,175.8 133.6,176.8 135.1,177.7 136.3,178.6 137.8,178.9 139.6,179.2 141.4,179.5 143.3,179.8 144.8,180.6 146.4,181.3 147.9,181.9 149.3,182.6 150.8,183.3 152.4,183.9 153.9,184.4 155.5,185.0 156.9,186.7 158.2,188.3 159.4,189.2 160.7,190.3 161.8,191.4 162.9,192.7 163.9,194.0 165.0,195.2 166.2,196.3 167.4,197.3 169.8,195.6 171.2,197.1 172.2,198.5 173.1,199.9 174.0,201.8 174.8,203.8 175.4,205.4 177.5,206.9 178.7,208.2 179.7,209.5 180.9,210.7 182.1,211.7 183.4,213.2 184.8,214.8 183.6,217.8 183.9,219.4 184.2,221.1 184.3,222.9 184.5,224.6 184.7,226.4 184.3,228.4 183.9,230.3 183.6,232.2 184.0,234.0 184.4,236.0 184.7,237.9 185.4,239.8 186.1,241.8 186.9,243.7 188.1,245.2 188.9,246.6 189.7,248.1 190.6,250.0 191.5,251.9 192.4,253.8 194.1,254.5 195.8,255.1 197.4,255.7 198.5,256.8 199.6,258.0 200.6,259.3 201.3,261.0 202.1,262.8 202.8,265.0 203.5,267.3 204.6,268.9 205.7,270.4 206.8,271.8 208.0,273.3 209.6,274.3 211.0,275.3 212.2,276.1 212.6,277.9 213.2,279.8 213.9,281.8 215.0,283.2 216.2,284.5 217.4,285.8 218.5,287.1 217.9,287.7 217.3,285.9 216.8,284.1 215.1,281.9 214.2,280.4 213.5,279.0 212.7,277.5 211.9,275.5 211.0,273.6 210.1,271.7 209.2,270.4 208.3,269.0 207.4,267.5 206.5,265.8 206.2,263.8 206.2,261.3 208.9,261.9 211.4,262.7 212.2,264.7 212.9,266.5 213.4,268.2 214.2,269.9 214.9,271.6 215.7,273.4 216.8,274.8 218.0,276.1 219.2,277.3 220.5,278.7 221.8,280.0 223.2,281.4 224.4,282.8 225.6,284.3 226.7,285.7 227.9,287.3 228.5,289.4 229.3,291.6 229.5,293.8 229.8,295.7 231.1,296.7 232.2,298.1 234.0,299.5 235.6,300.9 237.3,301.5 239.1,302.4 240.6,303.5 242.1,304.5 243.6,305.4 245.1,306.2 246.5,307.0 248.0,307.7 249.6,308.4 251.2,308.2 252.9,307.9 254.4,307.5 256.8,307.7 258.0,309.1 259.3,310.5 260.6,311.8 262.4,312.6 264.2,313.5 265.9,314.1 267.7,314.8 269.3,315.5 270.8,316.1 272.3,316.6 274.0,318.5 275.5,320.3 277.0,322.1 277.2,324.8 278.8,325.2 281.3,327.0 282.5,328.5 283.6,330.0 285.3,331.1 287.0,332.3 289.6,333.1 290.9,330.5 292.5,330.4 294.1,330.2 294.7,331.9 295.3,333.8 296.5,335.2 296.4,337.0 296.4,338.8 296.4,340.6 296.6,342.3 296.1,344.4 295.6,346.5 294.4,347.9 293.0,349.3 291.7,350.2 290.1,351.4 290.2,354.0M85.2,197.4 83.6,197.8 82.0,198.0 80.3,198.3 78.7,199.0 77.2,199.7 75.7,200.5 73.9,201.3 72.0,201.5M68.3,202.3 66.7,202.1 65.1,202.8 63.6,203.4 62.0,203.9 60.4,204.2 58.7,204.2 56.9,203.9 55.0,204.1M49.0,204.4 51.0,205.2 52.6,203.8M919.0,204.4 917.3,204.7 915.7,204.4 914.1,203.9 912.6,203.3 911.0,202.7 909.4,202.4 907.7,202.2 906.0,202.3 904.2,202.4 902.2,202.4 900.9,200.3M143.2,179.1 144.9,179.3 146.5,179.8 148.0,180.2 149.7,181.5 151.6,182.9 153.6,182.6 155.2,182.2 156.4,181.7 157.5,182.3 159.0,183.0 160.6,183.6 162.1,184.4 163.5,185.6 164.7,186.8 165.8,188.2 166.9,189.4 168.6,190.8 170.8,192.6 169.8,195.4M297.4,329.1 296.0,327.3 294.0,326.7 291.9,326.4 290.1,327.3 288.2,328.2 286.3,327.6 284.3,326.8 283.1,324.8 282.0,322.8 282.0,320.9 282.0,319.2 282.4,317.1 282.6,314.9 282.9,312.7 283.0,310.5 281.3,309.3 279.6,308.2 277.9,308.3 276.2,308.2 274.6,308.3 273.0,308.4 271.3,308.5 269.9,307.7 270.2,305.4 270.6,303.2 271.1,300.3 272.4,297.4 272.8,295.5 273.3,293.6 273.7,291.7 271.3,291.8 269.5,292.3 267.7,292.8 265.9,293.2 265.5,295.3 265.2,297.4 263.9,298.7 262.7,300.0 260.8,300.2 258.8,300.5 256.9,300.8 255.2,299.9 253.5,299.1 252.4,297.7 251.1,296.4 250.1,294.8 249.0,293.1 248.2,291.0 247.4,288.8 247.6,286.9 247.8,285.1 248.0,283.3 248.1,281.5 248.4,279.3 248.6,277.1 248.3,275.3 248.0,273.1 250.3,271.0 252.1,269.7 254.0,268.3 257.2,267.0 259.5,267.2 261.8,267.5 263.7,268.3 265.3,269.0 268.0,269.0 267.3,266.3 269.5,265.8 271.3,265.7 273.1,265.8 274.9,265.9 276.7,266.9 278.6,267.9 281.0,267.0 282.2,268.4 283.4,269.9 283.9,272.1 284.5,274.2 285.2,275.6 286.0,277.1 286.7,278.5 288.4,280.7 289.5,280.4 289.8,278.8 290.1,277.1 289.5,275.4 288.9,273.5 288.4,271.6 287.5,269.5 286.7,267.2 286.5,264.9 286.4,262.4 288.0,260.0 289.5,258.9 290.8,258.0 292.1,257.1 293.9,256.0 295.7,254.9 297.3,253.9 298.8,252.9 301.0,251.4 300.4,249.4 300.0,247.2 299.2,245.4 299.3,243.4 299.6,241.4 301.5,242.4 302.9,241.6 304.1,239.8 305.2,238.0 305.0,236.2 306.7,235.5 308.2,234.9 309.8,234.4 311.3,233.7 312.9,233.1 314.3,233.0 313.1,231.0 312.3,228.5 314.5,226.4 316.2,225.8 317.8,225.2 319.4,224.6 321.9,223.5 324.3,222.9 326.0,222.1 328.6,221.4 327.3,223.6 326.0,225.1 324.9,226.3 326.2,227.5 327.4,226.0 329.0,224.4 330.7,223.8 332.3,223.3 333.9,222.9 335.5,222.3 337.2,221.6 338.9,221.3 336.6,220.5 334.9,220.0 333.3,219.6 331.6,219.3 329.9,219.2 328.1,219.1 327.3,217.3 326.5,215.3 328.4,213.3 326.9,213.2 325.0,212.6 323.3,211.9 321.9,212.5 320.4,213.2 318.9,213.9 317.5,214.6 316.0,216.0 314.4,217.4 312.5,218.9 313.2,216.6 314.3,215.2 315.5,213.8 316.6,212.5 317.7,211.1 319.1,209.6 320.9,208.9 322.5,208.3 324.2,207.1 326.1,207.2 327.7,207.3 329.3,207.4 330.9,207.3 332.6,207.3 334.1,207.3 335.9,207.1 337.7,207.0 339.5,207.0 341.2,206.9 342.7,206.1 344.4,205.2 346.0,204.3 347.1,202.9 348.3,201.6 348.5,199.6 348.6,197.4 347.1,196.9 345.5,196.3 343.9,195.8 342.3,194.9 340.7,193.9 339.1,192.9 337.4,191.4 335.7,189.9 335.3,187.8 334.6,185.5 333.3,184.4 331.8,183.5 330.3,182.8 328.7,181.9 327.7,180.3 327.7,181.7 326.3,183.1 324.7,184.3 322.5,185.6 320.3,184.8 318.9,183.8 317.6,183.0 317.4,181.4 316.7,179.7 315.6,177.8 313.3,177.0 311.3,176.4 309.5,175.7 307.9,174.8 306.3,173.8 304.8,173.2 303.2,172.6 301.6,172.2 300.0,171.7 298.5,171.3 295.5,171.3 295.4,174.5 295.1,176.5 295.0,178.6 295.8,180.5 296.6,182.3 297.4,184.2 298.1,186.0 298.8,187.9 299.5,190.4 298.0,192.5 296.8,194.1 295.4,195.9 293.5,196.9 294.1,197.3 294.3,199.2 294.3,201.1 294.4,203.5 292.5,204.7 290.6,205.8 289.0,204.3 287.9,203.0 286.4,201.8 285.1,200.3 284.5,198.5 284.0,196.7 283.3,195.1 282.0,193.2 279.8,192.4 278.1,192.0 276.3,191.6 274.6,191.1 273.0,190.5 271.6,189.7 270.1,188.9 268.6,188.2 266.8,187.4 264.5,187.5 262.5,187.6 260.8,187.8 259.8,186.9 258.4,185.9 257.1,184.8 255.7,183.7 255.6,181.9 255.3,179.9 256.4,178.2 257.5,176.5 259.1,175.3 260.7,174.4 262.0,173.1 263.9,172.7 265.7,170.2 267.6,170.1 269.7,169.6 271.9,168.6 273.1,166.4 273.9,164.4 274.7,162.3 276.5,161.2 278.7,160.3 280.9,162.0 282.3,163.4 283.5,162.6 285.2,161.7 286.8,161.1 286.8,159.2 287.0,157.1 287.3,154.3 285.7,152.0 284.8,150.3 283.4,149.4 282.0,148.6 278.6,147.4 275.5,149.2 274.6,151.0 273.7,152.8 272.8,154.6 271.4,156.5 269.1,156.8 267.3,157.0 265.0,156.6 262.8,154.8 261.3,152.9 260.2,151.0 259.2,149.2 258.0,147.5 256.9,146.1 256.7,147.5 256.5,149.2 256.3,150.9 255.9,152.6 255.4,154.5 254.0,155.8 252.6,157.1 250.9,158.0 249.3,158.8 247.4,159.7 245.3,159.4 243.8,158.8 242.3,157.7 240.9,156.3 239.4,154.8 237.9,153.6 236.1,152.9 234.3,152.6 232.5,152.5 230.1,152.6 227.8,153.2 226.0,153.6 224.2,153.8 223.0,153.8 222.3,153.2 220.7,152.8 218.4,152.7 216.2,153.6 214.7,154.8 213.2,155.8 211.7,156.6 210.1,157.2 208.4,157.7 206.7,156.4 205.4,155.6 203.9,155.9 202.0,156.0 200.1,156.0 198.4,155.7 196.7,155.3 195.0,154.6 193.3,153.5 191.6,152.1 189.7,151.3 187.9,151.0 186.1,151.6 184.3,152.8 182.2,153.6 180.3,154.3 178.7,154.6 177.4,154.8 175.8,154.5 174.7,154.1 173.4,153.9 171.8,153.6 170.2,153.4 168.4,153.4 166.6,153.7 164.8,154.0 163.0,154.2 161.1,154.1 159.0,153.5 156.8,152.6 155.3,151.5 154.6,150.2 152.8,149.4 151.0,149.2 148.7,149.3 146.7,150.0 145.0,150.6 143.2,151.9M340.5,215.7 341.8,214.8 343.2,213.9 344.6,213.0 346.0,212.2 347.4,211.5 348.9,210.6 349.6,208.6 350.1,206.7 350.0,205.1 350.8,206.4 352.0,207.8 353.3,209.2 354.4,210.6 355.0,212.5 355.6,214.4 356.3,216.2 354.6,218.4 353.1,218.2 351.5,218.1 349.8,217.9 348.0,217.6 346.2,217.2 344.4,216.7 342.6,216.1 340.8,215.6M262.2,219.5 263.8,218.7 265.4,217.8 266.9,216.7 268.4,215.6 269.9,214.6 271.3,213.7 273.0,214.4 274.9,215.0 276.7,215.7 278.4,216.4 279.6,219.1 277.8,219.1 275.8,219.3 273.8,219.4 271.9,219.4 270.1,219.5 268.3,219.6 266.4,219.7 264.8,219.8 263.2,219.8 261.6,219.7M272.6,220.4 274.6,220.7 276.6,221.0 278.4,221.3 277.4,222.7 276.4,224.3 275.4,225.9 274.4,227.7 274.4,230.0 274.7,231.8 272.1,231.8 272.6,230.3 272.8,228.4 273.2,226.4 273.4,224.5 273.6,222.5 273.6,220.6M281.1,220.4 283.1,221.1 285.1,221.8 287.2,222.5 286.6,224.4 286.1,226.1 285.7,227.8 284.7,229.9 283.0,228.2 281.8,226.7 281.1,225.0 280.4,223.4 279.9,222.2 281.7,221.4M282.5,234.1 284.1,233.6 285.6,233.1 287.1,232.5 288.6,231.9 290.1,231.2 291.6,230.4 293.1,230.1 291.5,230.8 289.9,231.4 288.2,232.0 286.5,232.5 284.9,232.9 282.5,233.8M291.3,227.3 293.0,227.2 294.6,227.2 296.3,227.4 297.9,227.4 299.2,227.6 298.9,226.4 297.2,226.7 295.1,227.0 293.2,227.3 291.7,228.8M245.2,200.3 246.6,199.2 248.1,198.1 249.8,197.1 250.6,199.3 251.1,201.3 251.3,204.1 249.0,206.2 245.6,208.1 243.7,204.6 243.4,202.8 243.1,201.0 242.8,199.2M198.9,174.8 200.8,176.1 202.5,176.7 204.2,176.9 205.8,176.6 207.4,175.8 208.8,174.6 210.2,173.2 211.7,171.8 213.5,170.6 215.8,170.9 217.5,171.4 219.3,174.2 216.8,175.5 215.1,175.8 213.5,176.0 211.9,176.3 210.3,176.6 208.7,177.0 207.1,177.4 205.5,177.7 203.5,178.0 201.6,176.9 199.9,176.0 198.3,175.2M213.2,182.0 214.9,182.3 216.6,182.6 218.2,182.8 219.8,182.7 221.4,182.4 223.0,181.7 224.5,181.0 226.1,180.2 228.6,179.8 232.1,182.9 228.7,185.6 226.9,185.6 225.2,185.6 223.5,185.7 221.7,185.9 220.0,186.1 218.0,186.3 216.0,185.8 214.4,185.3 212.8,184.8M186.8,211.9 188.4,210.9 190.0,211.1 191.6,211.3 193.2,211.4 194.8,211.4 196.4,211.3 198.0,211.3 199.6,211.3 201.2,211.4 202.9,211.5 204.5,211.7 206.1,212.0 207.7,212.2 209.3,212.4 210.9,212.7 212.5,212.8 214.1,212.9 215.8,212.9 217.4,212.9 219.0,212.8 220.6,212.6 222.2,212.3 223.8,212.1 225.4,211.9 227.0,211.8 228.6,211.7 230.2,211.7 231.9,211.7 233.5,211.6 235.1,211.5 236.7,211.4 238.3,211.4 239.9,211.3 241.5,211.3 243.1,211.2 244.8,211.3 246.4,211.3 248.0,211.4 249.6,211.5 251.2,211.6 252.8,211.7 254.5,211.8 254.5,213.3 256.0,213.2 257.6,213.2 259.3,213.0 260.9,213.4 262.5,213.7 264.2,214.2 265.8,214.8 267.5,214.8M284.6,222.6 283.7,224.3 284.0,226.0 284.2,227.7 284.5,229.7 286.5,229.7 288.2,229.5 289.8,229.3 291.4,229.0 293.0,229.0 294.8,228.3 296.7,227.8 298.6,227.3 300.6,226.7 302.2,225.4 303.5,224.1 305.2,224.2 307.2,224.1 309.2,224.1 311.4,223.9 312.7,222.3 313.8,220.7 314.9,219.2 315.8,217.8 316.7,216.4 319.9,216.6 320.4,219.1 320.8,221.2 322.1,223.5M201.0,259.8 203.0,260.0 204.9,259.8 206.8,259.6 208.1,260.2 209.6,260.9 211.1,261.5 212.6,262.2 214.2,262.7 215.8,263.2 217.4,263.0 219.1,262.8 220.8,262.6 222.0,262.6 222.0,261.1 224.6,260.8 227.1,260.8 228.5,262.5 229.4,263.8 230.4,265.1 231.4,266.5 232.1,267.6 233.6,268.3 235.0,269.1 236.5,268.1 238.8,267.0 240.3,268.8 241.4,270.5 242.5,272.2 243.0,273.9 243.5,275.6 244.1,277.3 245.8,277.9 247.5,278.4 249.1,278.9M184.3,220.0 186.0,220.8 187.8,220.7 189.5,220.8 191.2,221.0 192.9,221.1 194.7,221.3 196.4,221.3 198.0,221.1 199.6,220.8 201.2,220.6M201.2,211.9 200.7,213.6 200.9,215.3 201.0,217.0 201.2,218.7 201.3,220.4 201.5,222.1 201.7,223.7 201.8,225.4 202.0,227.1 202.0,228.8 202.1,230.5 201.2,232.2M183.9,232.2 185.5,231.8 187.2,231.8 188.9,231.7 190.6,231.6 192.2,231.5 193.9,231.4 195.6,231.5 197.3,231.7 199.0,232.0 200.6,232.4 202.3,232.6 204.0,232.8 205.7,232.8 207.4,232.8 209.0,232.7 210.7,232.7 212.4,232.7 214.1,232.6 215.8,232.2M194.0,232.2 192.9,233.9 192.9,235.7 193.1,237.4 193.2,239.2 193.3,241.2 194.9,242.6 196.2,243.7 197.4,244.9 198.7,246.1 200.1,247.2 201.4,248.4 202.7,249.5 204.1,250.6 205.5,251.6 207.1,252.5M208.5,232.2 209.1,233.8 208.7,235.4 208.3,237.0 208.1,238.6 207.9,240.3 207.7,241.9 207.5,243.5 207.4,245.1 208.5,246.7M208.5,246.7 210.1,246.2 211.7,246.2 213.3,246.2 215.0,246.1 216.6,246.1 218.2,246.1 219.8,246.2 221.4,246.4 223.1,246.6 224.7,246.9 226.3,247.1 227.9,247.3 229.5,247.4 231.1,247.4 232.8,247.3 234.4,247.1 236.0,247.0 237.6,247.0 239.2,246.9 240.8,246.9 242.4,246.9 244.1,246.8 245.7,246.7 247.3,246.6 248.9,246.4 250.5,246.3 252.2,246.2 253.8,246.1 255.4,246.7M220.6,235.1 220.0,236.8 219.8,238.4 219.6,240.1 219.5,241.7 219.5,243.4 219.6,245.0 219.7,246.7 219.7,248.3 219.8,250.0 219.8,251.6 219.7,253.3 219.7,255.0 219.8,256.6 219.7,258.3 219.6,259.9 219.5,261.6 220.6,263.2M215.8,223.5 215.7,225.2 215.7,226.8 215.8,228.5 216.0,230.1 216.1,231.8 216.2,233.4 216.1,234.7 217.4,234.5 219.1,234.6 220.8,234.6 222.4,234.7 224.1,234.8 225.8,234.8 227.5,234.9 229.1,234.8 230.8,234.8 232.5,234.7 234.2,234.7 235.8,234.7 237.5,235.1M215.8,223.5 217.4,223.0 219.1,223.2 220.8,223.3 222.5,223.3 224.2,223.3 225.9,223.4 227.6,223.6 229.3,223.8 231.0,224.1 232.7,223.5M203.7,211.9 203.0,214.1 203.2,216.4 204.7,217.9 206.1,219.2 207.5,221.9 209.5,223.0 211.3,224.0 213.3,223.9 215.8,225.0M232.7,211.9 233.1,213.6 233.1,215.2 233.0,216.9 232.8,218.5 232.7,220.2 232.5,221.8 232.5,223.5 232.4,225.2 232.4,226.8 232.4,228.5 232.4,230.1 232.5,231.8 232.6,233.4 232.7,235.1M237.5,235.1 236.5,238.5 239.1,239.0 240.7,238.7 242.4,238.5 244.0,238.3 245.6,238.2 247.2,238.1 248.8,238.0 250.5,237.7 252.1,237.3 253.7,238.0M235.1,246.7 235.9,248.3 235.9,249.9 235.8,251.5 235.7,253.1 235.6,254.8 235.5,256.4 235.5,258.0 235.5,259.6 235.1,261.2M220.6,261.2 222.5,260.7 224.4,260.9 226.4,261.2M235.1,248.2 236.9,247.2 238.7,247.6 240.5,247.9 242.4,248.1 242.2,250.1 242.2,252.0 242.2,254.0 243.9,254.5 245.5,255.0 247.1,255.6 248.7,255.9 250.3,256.2 251.9,256.4 253.8,256.5 255.6,256.6M232.7,220.6 234.3,220.5 235.9,220.5 237.5,220.5 239.2,220.4 240.8,220.3 242.4,220.2 244.0,220.1 245.7,220.0 247.3,220.1 248.9,220.3 250.6,220.6M232.7,229.3 234.3,229.6 236.0,229.6 237.7,229.4 239.3,229.2 241.0,229.1 242.6,229.0 244.3,229.0 246.0,229.2 247.5,230.0 249.0,231.0 250.8,230.8M250.6,211.9 249.5,213.7 249.5,215.5 249.6,217.2 249.8,219.0 250.0,220.8 250.3,222.5 250.6,224.3 250.8,226.1 250.9,227.7 252.4,227.7 254.0,227.8 255.6,227.8 257.2,227.7 258.8,227.5 260.4,227.2 262.0,226.9 263.6,227.9M255.4,238.0 255.9,239.7 256.0,241.4 256.0,243.1 256.0,244.7 255.9,246.4 255.7,248.1 255.5,249.8 255.3,251.5 255.3,253.2 255.3,254.9 255.4,256.6M252.5,236.3 254.2,236.1 255.9,236.3 257.7,236.5 259.4,236.6 261.1,236.7 262.9,236.3M255.4,248.2 257.1,249.2 258.9,248.8 260.7,248.4 262.4,248.1 264.2,247.8 265.9,247.7 267.7,248.2M268.9,247.9 270.6,248.3 272.2,248.5 273.9,248.6 275.6,248.6 277.2,248.7 278.9,248.6 280.6,248.5 282.2,248.3 283.9,248.2 285.6,248.0 287.2,247.9 288.9,247.9 290.6,247.9 292.2,248.0 293.9,248.0 295.6,248.0 297.2,247.9 298.9,247.8 300.6,247.9M256.8,258.3 258.5,258.9 260.2,258.7 261.9,258.5 263.6,258.3M263.6,217.7 263.7,219.4 263.8,221.1 263.9,222.8 264.0,224.5 264.2,226.2 264.3,227.9 264.2,229.6 263.9,231.4 263.4,233.1 263.0,234.8 262.5,236.6 263.3,238.2 264.0,239.7 264.8,241.1 265.6,242.6 266.4,244.7 267.2,246.8 266.8,248.5 266.5,250.5 266.1,252.4 265.4,254.3 264.7,256.3 264.0,258.3 263.6,260.2 263.2,262.2 262.7,264.2 265.1,264.6 267.2,264.1M256.8,258.3 257.2,260.2 256.8,262.2 256.5,264.1 257.6,267.0M266.5,252.5 268.2,253.6 269.8,253.6 271.5,253.4 273.2,253.1 274.8,252.8 276.5,252.4 278.2,252.0 279.8,251.6 281.5,251.4 283.2,252.5M271.1,252.5 271.4,254.2 271.3,255.9 271.1,257.6 271.0,259.3 271.0,261.0 271.1,262.7 271.3,264.4 270.6,266.1M277.4,252.5 278.6,254.0 278.6,255.7 278.7,257.4 278.7,259.1 278.7,260.7 278.6,262.4 278.6,264.1 276.5,263.9 274.4,263.9 272.3,264.1M272.5,233.1 273.6,234.9 273.6,236.6 273.6,238.4 273.4,240.2 273.3,242.0 272.5,243.8M279.1,233.1 279.1,235.0 279.3,236.8 279.5,238.7 279.1,240.6M268.9,246.7 270.5,245.8 272.1,244.9 273.8,244.1 275.5,243.6 277.3,243.1 279.1,240.7 280.8,241.3 282.6,241.7 284.4,242.0 285.4,240.4 286.4,238.9 287.5,237.3 289.2,236.3M272.5,233.1 274.2,234.0 275.8,233.6 277.4,233.5 279.0,233.5 280.6,233.6 282.2,233.1M289.5,232.2 291.3,232.6 293.0,232.7 294.8,232.9 296.6,233.2 298.4,233.3 300.2,233.3 302.0,232.2M289.5,238.9 291.1,237.8 292.7,237.9 294.3,238.0 295.9,238.0 297.6,237.8 299.2,237.8 300.8,238.9M289.5,232.2 289.4,233.9 289.1,235.5 288.6,237.2 289.5,238.9M306.4,223.5 307.1,225.2 306.7,226.8 306.3,228.5 306.2,230.1 306.2,231.8 306.4,233.4 306.4,235.1M308.8,223.5 307.7,225.2 307.7,226.8 307.7,228.5 308.0,231.0 310.6,231.3 312.8,231.2 313.1,229.3M312.4,222.6 313.0,224.3 312.8,226.0 312.7,227.6 312.4,229.3M272.5,220.6 270.6,220.8 268.9,220.2 267.1,219.4 265.3,219.2M284.4,242.1 285.0,244.0 286.3,245.0 288.3,245.7 289.9,244.0 291.2,242.4 292.6,240.9 295.5,239.4M279.8,252.8 281.6,252.6 283.5,252.7 284.7,254.1 285.9,255.5 287.0,256.9 288.3,258.3 288.7,260.6M285.8,251.9 287.4,252.6 289.0,253.4 290.5,254.3 292.0,255.2 293.5,256.2 295.5,256.0M242.3,211.9 243.4,213.6 243.4,215.4 243.2,217.1 243.0,218.9 242.3,220.6M250.8,220.6 250.8,223.5M261.2,311.7 261.9,309.8 261.9,308.0 261.9,306.1 262.0,304.3 261.9,302.7 264.1,302.7 266.3,302.5 268.4,302.4 268.6,304.2 268.7,306.1 268.4,307.9M268.4,307.9 270.9,308.5M268.2,312.2 269.9,312.6 271.5,313.5 271.8,315.1M268.4,307.9 269.5,310.1 269.3,311.6 270.5,311.5 271.5,313.3 272.1,314.9 273.0,316.3M272.3,316.3 273.3,315.0 274.6,314.0 276.0,313.2 277.9,311.9 279.9,310.7 282.9,310.5M276.9,322.1 278.9,322.4 281.0,322.6 281.7,322.4M283.7,326.2 283.3,328.1 283.9,329.9M297.4,329.1 297.0,331.3 295.7,333.1M279.1,291.5 280.7,290.6 282.3,289.7 283.8,288.9 285.3,288.5 286.9,288.1 288.2,287.7 289.5,288.1 291.3,288.6 293.0,289.0 294.7,290.0 296.5,291.0 298.2,292.1 299.8,293.0 301.5,293.9 302.9,294.7 305.0,294.8 303.2,296.3 301.5,296.2 299.9,296.0 298.3,295.8 297.0,295.8 296.4,294.5 295.4,293.1 294.2,291.8 292.2,291.9 290.2,291.8 288.2,291.5 286.6,291.1 285.0,290.6 283.4,290.2 281.8,289.9 280.2,289.8 278.6,289.7M304.5,301.1 305.8,299.8 307.2,298.6 308.7,297.6 310.1,296.6 311.6,296.7 313.2,296.8 314.8,296.8 316.1,297.8 317.6,298.9 318.9,300.1 317.2,301.2 315.2,301.7 313.2,302.2 311.2,302.8 309.4,302.3 307.6,301.7 305.8,301.2 304.2,300.6 304.6,300.4M294.8,300.6 296.5,300.9 298.2,301.2 300.1,301.9 297.9,302.5 296.4,301.6 294.9,300.6M321.7,300.0 323.6,300.0 326.3,300.4 324.7,303.2 321.0,302.7 320.5,300.4M295.2,277.7 297.6,278.8 297.3,280.5 297.0,282.4 296.7,284.3 295.6,281.5 295.7,279.3 295.9,277.1M300.3,282.9 301.7,284.2 302.9,285.7 304.0,287.3M335.4,307.0 335.8,309.1 336.2,311.7 336.2,313.6 335.8,315.2 335.6,317.0 335.6,318.7 336.2,320.4 335.1,322.1M334.6,322.7 336.6,322.7 336.7,324.8 334.4,324.9 334.1,322.7M297.2,329.4 298.5,327.8 300.1,326.5 300.7,325.1 301.5,323.5 304.1,322.3 305.9,322.2 308.0,322.0 309.6,320.7 310.5,319.6 310.8,319.0 310.2,320.0 309.9,322.4 311.4,323.6 311.2,325.7 311.2,323.7 312.2,322.7 313.4,321.5 314.7,320.2 316.4,319.9 318.5,321.2 320.1,322.5 321.2,322.4 322.8,322.4 324.5,322.6 326.1,323.0 327.7,323.4 329.3,323.7 331.0,323.9 332.6,324.0 333.8,323.8 334.6,324.8 335.3,326.3 336.0,327.9 336.8,329.6 339.2,330.2 341.5,330.6 343.0,332.3 344.4,333.8 345.6,334.8 346.6,335.8 347.9,335.8 349.5,335.9 351.2,335.9 352.8,336.3 354.5,336.7 356.3,337.1 357.6,338.4 358.7,339.7 359.8,340.9 360.9,342.3 361.4,344.0 361.8,345.6 362.3,347.3 362.8,348.8 362.6,350.7 362.5,353.0 365.6,354.0M310.0,319.2 308.2,321.9 307.5,324.1 306.8,326.5 307.5,328.9 308.3,331.3 310.1,332.3 311.6,332.9 313.1,333.5 314.7,334.0 316.3,334.4 317.9,334.8 319.4,335.3 321.0,335.9 320.8,337.7 320.5,339.3 320.2,340.9 320.4,342.8 320.8,344.6 321.1,346.4 321.6,348.1 322.3,350.5M337.1,329.4 336.6,331.1 337.0,333.0 337.2,334.8 337.2,336.3 339.1,338.6 339.3,340.6 339.3,342.3 339.5,344.3 339.6,346.3 339.9,348.5 341.8,349.5 343.8,350.4 345.9,349.8 347.7,349.2 349.2,348.7 350.8,348.1 352.3,347.5 354.3,347.4 356.3,347.3 358.2,347.2 358.5,345.6 358.8,344.0 359.5,342.4M346.2,336.6 347.1,338.1 347.5,339.7 347.8,341.3 348.0,343.1 347.0,344.9 346.1,346.6 345.0,348.2M353.5,337.5 353.0,339.0 352.8,340.6 352.5,342.2 352.1,343.9 352.3,345.8 353.0,347.6M293.3,349.6 295.0,350.0 296.5,350.7 298.0,351.4 299.8,352.6 301.5,353.7 303.2,353.8 304.9,354.0 306.5,354.1 308.2,354.1 309.8,354.1 311.5,354.1 313.2,354.1 314.8,354.0M316.0,349.6 315.4,351.0 317.1,351.0 318.9,351.1 320.6,351.1 321.6,350.6 322.6,351.1M919.0,165.5 917.7,167.0 916.1,167.6 915.0,167.8 914.5,169.4 913.7,171.3 912.6,173.7 910.3,174.7 908.6,175.5 906.6,175.2 904.9,175.7 903.3,176.4 901.6,177.1 899.8,177.7 898.1,178.3 896.4,179.0 894.8,179.7 893.2,179.7 891.6,179.9 890.0,179.9 888.4,179.8 886.8,179.5 885.1,179.0 883.2,178.7 881.4,178.5 879.6,178.6 876.9,179.2 875.8,181.7 875.1,183.5 874.4,185.8 875.4,188.1 876.3,190.0 877.3,191.1 875.2,191.0 873.8,192.6 872.6,194.1 871.5,195.7 870.6,197.3 869.6,199.0 868.8,200.7 867.8,202.4 866.7,204.1 864.8,205.7 861.9,207.3 860.7,204.4 860.5,202.4 860.1,200.4 860.1,198.6 860.0,196.8 859.9,195.1 860.0,193.3 860.3,191.6 860.8,189.4 861.4,187.5 862.9,187.7 864.6,187.5 866.6,187.0 868.0,185.6 869.2,184.3 870.3,183.0 871.4,181.7 872.6,180.5 874.0,178.6 872.6,176.5 871.0,174.9 869.1,175.0 867.4,175.3 865.8,175.5 864.2,175.7 862.6,175.9 861.3,176.2 860.6,177.7 859.7,179.5 858.9,181.3 857.1,183.2 854.6,183.6 852.8,183.9 850.9,183.9 849.0,183.6 847.1,183.3 845.3,183.1 843.4,183.2 841.7,183.4 840.0,183.7 838.3,183.9 836.5,183.9 834.8,183.9 833.1,183.7 831.3,183.5 829.8,183.3 828.5,183.8 827.0,184.4 825.5,185.0 824.0,185.6 822.6,186.1 821.6,187.3 820.5,188.5 819.5,189.8 818.6,191.1 817.7,192.5 816.6,193.7 815.6,194.5 816.4,195.9 817.4,197.6 819.2,198.3 821.0,198.7 822.8,199.0 824.6,199.0 825.0,200.7 825.5,202.5 825.8,204.3 825.9,206.3 825.4,208.2 824.4,209.7 823.8,211.5 823.2,213.2 822.5,214.9 821.2,216.3 819.8,217.6 818.4,218.9 817.1,220.2 815.8,221.6 814.5,223.0 813.4,224.5 812.3,226.1 811.2,227.5 809.4,228.3 807.4,229.0 805.4,229.7 803.8,230.0 802.2,230.4 800.6,230.8 799.5,232.3 798.4,233.9 797.3,235.4 796.0,236.8 794.8,238.2 793.6,239.5 794.2,240.8 794.9,242.3 795.6,243.8 796.3,245.2 796.9,246.7 796.7,248.4 796.4,250.2 796.2,251.9 794.4,252.4 792.7,253.0 790.9,253.7 789.2,252.5 789.2,250.6 789.3,248.6 789.5,246.8 787.9,245.6 786.2,244.3 786.1,242.4 785.9,240.4 785.4,237.9 783.0,238.3 781.5,238.9 780.0,239.5 779.2,240.1 778.8,238.8 778.0,237.1 776.6,235.0 774.8,236.4 773.7,237.7 772.6,239.0 771.6,240.3 769.3,241.1 768.3,242.4 769.4,243.2 770.6,244.4 771.6,245.6 773.2,245.5 774.9,245.4 776.3,245.4 777.7,246.6 778.9,246.8 777.9,246.7 776.3,247.7 774.6,248.9 773.6,250.7 772.7,252.5 773.7,254.4 774.6,256.3 775.3,258.3 776.2,259.8 777.3,261.3 778.4,262.7 778.7,264.8 779.0,267.0 778.5,269.2 777.9,271.5 776.9,272.9 775.9,274.3 774.9,275.7 773.8,277.0 772.8,278.4 771.9,279.8 771.1,281.1 770.0,282.2 768.9,283.4 767.8,284.6 766.7,285.8 765.1,286.6 763.5,287.4 761.9,288.1 760.1,288.8 758.3,289.6 756.3,290.3 754.2,290.9 752.2,291.6 751.3,293.3 750.6,295.1 749.8,293.4 749.0,291.7 747.1,291.8 745.1,291.8 743.9,292.9 742.8,294.0 741.6,295.1 740.5,297.0 739.3,298.9 740.1,301.2 741.0,303.5 742.1,305.4 743.3,307.4 745.1,308.7 746.7,309.8 747.3,311.6 747.9,313.5 748.5,315.4 748.4,317.1 748.1,318.7 747.8,320.3 746.3,321.3 744.8,322.3 741.8,323.4 740.6,324.7 739.5,326.0 738.5,327.2 737.9,328.4 737.8,327.1 737.4,325.6 737.7,323.6 735.9,323.7 734.0,323.7 733.3,321.9 732.7,320.2 732.0,318.2 730.2,317.2 728.6,316.4 725.5,314.2 724.9,317.7 724.6,319.2 724.3,320.8 724.0,322.5 723.6,324.1 724.3,325.8 725.0,327.4 725.5,329.2 726.0,330.9 726.8,333.9 728.6,335.1 730.4,336.2 731.5,337.5 732.6,338.8 733.6,340.2 733.5,341.8 733.4,343.6 733.5,345.4 734.3,346.9 735.1,348.4 735.9,350.0 734.1,350.3 732.8,349.1 731.7,347.8 730.5,346.5 729.4,345.4 728.8,343.8 728.0,342.2 727.2,340.8 727.3,339.1 727.3,337.0 726.1,335.2 724.9,333.6 723.7,332.0 722.6,330.6 722.2,328.6 721.8,326.5 722.0,324.3 722.4,322.1 722.7,320.2 723.1,318.3 723.4,316.2 723.2,314.4 722.8,312.7 722.4,311.0 721.9,309.3 721.4,307.6 720.8,305.6 719.0,305.3 715.8,305.8 713.7,306.2 712.5,306.7 713.1,305.9 713.2,304.0 713.4,302.2 713.4,300.0 711.9,298.3 710.5,297.0 709.4,295.8 708.1,294.5 706.9,293.2 706.1,291.0 705.6,289.2 704.5,290.0 702.9,290.7 701.0,291.0 699.1,291.1 697.5,291.3 695.9,291.6 694.4,291.8 693.3,294.7 692.1,296.0 690.9,297.1 689.6,298.2 688.4,299.4 687.3,300.6 686.2,301.8 685.2,303.2 684.3,304.6 683.3,306.0 681.7,307.3 680.1,308.5 678.6,309.4 678.5,310.9 678.3,312.7 678.2,314.5 678.2,316.3 677.8,318.3 677.4,320.2 676.9,322.1 676.0,323.5 675.0,324.8 674.0,326.2 673.2,327.5 672.0,328.9 671.3,330.2 670.4,329.1 669.0,327.8 668.3,326.1 667.7,324.4 667.1,322.6 666.7,320.8 666.0,319.0 665.3,317.1 664.7,315.3 664.1,313.4 663.3,311.4 662.5,309.4 661.7,307.5 661.4,305.8 661.1,304.1 660.7,302.4 660.3,300.6 659.9,298.9 660.0,297.0 660.0,295.0 660.1,293.1 659.8,291.3 659.3,289.4 657.4,290.8 655.9,292.2 654.4,293.6 653.0,292.3 651.7,291.0 650.2,289.1 652.6,287.7 651.1,287.3 649.4,286.1 647.1,284.4 646.0,282.5 644.8,280.5 642.7,280.5 640.7,280.5 638.7,280.5 636.6,280.7 634.6,280.9 632.6,281.2 630.9,281.2 629.3,281.2 627.6,281.1 626.0,280.8 624.1,280.2 622.2,279.6 621.2,277.6 620.4,276.0 619.0,276.4 617.4,276.8 615.6,277.3 614.0,276.3 612.5,275.4 611.1,274.4 609.6,273.5 608.4,271.8 607.2,270.1 606.0,268.5 603.9,267.4 601.9,266.2 600.1,267.6 600.4,269.3 600.8,271.1 601.2,272.8 602.4,274.3 603.6,275.8 604.7,277.2 605.7,279.4 606.7,281.6 608.5,280.1 608.7,281.8 609.0,283.3 610.7,283.1 612.6,283.2 614.3,283.4 615.6,282.2 617.3,280.9 619.6,279.6 620.6,282.7 622.1,283.7 623.7,284.7 625.3,285.7 626.7,287.4 628.1,288.8 627.4,290.0 626.6,291.4 625.8,292.9 625.1,294.4 624.2,296.6 623.3,298.8 622.0,299.9 620.7,300.9 619.3,301.9 617.9,302.9 616.5,303.8 615.0,304.7 613.6,305.6 612.2,306.6 610.8,307.5 609.4,308.4 607.9,309.1 606.4,309.9 605.0,310.6 603.5,311.4 602.2,312.3 600.6,313.1 599.1,314.0 597.6,314.8 596.0,315.6 594.4,316.3 592.7,316.8 590.9,316.8 589.4,316.8 589.2,315.2 588.7,313.5 588.2,311.7 587.6,310.1 587.1,308.5 586.5,306.9 585.9,305.3 585.2,303.7 584.6,302.1 584.0,300.5 583.5,298.9 582.5,297.4 581.5,295.9 580.6,294.4 579.6,292.9 578.6,291.5 578.3,289.6 577.8,287.7 577.3,285.8 576.3,284.3 575.3,282.9 574.3,281.5 573.3,280.1 572.2,278.8 571.1,277.4 570.0,276.1 568.9,274.7 567.8,273.1 567.2,270.8 567.6,269.4 567.7,270.9 566.5,273.5 564.7,271.7 563.9,270.3 563.1,268.8 562.2,267.2 562.0,265.3 561.9,263.4 564.4,263.3 566.7,263.3 567.8,261.1 568.8,259.0 569.7,257.2 570.5,255.4 571.2,253.5 571.3,251.1 571.3,248.6 569.8,247.8 567.4,247.4 565.4,248.1 563.4,248.7 561.3,249.3 559.4,248.9 557.7,248.4 555.9,248.1 554.0,247.8 552.2,247.4 550.3,246.9 549.1,245.1 547.9,243.3 548.0,241.3 548.0,239.5 547.3,236.6 549.5,235.8 551.7,235.1 554.1,235.1 555.7,234.9 557.3,234.8 558.9,234.6 560.5,234.1 562.0,233.6 563.5,233.0 565.0,232.5 566.9,232.7 569.0,233.0 571.0,233.2 572.6,233.7 574.3,234.3 575.9,234.9 577.4,234.8 579.1,234.7 580.6,234.7 582.4,233.9 584.2,233.1 584.0,231.6 584.0,230.1 582.5,229.0 580.9,227.8 579.4,226.6 577.6,225.5 576.0,224.6 575.0,222.1 576.2,220.7 577.6,219.1 579.0,216.9 576.5,216.4 574.9,216.5 573.0,216.7 571.5,218.0 570.3,219.1 569.3,220.4 568.2,221.6 566.6,223.3 565.0,225.0 563.6,223.8 562.2,222.6 561.0,221.5 559.9,220.2 559.0,219.0 557.7,220.6 556.6,222.0 555.5,223.5 554.5,225.0 553.6,226.5 552.8,228.8 552.2,230.8 553.1,232.1 553.8,233.6 554.1,235.1M554.1,235.1 552.2,236.2 550.1,236.1 548.0,236.1 546.0,235.8 544.0,235.7 542.0,235.6 539.6,237.4 538.6,236.5 539.4,239.4 540.1,241.3 540.8,243.2 539.5,244.9 538.3,246.5 536.5,247.1 535.8,245.8 534.8,244.4 535.2,242.7 533.7,241.4 532.1,239.7 531.1,238.4 530.0,236.8 530.3,234.6 530.6,233.1 528.4,231.2 527.0,230.5 525.5,229.7 524.0,228.9 522.6,228.0 521.5,226.2 520.3,224.6 517.9,222.5 516.6,221.4 513.7,222.6 514.3,224.9 515.8,226.3 517.2,227.8 518.1,229.7 519.0,231.6 520.9,232.6 522.7,233.5 524.4,234.3 526.1,235.1 527.7,236.0 528.9,237.9 526.8,237.3 525.2,236.7 524.1,239.4 525.6,241.2 524.2,242.7 522.6,244.1 521.6,242.3 522.8,239.5 521.5,238.0 518.8,236.7 516.9,235.8 515.0,234.8 512.6,232.8 510.8,231.4 509.0,229.9 508.6,228.1 508.4,226.6 506.5,226.1 504.6,225.5 502.9,226.7 501.1,228.0 499.4,228.4 497.8,228.7 496.1,229.0 493.9,229.0 491.8,228.8 491.7,230.5 491.6,232.1 489.2,234.0 487.6,234.5 485.9,235.1 485.0,237.0 483.9,238.8 483.4,240.6 482.9,242.2 481.7,244.7 480.3,245.9 479.0,247.1 477.2,247.1 475.3,247.2 473.3,247.2 471.8,248.3 470.5,249.4 468.8,247.6 466.1,246.3 464.4,246.7 462.2,246.9 462.3,244.5 462.5,242.5 460.9,241.5 461.6,239.8 462.3,238.2 462.9,236.6 462.9,234.4 462.8,232.1 462.0,229.4 463.4,228.8 464.8,227.9 466.4,228.2 468.3,228.3 470.2,228.4 471.8,228.4 473.5,228.3 475.1,228.3 476.7,228.3 478.6,228.2 480.3,228.1 480.5,226.5 480.7,224.9 480.5,222.8 480.4,220.8 479.2,219.3 478.1,217.8 476.5,217.3 474.7,216.6 472.5,215.6 472.2,212.6 474.7,212.0 476.7,211.7 478.6,211.7 479.5,212.3 479.3,209.3 482.5,209.1 484.3,209.4 485.6,208.7 486.7,207.6 488.3,205.6 490.6,205.3 492.6,205.1 494.6,203.6 495.6,202.1 496.2,200.9 497.3,200.1 498.6,199.1 500.1,198.8 501.7,198.5 503.3,198.4 505.1,197.3 504.8,195.2 504.7,193.1 504.1,191.5 503.6,189.9 505.2,189.0 506.8,188.2 508.1,187.5 508.6,188.3 508.0,189.7 507.6,191.9 509.2,194.3 509.7,195.7 510.5,197.5 512.3,196.6 514.2,195.7 516.2,196.2 517.9,196.7 519.3,196.4 521.0,196.3 522.6,196.2 524.7,196.1 526.7,195.9 528.7,195.7 531.1,196.8 533.2,196.0 535.4,194.9 535.7,192.3 535.7,190.5 536.8,189.4 537.6,188.2 538.6,188.6 540.2,188.8 542.5,188.9 543.1,186.7 543.4,184.7 541.5,182.9 543.0,183.3 545.1,183.1 547.1,183.1 548.6,183.2 550.2,183.0 551.9,182.4 553.4,181.4 554.9,180.2 555.7,180.0 554.6,180.6 552.9,180.2 551.6,179.4 549.9,179.1 548.0,178.8 546.2,178.6 544.4,178.8 542.4,179.3 540.4,179.9 538.2,180.5 536.9,178.9 536.2,177.4 535.5,175.8 535.5,173.5 536.0,171.3 537.6,170.7 539.1,169.8 540.4,168.8 541.7,167.6 542.9,166.3 544.1,165.1 545.0,164.2 543.7,164.3 541.9,163.7 540.4,163.5 538.8,163.0 536.5,162.5 534.2,164.0 532.7,164.8 531.4,165.0 529.7,165.9 528.0,167.3 526.8,169.1 525.8,170.4 523.8,172.1 524.4,175.0 524.0,177.9 526.4,180.1 527.5,180.3 526.8,180.7 526.0,181.3 524.8,182.5 523.3,184.1 523.7,186.5 524.0,188.7 522.4,191.5 520.6,192.3 518.9,192.8 517.3,193.4 515.1,193.9 514.5,191.9 514.1,190.4 513.4,189.0 512.6,187.5 511.9,186.2 510.8,184.8 509.7,183.4 509.4,182.0 507.7,183.9 506.0,184.7 504.4,185.3 502.9,186.0 500.8,186.9 498.5,185.6 496.3,184.3 495.4,182.2 496.1,180.0M514.2,190.2 512.4,190.4 510.2,192.1 512.2,193.7 511.6,191.9 512.8,190.8M470.3,209.5 472.1,209.3 473.8,208.6 475.5,207.8 477.4,206.9 479.3,206.0 481.2,205.4 483.2,205.0 485.2,204.9 486.9,205.1 487.6,203.5 488.3,201.4 486.6,200.1 485.1,199.4 483.7,197.3 481.8,195.8 479.9,194.2 478.6,192.1 476.5,190.9 477.9,188.5 479.3,187.1 477.6,187.0 475.5,186.7 476.6,184.1 475.1,184.4 473.5,184.7 472.4,184.8 472.2,185.9 471.5,187.4 470.8,188.9 470.0,191.5 471.0,192.8 472.1,194.1 473.6,194.0 475.2,194.0 477.5,194.5 477.2,197.4 477.5,199.9 474.9,200.3 473.8,199.7 474.3,202.5 471.5,204.1 473.4,204.8 475.0,205.2 473.8,205.4 472.5,206.4 471.3,207.6 470.2,208.9M468.5,202.8 468.9,200.8 469.1,198.9 469.9,197.4 470.6,195.5 468.9,194.7 467.5,194.0 465.8,193.3 464.4,194.5 463.2,195.6 461.5,196.4 459.6,197.3 459.7,199.6 459.6,201.8 460.9,204.5 462.8,204.2 464.4,203.6 466.0,202.7 467.5,201.5 469.1,200.7M514.0,243.5 515.9,243.2 517.8,242.9 519.7,242.6 522.1,242.7 521.5,245.3 520.6,247.7 518.9,246.9 517.3,246.0 515.7,245.3 514.3,244.7 514.5,243.5M503.8,234.8 505.6,235.2 507.2,235.3 507.0,236.9 507.0,238.8 507.1,240.5 504.6,240.8 504.5,238.8 504.5,236.8 504.6,234.7M505.2,231.5 506.4,230.5 505.7,231.7 506.2,233.5 505.5,233.2 504.8,230.5M540.8,251.0 542.5,250.9 544.2,250.7 546.0,250.5 548.5,252.2 545.7,253.3 542.9,253.8 540.1,251.6M562.3,253.3 564.2,252.8 566.0,252.2 567.0,251.5 566.1,251.8 565.8,253.0 564.4,252.8 562.8,252.9 562.4,252.1M489.8,238.6 492.3,238.5 491.8,240.1 489.8,239.4 490.1,238.6M469.7,250.2 471.2,250.9 472.8,251.4 474.3,251.9 475.9,252.3 477.5,252.5 479.2,252.7 480.8,251.7 482.2,250.8 483.6,249.9 485.1,249.1 486.5,248.4 488.1,248.3 489.7,248.3 491.3,248.2 492.9,248.1 494.5,248.0 496.1,247.7 497.8,247.5 499.5,247.3 501.2,247.2 502.9,247.2 504.6,247.2 506.4,246.6 508.1,246.1 510.4,247.4 509.8,248.8 509.2,250.5 510.5,251.9 509.3,253.3 508.1,254.8 509.3,256.2 510.5,257.5 512.4,258.2 514.2,258.9 515.9,259.1 517.6,259.3 519.4,259.6 521.2,260.1 521.7,262.5 523.5,263.1 525.5,263.8 527.5,264.5 529.1,264.2 530.7,263.9 531.9,263.8 531.8,261.0 533.8,259.4 535.8,258.1 537.9,258.7 539.6,259.3 541.2,260.4 542.7,261.4 544.3,262.4 545.9,262.9 547.5,263.2 549.2,263.5 550.8,263.7 552.5,264.0 554.1,264.3 555.6,263.6 557.2,262.9 558.9,262.1 560.7,262.3 562.1,263.5M562.8,267.0 563.9,268.6 564.2,270.5 564.5,272.4 565.0,274.2 566.2,277.1 566.9,278.6 567.5,280.1 568.1,281.6 568.8,283.1 569.5,284.5 570.4,286.4 571.2,288.4 572.0,290.3 572.3,292.1 572.7,293.9 573.1,295.7 573.5,297.6 574.6,299.1 575.7,300.6 576.8,301.9 577.5,303.7 578.3,305.4 579.1,307.1 579.9,308.8 581.2,309.8 582.4,311.0 583.7,312.2 584.8,313.4 585.9,314.7 587.1,316.0 587.9,317.8 588.6,319.5 589.5,321.0 590.3,322.6 591.4,324.2 593.4,323.8 595.3,323.3 596.8,322.7 598.4,322.1 600.0,321.4 601.9,320.9 603.8,320.6 605.8,320.3 607.6,319.9 607.2,321.6 606.9,323.5 606.3,325.6 605.7,327.8 605.1,329.2 604.4,330.7 603.7,332.2 603.0,333.7 602.4,335.1 601.7,336.8 600.9,338.5 600.1,340.1 599.0,341.7 597.9,343.2 596.7,344.7 595.7,346.3 594.8,347.9 593.4,348.8 591.8,349.9 590.2,350.9 588.9,352.4 587.5,353.7 586.1,355.0 585.5,356.9M562.8,267.0 564.0,269.0 564.3,271.0 565.7,271.8 566.7,272.8 566.7,271.7 567.1,270.1 567.6,268.4M469.7,250.2 469.3,252.2 468.6,254.2 467.0,255.5 465.4,256.7 464.0,257.8 463.4,259.4 462.8,261.0 462.2,262.7 461.6,264.3 461.3,266.4 460.9,268.7 459.2,270.0 457.6,271.0 456.0,272.0 454.2,272.8 452.3,273.9 451.2,275.5 450.1,277.1 449.1,278.7 448.3,280.2 447.4,281.7 446.4,283.1 445.4,284.4 444.7,286.6 444.0,288.7 443.3,290.9 442.7,293.1 443.4,295.3 444.1,297.5 444.5,299.6 444.9,301.8 444.5,304.0 444.0,306.1 443.2,307.8 442.5,309.5 441.7,311.4 442.5,313.2 443.2,314.9 443.3,316.6 443.4,318.5 444.8,319.9 446.0,321.1 446.8,322.4 447.8,323.8 449.3,325.4 450.8,326.8 451.5,328.4 452.2,330.1 453.5,331.6 454.8,333.1 457.2,334.6 458.3,335.8 459.5,337.1 460.7,338.5 462.3,339.7 463.9,340.8 465.8,341.9 467.7,341.0 469.2,340.1 470.7,339.3 472.7,339.2 474.7,339.2 476.7,339.3 479.2,340.1 480.7,339.3 482.3,338.4 483.8,337.6 485.5,336.5 487.4,335.4 490.5,334.9 492.7,335.3 494.9,335.7 495.8,337.5 496.8,339.2 498.1,342.1 501.0,341.9 502.8,341.5 504.4,341.1 505.4,342.2 506.4,343.3 506.5,345.0 506.6,346.8 506.3,348.8 506.1,350.9 506.5,354.0M479.9,252.5 479.7,254.2 480.1,255.9 480.3,257.5 480.3,259.2 480.2,260.7 478.5,260.8 476.8,261.1 474.8,261.6 473.0,263.3 471.5,265.0 470.1,265.9 468.7,266.9 467.2,267.8 465.7,268.6 464.2,269.4 462.4,270.5 462.4,273.3 461.2,273.2 459.5,273.4 457.8,273.7 456.0,273.9 454.3,274.2 452.6,273.7M463.0,273.7 462.2,275.3 462.3,277.0 462.6,278.2 461.0,278.1 459.0,278.0 457.0,277.8 454.4,277.9 453.9,280.4 453.9,282.2 454.0,284.0 454.3,285.3 452.1,286.9 452.1,288.9 452.3,290.6 452.4,292.1 451.0,292.1 449.4,292.1 447.8,292.1 446.1,292.2 444.5,292.2 442.9,292.2M463.0,274.8 464.4,275.7 465.7,276.8 466.9,277.8 468.2,278.8 469.6,279.8 471.0,280.7 472.4,281.4 469.5,281.5 472.0,282.9 471.9,284.7 471.8,286.4 471.8,288.1 471.8,289.8 471.9,291.5 471.8,293.2 471.8,294.7 471.6,296.4 471.4,298.0 471.2,299.6 471.1,301.3 471.1,302.9 471.1,304.5 471.1,306.4 469.2,306.9 467.6,307.2 465.9,307.3 464.3,307.5 462.6,307.7 461.0,307.9 459.4,308.1 457.7,308.4 455.9,308.7 454.3,310.6 453.3,309.9 451.8,309.1 450.3,308.5 448.7,307.9 447.1,307.5 445.4,307.2 444.1,306.1M472.4,281.5 473.0,283.4 474.3,284.5 475.7,285.5 477.1,286.4 478.6,287.3 480.0,288.2 481.4,289.1 482.8,290.1 484.2,291.0 485.6,292.0 487.1,292.9 488.5,293.8 489.9,294.8 491.2,295.9 492.6,296.9 493.7,298.0 495.8,297.8 498.0,297.7 499.4,296.7 500.8,295.7 502.2,294.6 503.5,293.5 504.8,292.3 506.1,291.2 507.4,290.0 508.6,288.7 509.8,287.4 511.0,286.2 511.9,285.8 511.1,283.7 509.9,283.6 507.9,283.0 507.7,281.0 507.6,279.4 507.4,277.7 507.5,276.1 507.4,274.5 507.4,272.9 507.4,271.3 507.4,269.6 507.5,268.0 507.7,266.5 506.8,266.3 506.0,264.8 505.1,263.4 504.2,262.0 503.2,260.6 502.2,259.0 501.3,256.8 502.4,254.7 503.2,253.4 503.1,251.9 503.2,250.0 504.1,248.2M544.4,262.4 544.3,264.0 544.5,265.6 544.7,267.3 544.9,268.9 545.1,270.5 545.4,272.2 545.5,273.8 545.5,275.5 545.5,277.1 545.5,278.7 545.4,280.4 545.3,282.0 545.2,283.6 545.0,285.3 545.0,286.9 544.9,288.6 544.8,289.8 546.0,289.7 547.6,289.7 549.2,289.9 550.9,290.1 552.5,290.3 554.1,290.4 555.7,290.4 557.3,290.4 558.9,290.2 560.5,290.1 562.1,290.0 563.8,290.0 565.4,290.1 567.0,290.3 568.6,290.6 570.2,290.8 571.8,291.0 573.4,290.2M513.0,285.9 515.1,286.1 516.5,287.2 517.8,288.2 519.3,287.0 521.4,285.5 523.3,286.4 524.7,287.3 526.1,288.2 527.5,289.1 528.9,290.1 530.3,291.0 531.8,291.7 533.3,292.4 534.7,293.2 536.2,294.0 537.7,294.8 539.2,295.5 540.8,296.1 541.7,296.8 541.6,295.4 544.0,295.5 544.0,294.1 544.2,292.1 544.4,290.2M521.5,286.1 521.2,287.8 521.1,289.5 521.1,291.2 521.1,292.9 521.2,294.5 520.9,296.1 520.5,297.7 520.1,299.3 519.8,300.9 519.4,302.5 519.2,304.1 518.9,305.7 518.6,307.3 518.3,308.9 517.9,310.5 516.5,313.4 517.7,315.0 518.7,316.3 518.3,319.2M542.0,297.4 541.4,299.0 540.8,300.5 540.3,302.1 540.0,303.7 539.8,305.3 539.6,307.0 539.4,308.6 539.1,310.2 538.8,311.8 538.4,313.4 538.0,315.3 537.5,317.3 537.2,319.2 538.1,320.6 539.1,321.9 540.2,323.5 539.8,325.9 538.9,328.6 536.4,328.7 534.3,328.6 532.5,328.5 531.0,329.2 529.4,330.0 527.8,330.8 526.3,331.6 524.6,332.3 522.8,332.8 521.2,332.5 520.8,330.5 520.4,328.6 519.8,326.7 519.2,325.0 519.7,322.8 520.2,320.7 518.3,319.2M493.7,298.3 492.7,300.0 492.5,301.8 492.4,303.6 492.3,305.4 492.3,307.2 492.3,308.9 490.4,309.5 488.4,310.1 486.5,310.6 485.2,313.5 483.3,312.0 481.5,310.7 479.3,310.9 479.0,312.3 478.4,313.9 477.6,315.6 475.6,317.2 474.0,318.4 473.0,320.0 471.8,321.8 470.6,323.6 471.6,325.3 473.0,327.1 475.2,326.4 477.3,325.4 477.9,322.4 479.1,322.5 480.7,322.5 482.4,322.6 484.2,322.6 485.6,321.0 486.6,319.6 488.2,319.5 490.1,319.2 491.1,317.6 492.2,316.1 493.5,314.5 495.3,314.5 496.9,314.6 498.5,314.7 500.2,315.2 501.8,315.6 503.3,316.0 504.8,315.4 506.4,314.9 508.1,314.4 509.8,314.1 511.5,313.9 513.2,313.7 514.9,313.6 516.6,313.4M456.2,309.1 455.8,311.0 456.0,312.9 456.1,314.8 455.0,317.7 457.4,319.1 459.0,319.8 460.6,320.4 462.2,320.9 464.0,321.7 465.4,324.7 466.0,327.0 466.6,329.3 466.0,331.4 465.3,333.3 464.5,335.1 464.6,337.3 464.7,339.4 465.9,341.2M443.4,314.9 445.2,314.1 446.8,314.9 448.5,315.5 450.0,316.0 451.1,318.0 452.9,318.2 454.6,318.3 456.2,317.8M452.6,329.9 454.4,329.7 456.2,329.7 458.0,329.8 460.3,329.6 459.6,327.1 459.0,324.9 458.5,323.0 458.1,321.1 457.4,319.2M457.4,334.3 459.1,332.9 459.3,331.4 461.1,329.9 462.8,330.2 464.7,330.8M477.5,322.1 476.5,324.2 476.8,326.5 477.8,328.5 478.6,330.8 478.5,332.6 478.3,334.3 478.0,336.0 477.7,337.6 476.8,339.2M484.0,322.1 485.6,324.9 485.3,326.9 485.0,328.9 484.9,330.9 485.8,332.6 486.8,334.3 487.6,336.0M486.4,319.2 488.4,321.9 488.3,324.0 488.2,326.0 488.3,327.8 489.0,329.1 489.7,330.6 490.4,332.0 491.0,333.5 490.5,335.4M490.5,335.4 490.5,333.5 490.9,331.7 491.2,329.8 491.4,327.9 491.6,326.1 491.8,324.3 491.8,322.4 491.8,320.5 492.0,318.5 492.2,316.6 493.7,314.9M516.6,313.4 517.2,315.3 517.8,317.3 518.3,319.2 517.3,321.3 516.3,323.4 515.3,324.8 514.4,326.2 513.6,327.7 512.9,329.2 511.8,330.5 510.7,331.7 509.6,332.8 508.5,333.9 507.7,335.7 507.1,337.6 506.4,339.4 504.5,340.7M521.5,332.2 520.3,333.8 519.8,335.5 519.4,337.3 519.1,339.1 518.9,341.0 519.9,342.4 520.6,343.8 521.3,345.3 521.9,346.8 522.5,348.3 522.6,349.4 520.7,348.9 518.6,348.3 516.6,347.8 514.9,347.9 513.1,347.8 511.3,347.6 509.6,346.9 507.7,346.8M538.4,327.9 540.2,328.5 541.9,329.5 542.8,331.0 543.8,332.4 545.0,333.8 546.3,335.1 547.6,336.3 548.8,337.6 549.8,338.9 551.2,339.5 552.8,340.3 554.3,341.1 555.9,341.9 557.5,342.6 558.9,343.4 560.6,342.9 562.5,342.6 564.4,342.2 566.3,341.8 568.1,340.8 570.0,339.7 570.2,337.6 570.4,335.6 570.6,333.6 571.7,330.7 571.0,329.4 570.4,327.7 569.8,326.0 569.3,324.3 568.7,322.7 569.4,321.1 570.1,319.4 570.7,317.7 571.4,316.0 572.1,314.4 572.8,312.7 573.2,310.8 573.4,308.9 573.5,307.0 573.5,305.1 573.4,303.2 575.1,302.1 577.0,301.8M540.8,323.6 542.8,323.9 544.5,324.7 546.1,325.1 547.7,325.4 549.3,325.7 551.1,325.6 552.9,325.7 554.7,325.8 556.5,325.9 557.6,324.7 558.7,323.4 559.6,322.0 560.4,320.5 561.3,318.9 562.7,320.4 563.8,321.7 564.8,323.1 565.9,324.6 566.8,326.8 567.7,329.5 565.9,331.5 564.8,332.2 565.4,333.5 565.9,335.4 566.3,337.4 566.2,339.5M572.2,312.5 573.8,311.7 575.4,311.8 577.0,311.9 578.8,312.0 580.6,312.2 582.1,313.8 583.8,315.6 586.7,316.3M586.7,317.8 587.3,319.9 587.9,322.1 588.6,324.1 589.4,326.0 590.2,328.0 591.9,328.6 593.5,329.2 595.1,329.7 596.7,330.2 598.3,330.6 599.8,330.9 599.8,332.7 599.9,334.5 600.0,336.4 600.1,338.2 600.1,340.1 599.3,341.6 598.5,343.0 597.7,344.5 597.0,346.0 596.2,347.4 595.3,348.9 594.5,350.2 592.9,352.0 591.0,350.6 589.9,349.4 588.7,348.3 587.6,347.1 586.4,346.0 585.1,345.0 583.9,343.9 583.1,342.8 580.7,344.0 579.1,343.9 577.4,343.7 575.9,343.7 574.3,342.8 572.6,341.9 570.9,341.1 569.8,339.5M583.1,342.4 582.6,344.0 582.7,345.6 582.7,347.2 582.5,348.8 582.3,350.5 582.0,352.1 582.0,353.7 582.0,355.3 583.1,356.9M522.7,348.2 524.0,346.8 525.7,346.5 527.1,346.4 527.6,344.7 528.2,342.8 528.8,340.9 530.6,340.1 532.3,339.2 534.4,339.3 536.4,339.5 538.4,339.9 540.3,339.7 542.4,339.6 544.4,339.5 546.4,339.6 548.4,339.7 550.5,339.5M522.7,332.2 523.3,333.9 523.0,335.6 522.9,337.3 522.9,338.9 523.1,340.6 523.3,342.2 523.7,343.8 523.3,346.0 522.7,348.2M555.3,356.9 556.9,354.1 557.0,351.2 558.1,350.2 559.3,349.0 560.7,347.4 560.0,345.4 558.9,343.9M565.0,356.9 565.4,354.7 565.9,352.4 567.0,350.8 567.9,349.4 567.6,347.7 567.5,345.8 567.6,344.3 566.6,343.5 566.2,341.5M587.9,304.7 589.5,304.1 591.1,304.2 592.8,304.2 594.4,304.1 596.0,304.0 597.4,304.0 598.8,303.4 600.4,302.8 602.0,302.3 603.5,301.6 605.0,300.8 606.5,300.0 607.9,299.1 609.4,298.3 611.2,297.4 613.0,296.6 614.8,295.9 616.3,295.5 616.5,293.9 616.9,292.0 617.3,290.0 617.7,288.6 616.5,288.9 614.8,288.8 613.0,288.7 611.3,288.5 609.0,288.0 608.5,285.6 608.7,283.5M608.5,280.1 607.2,282.7M568.6,258.9 570.1,257.0 570.7,255.2 571.0,253.4M571.0,248.7 572.6,248.1 574.2,247.8 575.9,247.5 577.5,247.4 579.1,247.1 580.7,246.8 582.3,246.4 583.8,246.1 585.5,245.9 587.2,245.8 588.9,245.8 590.6,245.9 592.2,246.1 591.4,244.2 590.6,242.3 591.4,239.6 592.6,238.9 591.4,237.4 590.3,236.1 589.1,234.8M577.8,257.1 579.0,258.3 580.3,259.3 581.7,260.2 583.1,261.2 584.4,262.3 585.6,263.6 586.8,264.8 588.1,266.0 589.3,267.1 590.7,268.2 592.0,269.3 593.9,269.7 595.7,270.1 597.6,270.4 598.9,270.8 598.8,269.3 600.0,267.6M600.0,267.0 600.4,264.0 600.5,262.3 600.5,259.9 598.8,258.4 597.3,257.3 595.8,256.3 594.5,255.6 595.0,253.5 595.4,251.0 594.1,249.5 592.7,248.1 592.3,246.1M570.8,259.2 573.2,260.1 574.9,260.4 576.5,260.7 578.8,260.8 578.9,258.6 578.6,257.6 579.7,257.2 581.1,256.3 582.5,255.4 584.0,254.3 584.6,252.2 585.1,250.3 585.8,248.4 586.2,246.4M568.3,268.4 571.0,269.3 572.1,268.0 573.2,266.7 575.5,265.7 574.5,264.4 573.5,262.7 575.2,262.2 576.9,261.7 578.2,260.3M592.3,238.9 594.7,239.4 596.7,240.4 598.5,240.7 600.2,241.3 601.9,242.4M584.5,233.4 586.2,233.5 587.6,234.2 589.1,234.9 591.0,234.8 592.7,234.7 594.5,234.9 596.3,235.1 596.6,232.2 599.2,232.0 601.5,232.8M584.3,229.9 586.1,230.4 587.9,230.2 589.7,230.0 591.7,229.7 593.7,230.6 595.1,231.4 596.4,230.0 598.8,229.3M631.4,247.9 630.9,249.6 630.5,251.4 630.1,253.2 629.6,254.9 629.2,256.9 629.4,259.0 629.8,260.9 630.4,263.4 632.3,263.9 633.0,264.8 634.2,265.9 635.5,267.0 636.8,268.4 636.4,270.5 635.8,272.2 635.1,273.9 634.3,275.6 633.4,277.2 632.5,278.9 632.9,280.9M655.6,248.2 655.4,250.0 655.6,251.9 655.9,253.7 656.3,255.1 654.8,255.7 653.0,256.6 652.4,258.3 651.8,259.8 651.1,261.2 649.8,262.2 648.4,263.3 647.0,264.5 645.7,265.7 644.5,266.8 643.0,267.0 641.4,267.2 639.8,267.5 638.2,267.8 636.6,268.3 635.0,268.7M631.4,247.9 633.5,248.4 635.2,247.8 637.0,247.2 638.8,246.7 640.5,246.5 642.3,246.3 644.1,246.4 646.0,246.4 647.8,246.3 649.5,245.6 651.3,245.0 653.2,244.5 655.2,245.4 656.9,246.3 658.6,246.6 660.4,246.8 662.2,246.9 664.0,246.7M664.0,246.7 663.7,248.4 663.8,250.0 664.1,251.6 664.4,253.3 664.7,254.9 664.9,256.5 665.1,258.1 665.2,259.7 664.5,261.9 663.8,264.0 662.5,265.1 661.3,266.3 660.1,267.5 658.9,268.8 657.8,270.1 656.7,271.4 655.6,272.8 654.9,274.3 654.2,275.8 653.5,277.2 654.1,279.2 654.7,281.6 652.9,282.9 651.2,284.1 649.5,285.3M662.8,249.6 664.5,249.7 666.1,250.0 667.7,250.2 669.3,250.4 670.9,250.6 672.7,250.9 673.3,252.7 673.9,254.4 674.4,256.2 674.9,257.9 675.3,259.6 676.3,260.8 677.3,262.1 678.4,263.3 679.4,264.6 680.3,265.8 681.6,266.9 682.9,268.0 684.3,269.2 685.6,270.2 687.1,271.2 688.7,271.5 690.4,271.8 692.0,272.1 693.7,272.5 695.3,273.1 696.7,273.6 698.2,273.6 699.9,273.6 701.5,273.7 703.1,273.7 704.7,273.6 706.4,273.5 707.8,272.7 709.2,271.9 710.7,271.3 712.2,270.7 713.6,270.1 715.0,270.8 716.4,271.5 718.0,272.0 719.6,272.2M696.7,274.2 697.0,276.0 697.0,277.8 699.0,279.0 701.0,278.8 702.8,278.5 704.6,278.1 706.0,277.6 706.5,279.4 707.2,281.5 707.0,283.3 706.8,285.2 705.4,286.3 704.0,287.5 702.5,288.5 700.9,289.6 699.1,290.2M706.8,285.3 709.2,287.2 710.3,285.9 711.3,284.5 712.2,282.6 713.0,280.6 713.8,278.7 715.0,277.7 716.3,276.7 717.6,275.8 719.0,274.7 719.6,272.2M719.6,272.2 720.0,273.8 720.6,275.4 721.1,276.9 721.5,278.5 722.0,280.0 721.2,281.5 720.5,283.0 719.9,284.4 721.2,285.6 722.5,286.9 723.8,288.3 724.9,289.6 726.3,290.0 727.8,290.6 729.0,291.3 730.2,288.5 732.0,288.1 733.7,287.8 735.3,287.5 737.4,287.8 739.4,288.2 741.5,288.5 743.3,290.0 745.0,291.6M724.5,290.2 724.9,291.8 725.6,293.4 726.2,294.8 727.3,297.5 726.6,299.4 726.1,302.2 728.7,302.7 730.4,302.6 731.9,303.1 733.5,303.5 734.9,303.8 735.7,305.1 736.5,306.5 737.4,308.0 738.2,309.3 738.1,311.2 738.3,312.8 737.0,312.2 735.0,311.9 732.3,311.9 731.4,314.5 731.0,316.5 731.7,318.6M719.6,284.4 721.2,286.0 721.7,288.1 722.2,290.1 723.2,291.3 724.4,292.5 725.6,293.5 726.8,294.5 725.1,296.0 723.3,297.5 722.5,299.0 721.7,300.4 720.9,301.8 720.2,304.0 719.6,306.1M729.3,291.6 730.1,293.1 731.0,294.5 731.7,295.9 733.6,295.4 735.2,294.8 735.4,296.9 735.9,299.2 737.2,300.8 738.4,302.3 739.6,303.7 740.2,305.0 740.9,306.5 741.7,307.9 742.6,309.3 743.5,310.6 743.7,312.4 744.0,314.4 744.1,316.4 743.3,318.4 742.5,320.3 741.6,322.3 739.7,323.1 737.8,323.6M727.1,335.1 729.2,337.5 730.5,336.0M604.8,220.6 602.8,220.4 601.5,219.2 600.5,217.8 599.2,216.3 599.9,213.4 598.4,212.7 596.9,211.9 596.4,213.4 597.4,211.5 598.4,209.6 599.5,208.4 600.7,208.6 602.4,208.3 604.1,207.9 605.7,207.3 607.3,206.7 608.9,206.4 610.5,206.3 612.1,206.3 613.7,206.3 615.3,206.2 616.9,206.2 618.9,206.0 620.9,205.9 623.0,205.7 624.6,205.4 626.3,205.1 628.0,204.8 629.7,204.5 630.1,204.8 629.5,204.4 629.6,202.6 629.9,200.9 630.4,199.1 631.1,197.1 633.0,197.3 634.7,197.6 636.4,197.8 638.1,197.7 639.7,197.4 641.2,196.9 642.9,196.2 644.5,195.6 646.2,194.8 647.9,194.1 649.5,193.3 651.2,192.7 653.5,192.5 655.7,193.4 657.5,194.1 659.3,194.8 660.8,195.6 662.2,195.8 664.0,196.1 665.9,196.3 667.9,196.6 669.6,197.9 671.0,199.2 672.4,200.5 673.5,202.0 674.7,203.6 675.9,205.0 677.2,206.4 679.1,207.9 681.4,207.8 683.0,207.5 684.2,207.1 685.4,207.7 686.9,208.4 688.3,209.3 689.6,210.1 691.3,210.2 693.0,210.4 694.2,211.9M694.2,211.9 692.9,213.2 691.4,214.4 689.9,215.6 688.9,216.7 687.8,216.6 686.2,216.6 683.8,216.9 683.1,219.6 683.0,221.6 681.3,222.3 679.4,223.1 677.6,223.7 677.7,225.3 677.6,227.1 677.4,228.9 677.2,230.7 675.8,231.3 674.3,232.0 673.0,232.8 671.6,233.7 670.3,234.7 669.0,235.7 667.7,236.6 666.3,237.5 664.8,238.3 663.3,239.1 661.9,239.5 662.4,240.9 662.9,242.5 663.4,244.0 664.0,245.5 665.2,246.7M618.1,223.5 617.9,225.3 618.2,227.1 618.4,228.9 618.5,230.7 618.6,232.5 619.2,234.7 621.2,233.4 622.7,232.2 624.2,231.0 625.7,231.4 627.3,231.9 628.9,232.4 630.0,233.5 631.2,234.7 632.3,236.4 633.5,238.1 634.6,239.9 636.1,241.1 637.5,242.3 639.0,243.5 640.6,244.6 642.5,245.6 644.7,245.8M611.6,234.5 612.0,236.2 612.8,237.7 613.5,239.3 614.1,240.9 614.7,242.5 615.4,244.1 615.8,245.5 617.5,244.6 619.5,243.8 621.7,243.0 623.6,243.5 625.2,244.0 627.0,244.6 628.9,246.1 630.6,247.2 631.4,247.9M618.1,223.5 620.1,222.8 622.1,222.3 624.2,221.8 626.0,222.7 627.8,223.5 629.6,224.2 631.5,224.9 631.6,227.7 633.0,227.4 634.6,227.3 636.2,227.2 637.9,227.2 639.5,227.2 641.4,227.3 642.6,228.9 643.6,230.4 644.5,231.9 645.4,233.4 646.0,234.8 648.3,235.0 650.8,233.7 652.5,232.9 654.2,232.1 655.8,231.2 657.5,230.9 659.3,230.5 661.1,230.0 662.8,229.6 665.2,230.3 667.1,230.3 668.9,230.2 670.7,230.3 672.5,230.3 674.0,230.6 675.6,230.9 677.3,230.8M647.9,246.4 648.7,244.5 648.9,242.5 649.7,241.2 650.5,239.8 651.2,238.4 653.0,237.1 654.5,235.8 655.6,236.4 657.1,237.1 658.7,237.7 660.2,238.2 661.6,239.4M696.2,211.3 697.9,210.7 699.7,210.3 701.5,210.0 703.5,210.3 705.3,209.9 706.6,209.3 707.9,209.3 709.6,209.2 711.4,209.2 713.1,209.2 714.9,209.3 716.6,209.4 718.5,209.2 719.8,207.4 720.9,205.6 722.1,203.9 723.7,204.1 725.4,204.3 727.1,204.3 728.8,204.3 730.6,204.1 732.4,204.3 734.2,204.6 735.9,204.9 737.5,205.4 739.1,206.0 740.8,206.7 742.4,207.6 743.7,209.0 745.1,209.9 746.6,210.0 748.2,210.2 749.8,210.2 751.4,210.2 753.1,210.0 754.6,209.9 756.4,209.6 758.2,209.3 760.0,209.0 761.8,208.8 763.6,208.6 765.5,209.6M694.2,211.9 696.5,211.6 698.3,212.3 700.0,213.4 701.8,214.5 702.5,216.7 703.1,218.7 703.8,220.7 705.1,221.9 706.4,223.0 707.7,224.0 709.1,225.0 710.5,225.9 711.9,226.8 713.4,227.8 714.7,228.7 716.0,229.8 717.7,230.1 719.3,230.5 721.0,230.8 722.7,231.1 724.4,231.3 726.1,231.4 727.7,231.5 729.4,231.7 731.1,232.0 732.8,232.3 734.4,232.6 736.1,232.9 737.7,233.1 739.4,232.7 741.1,232.2 742.8,231.7 744.5,231.2 746.3,230.8 748.0,230.4 749.6,230.2 750.7,229.0 751.9,227.7 753.0,226.4 753.9,225.0 754.8,223.6 756.3,222.8 757.9,222.0 759.5,221.4 761.2,220.8 762.9,220.2 764.5,219.6 766.2,218.6 767.7,217.4 769.2,216.2 771.0,215.9 772.3,216.0 771.1,215.6 770.0,214.3 769.0,212.9 768.0,211.6 767.0,210.4 768.0,209.4 769.2,208.3 770.1,206.9 771.1,205.6 772.1,204.4 773.1,203.1 774.0,201.8 775.8,201.0 777.6,200.2 779.5,199.6 781.2,199.1 782.0,200.6 782.9,202.1 783.9,203.6 785.1,204.9 786.5,206.0 788.0,206.9 789.6,207.8 791.0,208.8 792.5,209.7 793.8,210.7 795.1,211.8 796.4,212.9 797.7,214.0 799.0,215.0 800.5,216.0 802.3,215.5 804.0,215.1 805.7,214.7 807.4,214.3 809.0,214.0 808.4,215.5 807.8,217.1 807.2,218.7 806.7,220.3 806.3,222.0 805.8,223.7 805.0,225.3 804.2,226.9 803.4,228.4 802.5,229.9 801.4,231.5 799.6,231.3M784.9,238.6 786.1,237.5 787.2,236.2 788.3,234.9 789.9,233.8 791.5,232.7 793.1,231.8 795.1,231.2 797.0,230.8 799.6,231.3M789.7,244.4 791.0,243.0 792.5,242.1 794.5,242.4M561.3,219.2 561.2,217.2 562.2,215.8 563.4,214.2 565.4,214.3 567.0,214.4 568.6,214.5 570.4,214.6 572.2,214.8 574.0,215.0 575.8,215.2 577.4,215.1 579.1,215.0 580.6,214.8 580.3,212.6 579.9,210.7 577.8,210.2 575.7,209.6 573.5,209.8 571.5,209.3 568.8,208.3 568.7,205.4 568.9,203.8 568.0,203.7 566.5,203.2 565.0,202.6 562.9,202.6 560.8,202.7 559.0,202.8 557.3,202.9 555.5,203.1 554.0,203.2 552.6,202.8 550.9,202.5 549.2,202.3 547.5,202.3 545.5,202.3 543.1,203.0 541.0,204.7M541.0,204.7 543.1,207.7 540.7,209.5 539.2,210.6 539.4,212.6 539.6,214.9 538.4,214.2M539.3,214.8 541.3,215.2 543.2,215.1 544.8,214.7 546.5,214.4 548.0,214.2 550.0,214.7 552.0,215.1 552.9,216.4 554.0,217.8 555.7,219.4 554.0,220.8 552.1,222.1M539.3,214.8 537.5,214.0 535.6,213.5 533.7,213.1 532.3,212.2 530.8,211.4 529.4,210.4 528.0,211.2 526.5,211.9 524.9,212.6 524.8,214.2M538.4,214.2 538.0,216.0 536.8,217.2 535.6,218.5 534.6,219.8 532.7,219.8 531.0,219.9 529.4,220.1 526.5,220.1 524.3,218.5 523.1,218.5 523.4,217.1 523.6,215.4 524.8,214.2M552.1,222.1 552.0,224.3 552.5,226.1 551.1,226.0 549.2,226.1 547.6,226.4 546.0,226.7 544.4,227.1 542.5,226.6 540.6,226.2 538.7,225.7 538.3,224.1 535.9,223.7 534.8,221.8 532.8,220.3M538.6,225.8 539.4,227.5 539.8,229.3 538.5,231.6 539.6,233.9 541.4,233.7 543.2,233.5 545.0,233.3 546.9,233.2 548.8,232.9 550.8,232.8 551.7,232.2M538.4,231.6 536.0,231.7 533.7,232.0 531.4,232.2 532.9,230.1 530.9,227.7 530.9,225.8 530.8,223.6 528.5,223.5 526.3,223.3 524.2,223.3 521.8,223.2 522.4,220.7 523.9,219.2M534.8,234.2 535.0,235.9 536.5,235.0 538.4,234.2 540.0,233.7 541.5,233.3 543.1,232.8 545.4,232.7 547.9,232.9 546.8,236.0M524.8,214.2 523.6,212.9 522.0,212.3 520.2,211.6 517.8,212.8 515.3,213.2 515.3,216.2 513.6,216.0 511.8,216.0 510.0,215.9 508.1,215.9 506.9,216.6 505.4,216.5 503.7,216.5 502.3,216.4 501.4,217.7 500.2,219.1 499.2,219.7 501.5,220.8 501.6,223.5 501.5,225.6 502.1,227.0M515.4,216.2 517.0,217.3 517.4,218.2 520.1,217.8 522.7,218.6M513.0,225.0 513.7,223.1 515.4,222.2 517.1,221.5M529.4,210.5 527.3,209.4 525.4,209.1 523.6,208.3 521.8,207.6 519.7,206.5 518.9,203.4 517.7,200.5 517.8,197.4M520.2,206.1 518.1,204.7 516.5,205.2 514.6,205.8 512.4,207.6 513.3,210.2 513.6,212.4 515.6,212.9 517.4,212.8M513.5,208.1 511.5,207.0 509.1,207.1 507.7,209.1 506.3,210.7 504.9,212.4 504.6,212.8 504.0,214.5 502.1,216.0M503.8,212.2 501.8,211.6 499.8,211.1 498.2,210.1 496.6,209.3 495.0,208.7 493.4,208.0 491.5,207.6 490.3,206.1M498.5,206.7 497.1,202.9 499.7,202.0 500.9,199.4M505.0,195.1 507.7,194.8M531.1,196.2 532.7,196.2 534.4,196.1 536.0,195.9 537.6,195.9 539.2,196.0 541.2,196.5 541.0,198.8 540.6,200.7 540.3,202.7 541.0,204.7M540.8,196.8 543.3,197.1 545.0,197.1 546.9,196.9 547.8,195.4 548.7,193.9 549.5,192.5 552.0,191.6 552.1,189.3 552.1,187.1 550.9,185.6 551.0,183.6 550.5,181.5M534.8,191.3 536.5,189.9 538.3,189.7 540.1,189.7 542.1,189.9 544.1,191.1 545.9,192.4 548.0,192.5M550.5,185.8 549.0,188.0 546.9,188.4 545.1,188.3 543.5,188.2 542.0,186.1M479.9,228.1 481.8,229.4 484.0,230.1 486.0,230.0 487.9,229.9 489.9,229.8 491.7,231.0M462.5,232.2 464.7,232.6 466.5,232.6 468.2,232.5 467.6,235.2 467.9,237.3 468.1,239.7 467.0,242.4 468.2,243.7 466.1,246.1M598.4,225.7 599.6,224.2 600.7,222.7 602.0,221.3 603.0,220.1 604.3,219.7 606.0,219.2 607.3,218.8 608.7,219.0 610.4,219.0 611.7,218.7 612.3,220.1 613.0,221.7 613.5,223.6 611.3,224.2 609.3,224.6 607.4,225.0 608.0,227.1 608.7,229.2 610.2,230.4 611.9,231.9 612.4,234.3 612.7,236.4 613.3,237.8 613.8,239.4 614.1,241.0 613.6,242.5 613.3,244.1 613.4,245.3 612.2,245.7 610.6,246.5 609.0,247.3 607.2,247.9 605.5,247.1 604.0,246.2 602.4,245.2 602.1,242.4 602.5,240.7 602.9,239.1 603.4,237.4 602.7,235.9 602.1,234.3 601.4,232.6 600.2,230.9 599.0,229.2 598.3,227.1 597.6,225.0M625.3,220.1 627.1,219.8 628.9,219.5 630.7,219.1 632.9,218.8 632.8,221.0 632.6,222.9 632.3,224.7 631.8,227.0 629.2,226.6 627.2,226.2 624.7,225.5 624.3,222.8 624.3,220.6M734.6,203.0 736.7,203.0 738.8,203.0 740.7,202.7 742.5,202.0 744.2,201.2 746.1,200.0 747.1,198.2 747.9,196.6 748.7,195.1 749.5,192.9 747.3,191.7 746.3,193.4 745.7,195.0 745.1,196.6 744.4,198.1 743.5,199.7 741.9,201.2 740.3,202.6 738.7,203.9 736.3,205.7M662.7,218.4 664.5,218.0 666.3,217.6 668.1,217.4 670.2,217.2 672.0,217.9 673.5,218.7 675.2,219.8 673.1,220.2 671.2,220.4 669.4,220.8 667.7,221.4 666.0,220.9 664.2,220.3 662.5,219.8M800.1,255.3 801.1,253.9 802.2,252.6 803.2,251.4 804.8,251.7 806.6,251.9 808.3,251.9 809.9,251.9 812.0,251.5 813.3,249.1 814.3,247.0 815.2,245.4 816.9,244.5 818.6,243.6 819.7,242.3 821.0,241.1 821.7,238.9 822.5,236.6 823.7,234.5 825.7,234.9 825.9,236.3 826.4,237.9 826.8,239.4 826.3,241.1 825.8,242.9 825.3,244.8 824.8,246.7 824.7,248.5 824.5,250.3 822.5,252.8 820.0,253.5 818.4,253.8 816.8,254.0 815.4,254.1 814.3,255.4 812.6,257.0 810.0,255.0 808.4,255.2 806.8,255.6 805.1,256.2 803.1,256.8 800.2,256.5M798.2,256.2 800.0,256.1 802.4,256.2 803.0,258.9 803.3,261.3 802.2,263.1 800.7,264.8 798.1,263.7 797.6,261.2 797.2,258.9 798.0,256.8M804.6,258.5 806.4,257.7 808.1,256.8 808.9,255.5 808.2,257.1 806.9,257.9 805.4,258.8 804.1,257.8M822.1,233.1 824.7,232.4 826.7,232.3 828.8,232.2 830.7,232.0 832.2,230.7 833.8,229.4 835.1,228.4 834.0,226.8 832.7,226.0 831.2,225.1 829.8,224.2 828.4,223.3 827.4,222.3 826.2,225.0 826.2,226.7 826.1,228.6 823.2,228.9 823.2,230.4 823.1,232.1 823.1,233.8M826.9,220.0 828.8,219.4 830.6,219.0 830.5,217.4 830.2,215.5 829.8,213.8 829.4,211.5 831.0,210.6 830.2,209.9 828.6,208.6 827.6,206.4 827.9,204.1 828.2,202.4 828.8,200.8 829.7,199.7 829.1,198.3 828.4,196.6 828.1,198.1 827.8,199.8 827.8,201.4 828.0,203.0 828.2,204.7 828.4,206.4 828.5,208.1 828.0,209.8 827.9,211.4 827.7,213.1 827.5,214.8 827.4,216.7 827.1,218.7 826.9,220.6M836.8,227.0 839.2,226.9 840.9,225.8 842.7,224.4 844.3,223.0 846.0,221.8 847.6,220.5 848.6,219.2 849.7,217.8 850.8,216.5 851.9,215.4 853.2,214.3 854.5,213.4 855.9,212.5 857.4,211.7 858.9,210.7 860.2,209.6 861.7,208.7 862.2,206.7M774.0,287.2 774.7,285.7 775.4,284.1 775.9,282.5 776.4,280.9 779.0,281.4 778.6,283.8 778.1,286.0 777.4,288.3 776.2,290.8 774.5,289.1 773.7,287.6M746.3,298.1 747.9,297.3 749.4,296.4 751.1,295.5 752.6,297.2 751.4,298.8 750.2,300.2 748.7,301.6 746.3,300.4 746.6,298.3M789.0,255.8 791.3,256.2 790.0,258.4 788.6,257.3M774.0,300.6 775.9,300.5 777.7,300.4 779.6,300.3 779.3,302.5 779.1,304.8 778.5,306.9 777.9,309.1 778.4,311.2 778.9,313.4 780.4,314.0 782.0,314.5 783.5,314.9 783.6,317.3 781.3,316.2 779.5,315.1 777.7,313.9 775.6,312.4 775.2,310.8 774.7,309.2 774.2,307.6 774.6,305.5 775.0,303.2 773.9,300.4M778.2,332.9 780.2,331.7 782.1,330.4 783.3,329.2 784.5,328.0 785.7,326.7 787.4,325.2 788.7,327.2 789.6,328.8 790.4,330.7 789.9,332.5 789.4,334.1 788.8,335.6 786.7,337.2 785.7,335.8 784.1,334.4 782.2,334.0 780.6,333.8 778.8,333.7M784.6,317.2 786.0,318.1 787.5,319.1 787.4,322.1 786.5,323.6 785.7,324.9 785.6,322.8 785.6,320.5 785.4,317.6M779.4,319.2 780.6,320.4 781.9,322.1 780.2,323.9 778.8,323.0 779.3,319.8M780.5,324.6 781.3,323.5 781.3,324.8 781.5,327.2 779.3,326.7 779.0,323.6M781.5,322.1 783.0,323.6 782.4,325.8 782.7,323.8 782.8,321.5M766.9,329.4 767.9,327.9 768.8,326.4 769.7,324.9 770.6,323.4 771.6,321.9 774.0,321.4 772.3,324.0 771.1,325.5 769.8,326.9 768.5,328.2 767.2,329.6M775.1,314.4 778.2,315.5 776.9,319.5 774.7,317.1 773.9,315.2M747.4,354.0 747.6,352.2 748.2,350.5 748.6,348.8 750.5,349.1 752.2,349.5 753.2,348.2 754.4,346.9 755.6,345.7 756.9,344.5 758.5,343.4 760.2,342.2 761.8,341.0 763.4,339.8 764.3,338.3 765.1,336.8 765.6,335.5 767.8,336.0 769.0,337.1 770.3,338.3 771.6,339.5 769.2,341.6 769.1,343.6 768.9,345.6 768.7,347.6 770.2,349.3 771.7,351.1 770.0,352.8 768.0,354.0M748.6,348.8 751.0,349.0 752.5,350.2 753.8,350.2 755.4,350.2 757.0,350.2 758.9,350.0 760.7,349.7 761.7,347.8 762.7,345.9 763.7,343.9 762.6,340.9M768.7,341.5 766.4,341.4 763.9,341.6 762.6,343.3 761.8,344.8 760.9,346.3 760.7,349.6M714.1,337.8 715.9,338.1 717.8,338.5 719.6,338.9 720.7,340.2 721.7,341.5 722.7,342.8 723.6,344.2 724.5,345.5 725.5,346.9 727.3,348.0 729.2,348.9 730.5,350.1 732.0,351.2 733.4,352.2 734.1,354.0M714.1,337.8 714.2,340.8 715.5,342.1 716.7,343.3 717.8,344.7 718.8,346.1 719.8,347.5 720.7,349.0 721.5,350.5 722.4,352.0 723.2,353.5 724.0,354.0M774.0,352.6 775.7,351.5 777.5,351.4 779.4,351.3 781.2,351.1 783.0,350.7 784.8,350.3 786.6,349.3 785.7,350.9 784.7,352.3 782.8,352.2 780.8,352.2 778.8,352.3 777.1,352.6 775.5,353.0 774.0,353.7M791.4,349.1 792.7,351.5 794.0,352.4 793.1,352.8 792.7,350.9 792.2,348.8M677.1,335.1 677.0,333.0 676.9,330.8 677.1,329.0 677.3,327.3 677.8,325.4 679.3,327.4 680.5,329.3 680.9,331.1 681.4,332.8 680.6,334.3 680.0,335.7 678.1,336.4 677.1,335.1M708.0,319.2 709.1,317.1 709.0,315.1 708.4,316.8 708.3,318.7 708.3,320.6M710.0,333.1 710.7,330.2M735.3,350.2 734.9,350.5M809.0,332.2 809.3,332.8M833.7,315.1 834.2,314.6M836.1,309.9 836.4,309.6M817.5,326.4 818.0,326.2M850.9,332.5 851.1,332.2M866.3,334.0 866.6,334.0M877.9,338.6 878.2,338.6M897.7,333.4 898.2,333.4M107.4,295.6 109.5,296.6 108.3,299.2 106.6,297.6 106.7,295.3M104.5,293.0 106.8,293.3 105.8,294.2 104.4,292.6M101.7,291.6 102.9,292.2M98.1,289.6 99.0,290.2M96.1,193.1 94.9,193.6M58.7,355.4 58.7,353.4M262.9,354.0 264.1,354.9M116.3,185.8 115.9,187.7 113.0,188.3 110.7,187.2 112.6,186.4 114.3,185.3 115.3,186.1"/><path fill="none" stroke="#000" stroke-width="2.6" stroke-linejoin="round" stroke-linecap="round" d="M143.2,151.9 141.5,152.6 139.9,152.8 138.2,152.9 136.6,152.7 135.0,152.2 133.5,151.5 131.7,150.9 130.0,150.5 128.1,150.2 126.3,150.1 124.7,150.1 123.0,150.2 121.3,150.5 119.6,150.9 117.9,151.6 116.1,152.4 114.3,152.6 112.5,152.3 110.7,152.1 108.9,151.9 107.1,151.6 106.3,151.4 105.3,151.3 103.2,152.0 101.0,152.5 99.3,152.9 97.5,153.4 95.8,153.7 94.3,154.0 92.7,154.4 91.1,154.6 89.2,154.8 87.2,154.9 85.1,154.9 83.7,154.3 84.7,154.9 86.2,156.1 87.9,157.1 89.2,158.2 90.6,159.8 88.7,160.9 87.1,161.4 85.4,161.8 83.5,162.1 81.5,162.3 79.6,162.5 76.9,163.6 78.9,165.9 80.4,167.0 82.4,168.0 84.4,168.0 86.0,168.0 87.6,168.1 89.5,168.3 91.3,168.5 93.1,168.7 93.5,167.9 93.7,169.2 93.1,169.4 91.5,170.4 90.0,171.4 88.3,172.1 87.4,172.2 86.9,173.8 85.5,175.9 83.1,177.2 84.8,177.5 86.6,178.0 88.7,178.3 90.7,178.6 93.2,179.6 93.0,182.6 94.1,182.8 95.7,183.3 97.3,183.6 98.9,183.8 100.5,184.0 102.1,184.1 104.3,184.5 103.0,185.4 101.7,186.7 100.3,188.0 99.0,189.2 97.6,190.5 96.1,191.3 94.5,192.0 92.9,192.6 91.2,193.1 89.7,193.7 87.8,194.1 86.5,196.0M143.2,151.9 143.9,153.5 142.3,155.1 141.1,156.7 140.2,158.3 140.0,159.9 140.2,161.5 140.9,163.1 141.8,164.7 142.5,166.3 142.9,167.9 143.0,169.5 143.1,171.1 143.2,172.7 143.4,174.3 143.5,175.9 143.4,177.5 143.2,179.1M289.8,143.6 291.8,142.6 293.7,141.7 295.7,140.9 297.6,140.3 299.4,139.8 301.6,139.6 303.6,140.1 305.0,140.9 306.2,142.2 307.2,143.9 308.1,145.4 309.6,146.5 311.4,146.9 313.4,146.8 315.6,146.5 317.8,146.7 319.6,147.0 322.1,148.3 323.4,150.8 323.8,152.5 323.6,153.8 324.2,155.1 325.2,156.8 326.2,158.4 327.2,159.9 328.6,161.4 330.3,162.2 332.0,162.7 332.5,161.2 332.1,161.3 330.9,163.0 329.7,164.5 328.9,166.1 327.8,167.7 326.8,168.4 327.8,169.1 329.5,171.6 327.5,174.2 324.9,175.3 322.4,176.6 320.8,176.4 319.1,175.8 317.3,174.8 315.6,173.8 314.0,172.7 312.3,171.4 311.6,169.7 310.8,168.1 309.4,166.4 307.0,166.2 304.9,166.5 302.7,167.1 300.9,167.9 299.1,168.7 297.3,169.3 292.7,167.7 294.5,162.0 298.1,160.4 299.8,160.2 301.5,160.1 303.2,160.0 303.2,160.4 303.2,159.9 304.1,160.2 304.8,159.0 304.9,159.1 303.6,157.6 302.3,156.3 300.7,155.3 298.9,154.5 297.0,154.0 295.2,153.5 293.6,153.3 291.8,152.8 290.0,152.0 288.3,151.0 286.5,150.2 284.8,149.6 283.0,149.2 281.2,148.9 279.7,148.4 278.2,148.0 276.6,147.7 274.9,147.6 273.2,147.8 272.0,148.3 270.0,147.5 267.7,146.7 268.5,145.0 269.5,143.6 271.0,142.4 273.1,142.4 275.2,142.7 277.2,142.9 278.9,143.0 280.4,143.4 282.2,143.7 283.9,143.9 285.7,144.0 287.4,143.7 289.1,143.2 290.8,142.5M199.1,146.5 200.7,146.1 202.2,144.7 203.8,143.7 205.3,143.0 206.9,142.4 208.5,141.8 210.1,141.5 211.7,141.2 213.4,141.0 215.0,141.0 216.6,141.0 218.2,141.1 219.8,141.3 221.4,141.4 223.1,141.7 224.7,142.8 226.1,144.3 227.4,146.0 228.7,147.7 229.5,148.9 230.5,149.7 232.0,150.8 233.9,151.4 234.5,150.0 234.6,148.8 233.7,150.1 232.5,151.3 231.9,152.1 230.7,152.1 228.9,152.4 227.1,152.7 225.5,153.1 224.0,153.2 222.3,153.3 220.6,153.5 218.9,153.7 217.3,153.8 215.7,153.5 213.9,153.2 212.1,152.8 210.3,152.6 208.6,152.6 206.9,152.2 205.0,151.9 203.1,151.6 201.1,151.3 199.1,150.0 196.6,148.5 196.3,145.8 195.8,143.7 195.2,141.5M182.2,142.2 183.8,141.0 185.5,140.1 187.2,139.6 188.9,139.5 190.6,139.6 192.4,139.5 193.9,139.2 195.4,139.2 197.1,139.3 198.9,139.3 200.6,139.4 202.3,139.6 204.6,140.8 202.7,142.6 201.1,143.5 199.2,144.2 197.3,144.8 195.7,144.9 194.6,143.9 193.0,143.2 191.3,142.8 189.7,142.9 188.1,143.0 187.3,143.5 185.8,143.4 183.6,143.1 182.6,143.8 182.7,143.9 182.5,142.2 182.6,140.6 183.2,139.1M266.2,134.2 267.9,133.9 269.7,133.5 271.4,133.1 273.2,132.6 274.9,132.0 276.7,131.4 278.4,131.0 280.1,130.8 281.8,130.8 283.5,130.8 285.2,130.7 287.0,130.4 288.7,130.1 290.4,129.9 292.2,130.0 293.9,130.7 295.2,131.7 297.0,131.5 299.1,131.0 301.0,130.3 302.4,129.5 304.1,129.1 306.1,128.3 308.0,127.5 309.7,126.6 311.4,125.5 313.1,124.5 314.8,123.6 316.5,123.1 318.2,122.7 320.0,122.4 321.7,122.1 323.5,121.9 325.3,121.9 327.2,122.0 329.1,122.4 331.1,122.8 333.0,123.1 337.9,119.4 333.0,115.6 331.1,115.9 329.1,116.5 327.0,117.0 325.3,117.9 323.7,118.7 322.0,119.6 320.4,120.4 318.7,121.2 317.1,121.6 315.5,121.6 313.9,121.4 312.3,121.1 310.7,120.9 309.1,121.1 307.4,121.4 305.8,121.4 304.2,121.3 302.8,121.2 301.3,121.3 299.7,121.0 298.0,120.0 296.4,119.3 294.7,118.7 293.1,118.3 291.5,117.8 289.9,117.2 288.2,116.6 286.6,116.1 285.0,115.9 283.4,116.1 281.8,116.5 280.2,116.9 278.5,117.0 276.8,117.3 275.2,117.6 273.6,118.0 272.1,118.6 270.6,119.4 269.0,120.1 267.5,120.8 265.9,121.2 264.9,121.2 263.6,122.7 261.9,124.3 262.4,125.8 263.2,127.2 264.5,128.2 266.2,128.9 268.2,129.4M261.7,131.1 263.3,131.4 264.9,131.7 266.5,131.7 268.1,131.5 269.7,130.9 271.3,130.0 272.9,129.0 274.6,128.4 276.2,128.4 277.8,129.1 279.4,130.4 281.0,131.9 282.6,133.3 284.2,134.2 285.1,134.3 286.3,134.9 288.3,135.5 290.3,135.6 289.2,136.7 287.8,138.0 286.4,139.2 284.9,140.1 283.4,140.9 281.4,141.4 279.3,141.1 277.6,140.4 275.9,139.7 274.2,139.0 272.5,138.7 270.8,138.7 269.1,138.9 267.4,139.2 265.7,139.4 263.6,139.3 261.8,138.1 260.4,136.8 258.9,135.1 260.8,133.9 262.8,133.1M250.1,125.9 251.9,126.0 253.7,126.1 255.5,126.0 257.2,125.8 259.0,125.4 260.6,124.7 261.5,123.7 262.9,123.3 265.0,122.9 267.1,122.6 269.5,123.1 267.9,125.2 266.5,126.7 264.7,128.5 262.5,128.8 260.9,128.9 259.2,128.6 257.6,127.9 256.0,127.0 254.7,126.2 253.7,124.5 252.4,122.9 250.9,121.5M276.2,168.5 277.9,168.7 279.6,168.9 281.3,169.1 283.1,169.3 284.8,169.2 286.6,169.1 287.6,169.1 288.1,167.1 287.1,167.7 285.3,167.2 283.5,166.8 281.5,166.5 280.8,166.7 280.4,167.5 278.5,167.9 276.4,167.6 275.1,165.9 274.8,167.1 274.9,169.4M201.4,129.6 203.0,131.6 204.7,133.6 206.3,135.5 208.0,137.0 209.7,137.6 211.4,137.7 213.1,137.8 214.9,137.2 216.7,136.0 218.5,134.7 220.2,133.7 222.0,133.1 223.7,133.0 225.6,133.5 227.1,134.7 228.5,135.8 229.3,135.8 228.4,135.1 226.7,135.4 225.0,135.8 223.3,136.5 221.7,137.4 220.0,138.4 218.3,139.3 216.6,139.8 214.8,139.9 213.1,139.8 211.4,139.5 209.6,139.3 207.9,139.2 205.8,139.4 203.7,139.0 201.9,139.0 200.0,139.3 195.9,135.5 197.7,130.9M189.5,133.8 190.9,131.9 192.4,130.3 193.9,129.2 195.5,128.5 197.0,128.0 198.6,127.6 200.2,127.2 201.8,126.7 206.4,128.5 204.5,132.4 202.3,134.2 199.7,133.6 198.0,132.5 196.4,131.5 194.7,130.5 193.1,129.6 193.4,129.1 191.9,127.5M242.3,136.3 244.1,135.9 246.0,134.7 247.8,133.4 249.5,132.2 249.7,134.1 249.6,136.0 248.1,138.8 244.8,138.7 243.1,138.0 241.5,136.7 240.0,135.0 242.4,134.6 244.7,134.1M252.0,134.4 253.8,134.5 255.6,134.8 257.4,135.2 258.8,135.3 258.9,137.4 257.4,137.7 255.5,138.8 253.6,140.2 248.8,139.8 247.8,135.1M254.6,136.3 256.3,137.5 258.1,138.6 259.9,139.3 261.7,139.8 263.5,140.1 265.0,140.2 264.1,141.7 263.3,142.9 262.0,141.9 260.1,141.1 258.1,140.3 258.9,141.0 259.8,141.1 259.0,139.4 258.2,137.6M239.5,136.7 241.2,137.3 243.0,138.5 244.7,139.5 246.4,140.2 248.0,140.8 248.8,141.0 248.2,142.1 248.2,144.0 248.9,144.1 248.4,144.4 247.1,146.1 245.4,146.8 243.4,147.4 241.6,147.5 240.0,147.0 238.5,146.2 236.0,144.1 237.8,141.5 239.0,140.1M247.2,149.7 248.8,150.6 250.4,151.2 252.4,151.6 253.7,153.5 254.9,155.6 252.4,156.0 250.4,156.1 248.4,156.0 246.7,154.6 245.8,154.2 248.2,154.2M218.0,127.2 219.9,128.1 221.7,128.9 223.5,129.3 225.2,129.4 226.8,129.1 228.4,128.7 230.0,128.4 231.6,128.0 232.5,127.6 233.6,127.7 235.3,127.8 237.0,128.0 238.6,128.6 240.1,129.5 239.6,127.1 239.9,124.9 238.0,125.2 236.3,126.1 235.0,127.5 233.4,128.6 231.6,129.6 229.9,130.0 228.2,129.5 226.6,128.4 225.1,126.9 223.5,125.4 221.9,124.0 220.2,123.8 218.5,123.6M285.9,172.2 287.5,172.6 289.1,172.9 291.1,173.9 288.2,175.0 285.5,173.1M306.7,130.9 308.8,129.8 310.8,129.1 312.7,128.9 314.4,129.1 316.1,129.6 317.9,130.0 319.6,130.3 321.3,131.1 323.1,131.7 324.7,132.2 326.3,131.8 328.0,131.5 329.8,131.6 331.5,132.2 333.2,133.0 334.8,133.9 336.4,134.7 338.1,135.5 339.8,136.2 341.6,136.7 343.1,136.9 344.4,137.7 346.0,138.8 346.7,139.6 346.5,141.1 346.8,143.3 347.5,145.5 348.7,146.9 350.3,148.0 352.4,149.5 354.8,149.6 356.5,149.7 358.0,150.0 358.6,151.3 359.5,152.7 360.6,153.9 360.1,157.2 358.7,159.5 358.3,160.9 359.5,161.9 359.9,162.7 360.3,162.8 361.5,164.3 362.9,165.9 364.0,167.6 364.9,169.1 365.4,170.8 364.0,173.4 365.3,175.2 366.9,176.9 368.5,177.7 370.2,178.3 371.8,178.9 373.5,179.5 375.2,180.0 376.9,179.9 378.5,179.6 379.6,179.5 380.4,176.7 381.2,175.1 381.0,173.1 382.0,171.8 383.2,170.6 384.5,169.4 385.7,168.0 387.4,166.9 388.8,165.7 390.0,164.3 391.5,162.6 393.6,161.6 395.3,161.0 397.1,160.7 398.5,160.9 399.8,160.6 401.6,160.1 403.5,159.6 405.2,159.0 406.3,158.6 407.6,158.9 409.3,158.8 410.9,158.3 412.5,157.5 414.2,156.4 415.6,154.9 417.1,153.8 418.8,153.3 420.7,153.3 422.8,153.6 424.6,154.1 426.2,154.6 428.0,154.4 429.8,154.0 433.8,151.6 433.1,147.4 431.3,145.3 430.4,143.0 429.8,140.8 430.1,138.4 431.7,136.7 433.4,136.2 435.5,136.1 437.7,136.3 439.5,134.8 441.0,133.1 441.9,130.1 440.0,127.7 438.2,126.7 436.5,126.5 437.2,125.3 438.5,123.7 439.8,122.4 441.4,121.3 443.1,120.5 444.4,120.6 443.6,121.0 441.9,120.8 440.3,120.6 438.7,120.2 437.2,119.4 435.7,118.2 434.1,117.0 432.4,116.1 430.7,115.6 429.0,115.6 427.2,115.7 425.5,115.8 423.7,115.9 421.9,116.3 420.2,116.8 418.5,117.7 416.8,118.7 415.0,119.7 413.3,120.5 411.6,120.8 409.9,120.7 408.2,120.3 406.6,119.9 405.1,119.5 403.4,119.2 401.8,118.7 400.2,118.0 398.6,117.0 397.0,115.9 395.4,115.0 393.8,114.7 392.2,114.8 390.6,115.3 388.9,115.9 387.3,116.4 385.7,116.6 384.1,116.5 382.5,116.3 380.9,116.3 379.3,116.7 377.7,117.3 376.1,118.0 374.5,118.5 372.9,118.5 371.2,118.1 369.6,117.3 367.9,116.4 366.3,115.8 364.7,115.8 363.1,116.4 361.5,117.5 360.0,118.7 358.4,119.6 356.9,120.1 355.2,120.2 353.6,120.2 352.0,120.3 350.4,120.5 348.8,120.7 347.2,120.7 345.5,120.6 343.9,120.4 342.3,120.2 340.6,120.0 339.0,119.8 337.3,119.4 335.7,118.7 333.8,117.9 331.9,117.5 330.3,117.7 328.8,118.7 327.4,120.2 326.1,122.0 324.9,123.6 323.8,125.0 322.2,125.9 320.3,126.5 318.4,126.4 316.7,126.2 315.0,125.9 313.2,125.7 311.5,125.3 309.6,125.0 306.9,125.2M428.0,167.7 429.6,166.9 431.2,166.0 431.8,165.5 432.2,165.7 433.8,165.8 435.4,165.9 437.0,166.0 438.6,166.1 440.5,166.0 442.4,165.2 444.2,164.1 446.0,162.8 447.8,161.6 449.8,163.1 451.5,165.9 448.5,168.7 446.2,169.0 444.2,168.9 442.1,168.6 440.3,168.3 439.1,167.5 437.5,167.1 435.9,167.1 434.2,167.4 432.6,167.8 431.5,168.4 430.2,165.6 428.3,164.2 426.8,162.7M184.4,163.3 186.0,163.3 187.7,163.3 189.3,163.2 190.9,163.0 192.5,162.5 194.0,161.9 195.6,161.4 197.2,161.0 199.0,160.9 200.2,162.9 201.3,164.9 199.7,165.2 198.1,165.6 196.5,166.1 194.9,166.6 193.3,166.9 191.4,167.0 189.8,166.0 188.4,165.3 186.9,164.7 185.2,164.5 183.5,164.3M496.1,185.8 497.1,183.9 497.4,181.9 497.5,180.0 497.4,178.1 497.1,176.1 496.6,174.5 497.6,173.5 498.6,171.9 499.9,170.8 501.6,170.2 503.5,170.2 505.7,170.6 508.0,170.9 510.0,170.8 512.6,169.7 514.0,167.4 514.7,165.5 515.3,163.5 516.1,161.7 516.9,159.9 517.7,158.2 518.6,156.4 519.6,154.6 521.1,153.2 522.6,151.9 524.3,150.5 526.5,149.9 528.3,149.6 530.2,149.5 532.1,149.6 534.0,149.8 535.9,149.8 537.7,149.6 539.5,149.3 541.3,148.8 543.1,148.4 544.9,148.1 546.8,147.9 548.6,148.3 550.4,148.8 552.2,149.4 553.8,149.8 555.2,150.5 556.9,151.2 558.6,151.7 560.4,152.0 562.2,152.2 563.9,152.4 565.7,152.2 567.5,152.1 569.4,152.3 571.3,152.6 573.1,153.3 574.6,153.9 576.2,154.6 577.7,155.4 579.3,156.2 580.9,157.1 582.1,159.1 583.4,161.2 581.3,161.8 579.5,161.9 577.5,161.6 575.8,161.3 574.5,160.7 572.9,160.5 571.2,160.5 569.6,160.6 567.9,160.3 565.7,159.6 561.5,161.7 563.6,166.2 564.7,167.6 566.1,168.6 567.7,169.2 570.2,169.9 572.6,169.3 574.2,168.9 575.8,168.8 577.4,169.0 579.1,169.3 581.3,169.3 583.4,168.2 584.8,167.3 586.3,166.5 587.9,165.8 590.3,164.4 591.5,161.8 592.1,160.0 592.5,158.1 591.9,157.6 591.5,158.1 593.1,158.2 594.9,158.5 596.6,158.7 598.2,158.8 599.9,158.7 601.5,158.4 603.2,157.9 604.9,157.2 606.5,156.0 608.2,155.0 610.1,154.6 612.1,154.8 613.5,156.3 614.8,158.0 617.0,159.5 619.6,159.3 621.2,158.3 622.8,156.6 624.2,154.5 625.1,152.3 626.3,150.5 628.4,148.9 630.9,148.5 632.5,148.5 634.1,148.6 635.7,148.9 637.3,149.6 638.9,150.6 640.6,152.1 642.3,153.6 644.0,154.8 646.6,155.4 648.4,153.4 649.3,152.0 650.3,149.6 649.1,147.0 647.8,145.3 646.1,143.8 647.1,142.1 648.3,140.5 650.5,139.0 653.0,139.7 654.7,140.6 656.4,141.5 658.5,142.5 658.7,144.6 658.8,146.4 658.9,147.9 659.5,149.6 659.8,151.5 659.9,153.5 660.2,155.8 662.3,155.8 664.0,155.4 665.7,154.5 666.1,152.5 666.2,150.7 666.5,148.9 667.1,147.3 668.0,146.0 669.3,144.4 671.2,143.7 672.8,143.2 674.4,142.5 675.9,141.8 677.3,141.1 678.4,142.4 679.7,143.8 681.2,145.0 682.9,145.9 684.7,146.3 686.5,146.7 688.1,147.4 686.5,147.6 685.8,147.6 687.5,146.5 689.4,145.6 691.3,144.6 693.4,144.4 695.2,144.2 697.0,143.7 698.5,142.8 699.8,141.5 701.2,139.9 702.7,138.6 704.2,137.6 705.7,137.1 707.5,137.2 709.2,137.5 711.0,137.7 712.6,137.5 714.1,136.8 715.3,135.6 716.2,134.0 717.5,132.5 719.0,131.6 720.6,130.8 722.2,130.0 724.5,129.0 726.9,129.2 728.6,129.6 730.3,130.0 731.9,130.5 733.6,130.9 735.4,131.3 737.0,132.2 738.5,133.2 739.9,134.4 741.3,135.7 742.8,136.9 744.3,137.9 745.9,138.5 747.5,138.7 749.2,138.6 750.9,138.3 752.6,137.9 754.0,137.5 755.5,138.1 757.3,139.0 759.1,140.1 760.9,140.5 762.5,140.9 764.2,141.5 765.8,141.9 767.4,142.5 768.9,143.1 770.5,143.7 772.1,144.2 773.7,144.4 775.4,144.2 777.1,143.8 778.8,143.1 780.5,142.3 782.2,141.8 783.8,141.7 785.4,142.0 787.0,142.7 788.5,143.6 790.1,144.6 791.8,145.4 793.5,146.0 795.2,146.2 797.0,146.2 798.7,146.1 800.5,146.0 802.2,145.7 803.8,145.3 805.4,144.6 807.1,143.6 808.7,142.5 810.3,141.7 811.9,141.5 813.5,141.9 815.1,142.7 816.6,143.4 818.3,144.0 819.9,144.4 821.5,144.7 823.1,145.2 824.8,145.7 826.4,146.2 828.0,146.2 829.6,145.7 831.4,144.9 833.2,143.9 835.0,143.1 836.7,142.8 838.4,143.0 840.1,143.4 841.7,143.7 843.4,143.9 845.1,144.0 846.7,144.3 848.3,144.8 849.8,145.6 851.4,146.6 853.0,147.4 854.5,147.9 856.2,147.8 857.8,147.4 859.4,147.1 861.1,147.0 862.7,147.6 864.2,148.4 865.8,149.3 867.3,149.8 868.9,150.0 870.6,149.9 872.4,150.0 874.2,150.2 876.0,150.5 877.9,150.9 879.7,151.0 881.4,151.1 883.1,151.3 884.9,151.6 886.6,152.1 888.3,152.5 890.0,152.9 891.6,153.0 893.2,152.8 894.8,152.2 896.4,151.1 898.1,149.8 899.7,148.5 901.4,147.6 903.0,147.1 904.6,147.1 906.2,147.3 907.8,147.8 909.6,148.4 911.2,149.6 912.6,151.0 914.0,152.4 915.4,153.8 916.8,154.8 919.0,152.5M49.0,152.5 49.5,155.0 51.3,155.1 53.0,155.3 54.7,155.7 56.2,156.2 57.9,156.7 59.6,157.2 61.3,157.6 63.3,158.0 65.3,158.3 67.2,158.6 69.1,159.0 70.7,159.1 72.3,159.5 75.6,163.6 71.9,166.0 70.0,166.4 67.9,166.6 65.9,166.7 64.3,165.4 62.7,164.4 60.9,163.7 58.9,163.5 56.9,164.1 55.0,165.1 53.2,166.3 51.4,167.6 49.0,165.5M551.7,178.6 552.3,175.9 554.3,175.6 556.3,175.3 557.8,174.7 559.7,174.3 561.3,173.6 563.4,170.9 560.9,168.3 559.4,167.3 558.6,167.2 558.8,166.5 558.4,164.5 557.9,162.1 556.1,160.5 554.6,159.5 554.3,157.8 554.2,155.8 554.5,153.8 553.7,151.8 551.7,151.0M551.7,151.0 550.0,152.2 548.1,152.6 546.1,152.8 544.1,152.9 542.2,152.4 540.2,151.7 538.2,151.2 537.5,151.2 537.2,150.8 535.6,150.1 532.3,149.1 529.1,150.1 527.5,150.8 525.5,151.7 523.7,152.8 522.3,153.8 520.4,155.1 519.1,157.2 518.1,159.0 516.9,160.7 515.8,162.3 514.7,163.9 513.6,165.5 512.5,167.6 512.6,170.0 512.9,171.9 513.2,173.8 513.2,175.6 513.9,177.7 514.6,180.1 513.2,181.7 511.8,183.2M533.5,153.9 532.7,158.6 534.2,159.7 535.0,160.9 536.2,162.6 538.3,163.7 542.0,163.2M510.2,125.7 511.8,125.2 513.4,124.9 515.0,124.5 516.6,124.1 518.1,123.6 519.6,123.6 521.2,123.5 522.8,123.3 524.4,122.9 526.0,122.5 527.6,122.2 529.2,122.3 531.0,122.4 532.7,122.2 534.4,121.6 536.1,120.8 537.8,120.0 539.6,119.7 541.3,120.1 542.8,121.1 544.4,122.2 545.9,123.2 547.5,123.7 547.4,122.0 547.0,121.5 545.6,122.6 544.2,123.6 542.5,123.8 540.8,123.8 539.0,123.9 537.3,124.1 535.6,124.7 533.9,125.4 532.2,126.0 530.7,127.2 529.1,128.2 527.4,129.1 525.6,129.9 524.8,130.4 523.9,129.7 522.0,129.4 520.0,129.4 517.9,129.7 516.0,129.9 514.3,129.9 512.7,129.4 511.2,128.7 509.9,127.8M610.7,148.0 612.3,147.0 613.9,146.0 615.3,144.8 616.5,143.4 617.7,141.8 618.6,140.3 619.5,138.9 620.6,137.6 621.8,136.6 623.5,136.3 625.2,136.1 627.0,135.8 628.7,135.5 630.3,135.0 631.8,134.5 633.4,134.3 635.2,134.1 637.0,133.9 638.7,133.6 640.4,133.1 642.0,132.4 643.6,131.7 645.3,131.6 647.0,132.0 648.8,132.6 648.8,131.5 648.3,129.6 646.6,130.1 645.0,131.0 643.4,132.1 641.9,133.2 640.3,134.2 638.6,135.0 636.9,135.6 635.2,136.2 633.5,136.7 631.8,137.3 630.1,138.0 628.5,139.0 627.2,140.1 626.5,141.8 625.5,143.5 624.5,145.1 623.1,146.2 622.5,146.3 621.7,147.0 620.2,148.4 617.8,150.9 614.6,150.1 612.8,149.4 610.9,148.9 609.1,148.5M598.2,123.6 599.8,122.3 601.4,120.6 602.9,118.8 604.6,117.2 606.4,116.4 608.2,116.4 609.9,116.9 611.7,117.6 613.4,118.1 615.2,118.3 616.9,118.2 618.7,118.2 620.5,117.9 622.2,117.7 624.0,117.4 625.7,117.3 627.5,117.3 629.2,117.7 631.0,118.5 632.7,119.5 634.4,120.6 635.3,121.1 634.5,119.1 632.9,119.1 631.3,119.4 629.7,119.8 628.1,120.3 626.5,120.6 624.9,120.9 623.3,121.1 621.7,121.3 620.0,121.4 618.4,121.5 616.7,121.6 615.0,121.7 613.3,121.6 611.6,121.3 609.9,121.1 608.2,120.9 606.5,120.8 605.0,120.7 603.5,119.9 601.8,118.8 600.2,117.4 598.6,116.5M709.1,131.0 710.7,131.1 712.3,131.2 714.0,131.3 715.6,131.2 717.2,130.9 718.8,130.4 720.3,129.5 721.8,128.5 723.5,127.3 724.7,125.7 725.9,124.3 727.2,123.2 728.7,122.6 730.4,122.4 732.1,122.4 733.8,122.5 735.8,121.9 733.9,120.8 732.3,120.3 730.7,119.8 729.2,119.3 727.7,118.5 725.8,117.5 723.7,117.1 722.1,117.1 720.5,117.5 719.0,118.3 717.4,119.1 715.9,119.6 714.2,119.7 712.6,119.4 709.6,119.4 707.4,121.8 706.2,123.2 705.4,124.7 704.8,126.3M725.6,130.2 727.2,129.4 728.7,128.9 730.3,128.5 732.0,128.4 733.6,128.4 734.1,130.3 732.6,128.4 731.1,127.9 729.2,127.2 727.3,126.6 724.0,127.2 723.5,130.7M813.0,139.4 814.7,138.6 816.3,137.8 817.9,136.9 819.6,136.2 821.3,135.7 823.1,135.3 824.8,135.0 826.5,135.1 828.2,134.9 830.0,134.5 831.8,134.0 833.6,133.7 835.3,133.8 837.1,134.4 838.8,135.5 840.5,136.4 842.2,137.1 844.0,137.4 842.3,137.9 840.5,138.4 838.6,138.6 836.7,138.6 835.0,138.1 833.2,137.8 831.5,137.7 829.8,137.6 828.0,137.7 826.3,138.0 824.9,138.6 823.2,139.1 821.3,139.8 819.4,140.4 817.5,140.7 815.8,140.5 814.0,140.1 812.3,139.6M817.6,132.8 819.4,133.0 821.3,133.0 823.1,133.0 824.6,132.9 825.8,133.5 827.4,133.9 828.3,133.0 827.9,132.3 826.3,133.0 824.8,133.9 823.2,135.0 821.7,136.2 818.7,137.2 815.3,135.7M915.8,144.8 917.4,146.1 919.1,147.4 918.8,148.0 917.6,146.9 916.3,146.3 916.8,146.7M49.0,147.5 50.8,143.6 52.9,144.8 56.0,146.5 53.9,148.5 52.2,147.7 50.5,147.3 49.0,148.7M600.0,152.5 600.9,155.3 602.4,156.2 601.7,152.6 602.4,155.3M624.2,149.6 627.0,146.0 628.6,146.5 632.8,152.8 626.6,152.2"/><path fill="none" stroke="#000" stroke-width="2.2" stroke-linecap="round" stroke-linejoin="round" d="M236.3,158.4L240.0,157.8M246.5,184.9L251.8,183.8M214.1,174.0L218.6,172.4M206.4,166.9L212.1,166.8M219.0,163.6L223.7,163.2M201.1,175.6L203.7,176.4M219.4,161.3L222.9,159.5M239.5,184.8L242.5,182.0M213.1,159.5L218.1,160.8M208.2,161.0L210.3,162.2M226.2,160.5L231.9,161.9M200.4,175.8L203.6,176.0M234.7,182.6L239.7,183.8M231.5,200.3L235.5,196.8M226.7,197.4L230.0,195.2M193.8,161.3L199.0,158.8M230.5,176.8L235.1,178.1M202.8,181.3L204.5,179.9M247.1,163.3L249.3,164.2M224.8,170.2L228.3,169.8M232.0,202.8L235.0,202.7M211.6,177.9L217.1,177.2M242.2,167.0L245.8,168.9M200.9,166.6L204.5,164.1M225.1,199.2L229.3,197.1M240.0,184.9L244.8,185.2M221.3,181.2L226.1,182.3M237.2,176.8L239.9,177.5M193.6,166.4L197.0,164.8M242.8,196.0L245.6,196.8M224.5,164.1L228.9,166.6M218.3,178.6L220.4,177.4M233.9,199.9L236.0,201.7M230.6,182.0L235.5,182.9M202.4,164.0L206.4,165.8M221.9,184.2L224.5,186.6M198.4,175.5L202.9,179.1M221.5,184.2L225.4,185.8M237.2,163.6L242.8,165.5M226.8,157.6L229.6,158.3M225.5,167.7L228.1,167.4M207.2,167.4L209.0,166.5M241.7,156.7L246.0,159.6M231.3,177.0L236.1,178.2M204.5,193.0L208.7,194.3M250.1,184.1L252.6,183.8M182.4,196.3L188.2,197.2M190.5,195.3L193.5,196.2M185.8,163.0L189.0,161.0M233.8,165.6L237.0,168.5M192.3,199.0L196.4,199.9M199.7,195.9L202.7,195.2M206.6,186.1L210.1,187.7M239.0,180.8L244.4,179.0M225.7,165.3L231.1,162.9M226.2,186.3L228.4,185.3M184.6,194.7L188.5,193.5M210.4,201.7L212.1,200.5M185.8,189.1L188.3,189.7M243.0,157.2L245.2,157.6M194.3,177.6L198.9,181.4M232.6,163.1L235.8,160.7M214.6,192.9L218.8,193.4M248.8,200.5L251.3,199.7M196.6,189.0L202.3,187.8M205.3,181.5L207.8,180.0M197.5,177.3L200.5,176.3M218.8,201.8L220.7,203.0M211.2,157.9L213.1,156.8M215.8,174.2L218.6,173.7M228.9,176.4L233.3,175.3M239.0,179.7L243.4,178.9M217.5,197.9L219.5,199.4M232.7,182.2L236.4,184.0M237.5,182.4L242.2,180.4M238.5,178.3L242.2,181.4M245.5,192.5L249.4,195.8M245.4,186.7L250.9,187.2M227.1,190.7L232.6,188.8M227.8,201.5L231.7,199.9M246.8,202.2L248.8,202.7M248.9,194.7L250.5,193.3M263.7,198.3L268.5,198.1M246.6,210.8L250.1,212.7M251.0,201.0L253.2,199.3M257.9,195.0L259.8,194.5M242.8,205.3L247.0,206.1M260.5,193.6L264.4,194.7M257.2,197.4L262.0,199.3M246.5,199.5L248.6,198.1M268.0,203.5L270.4,203.8M254.6,211.1L259.6,211.7M260.8,198.3L263.7,198.5M263.0,204.5L266.5,203.5M269.5,196.7L271.7,197.3M264.0,202.9L267.6,203.7M264.0,212.1L266.2,210.4M247.4,198.7L249.1,197.5M256.4,209.9L259.0,211.2M250.1,198.8L252.1,200.7M301.0,202.4L305.5,204.6M297.9,219.7L300.6,218.8M330.8,188.4L333.7,189.6M313.8,177.5L315.2,176.3M289.5,182.6L293.7,182.8M325.5,182.8L328.4,182.9M294.7,202.7L299.1,200.4M331.4,207.4L334.8,207.4M322.4,177.3L326.1,176.0M316.9,177.2L320.5,175.4M294.1,193.9L297.3,196.8M290.5,174.8L294.3,175.1M341.8,194.2L344.7,192.8M331.0,203.0L333.7,201.4M294.9,217.0L297.8,215.0M306.7,211.5L310.3,213.0M334.9,212.9L337.5,213.4M316.3,199.6L320.0,200.1M339.5,192.2L343.9,191.1M298.3,184.5L301.0,184.8M331.5,216.2L333.5,214.4M316.9,191.9L320.5,190.8M343.9,173.8L346.5,174.8M315.1,181.6L319.2,184.6M310.0,205.5L314.4,204.3M341.8,194.7L345.9,194.3M313.2,194.7L315.0,193.6M311.0,209.5L315.4,206.8M328.6,201.8L330.1,203.3M308.4,178.0L311.7,181.1M300.3,194.9L301.8,193.7M337.8,221.1L339.5,219.9M328.8,192.1L331.7,190.7M342.0,212.1L345.1,209.6M295.8,195.1L297.5,194.4M326.2,186.1L328.4,185.4M343.6,209.8L346.3,208.6M303.2,208.6L304.8,209.8M336.2,196.6L337.9,195.0M325.8,195.2L328.4,194.1M339.8,185.8L344.6,187.0M302.1,204.5L305.0,206.2M313.8,181.3L317.2,184.8M332.3,199.5L334.7,200.3M302.3,210.4L307.2,211.8M331.2,207.8L334.1,208.6M335.2,198.6L337.7,197.5M293.8,204.3L297.0,203.4M325.6,176.6L328.9,178.4M309.8,212.5L311.7,212.8M291.6,192.0L295.7,189.6M327.0,195.6L328.7,197.0M307.2,196.4L308.6,197.7M322.3,179.1L325.9,176.8M326.5,203.7L331.6,204.0M315.8,199.3L317.6,199.5M333.8,216.4L337.5,220.0M334.8,178.8L337.5,179.3M322.4,190.3L326.1,187.9M306.3,197.3L308.8,196.3M279.7,159.3L283.6,156.0M281.8,159.1L284.8,160.0M273.8,167.5L277.5,170.5M261.6,153.8L264.2,155.0M258.2,179.1L260.3,180.1M259.8,159.1L262.8,158.2M253.0,178.4L255.5,178.7M283.3,179.6L285.9,178.9M281.5,158.9L283.3,157.6M252.7,157.7L256.9,159.4M267.3,166.4L269.8,166.8M277.5,157.0L280.3,157.9M257.4,149.9L261.1,153.2M276.6,165.4L280.5,168.1M265.4,161.4L268.2,159.1M278.4,165.9L282.7,166.3M282.1,173.6L285.7,174.7M258.6,178.4L261.3,178.8M269.0,167.9L274.5,167.1M253.8,163.9L256.3,163.5M263.3,156.0L267.5,153.8M259.9,164.8L262.2,165.0M560.1,172.8L562.0,171.8M564.6,160.9L566.9,160.8M557.8,178.5L559.0,179.3M540.1,173.3L541.7,173.2M546.4,159.7L547.9,160.4M562.0,169.7L563.8,171.4M546.6,166.2L549.0,166.2M551.6,167.7L555.4,166.5M558.4,164.4L560.5,165.0M557.1,177.3L559.6,175.6M542.0,177.1L546.4,177.7M539.8,171.9L542.3,170.0M553.5,171.3L556.2,168.8M551.1,167.8L555.1,168.9M549.9,162.2L552.4,160.8M542.5,171.1L546.1,173.8M550.1,175.0L554.2,173.8M549.9,175.2L552.5,176.7M136.3,158.7L137.7,159.3M154.7,170.5L158.4,168.4M135.7,163.7L137.7,164.5M156.0,168.0L158.3,165.9M120.9,156.9L123.4,157.6M149.4,161.2L151.5,161.9M123.8,159.4L125.9,160.9M133.5,171.4L137.5,169.9M666.7,171.7L668.4,172.0M632.5,189.8L635.9,189.8M700.0,165.3L702.4,166.3M652.1,172.7L655.8,171.8M681.0,190.3L682.6,191.1M650.1,162.9L654.0,163.9M695.0,185.5L697.4,186.7M632.3,192.0L635.1,190.1M673.7,168.1L677.3,166.9M647.0,184.2L649.6,184.8M234.9,142.1 234.9,144.1 232.6,144.0 230.5,143.9 229.7,142.1 230.5,140.4 232.6,139.9 234.3,140.7ZM198.5,135.2 199.2,136.9 197.3,138.5 195.2,137.1 194.1,135.2 195.1,133.3 197.3,133.0 198.6,134.0ZM208.8,136.7 207.3,138.7 204.7,139.8 202.0,138.8 200.6,136.7 202.7,135.1 204.7,134.2 207.7,134.3ZM210.4,134.0 208.1,135.8 205.0,136.5 202.8,135.3 202.4,134.0 202.5,132.6 205.0,131.9 207.1,132.8ZM186.3,133.5 187.2,135.6 184.6,136.0 181.8,135.9 179.6,133.5 181.1,130.6 184.6,130.4 187.8,130.9ZM210.2,147.8 209.2,149.1 207.5,149.5 205.5,149.3 205.1,147.8 205.1,146.0 207.5,145.9 210.1,145.8ZM212.5,144.2 210.0,146.1 206.1,146.6 202.2,146.2 202.0,144.2 202.5,142.3 206.1,141.5 209.4,142.5ZM219.9,145.9 218.5,148.6 215.5,150.0 213.1,148.0 208.7,145.9 212.9,143.6 215.5,142.3 217.7,143.9ZM203.5,130.8 202.1,132.0 199.9,133.1 197.7,132.0 197.3,130.8 197.3,129.3 199.9,129.5 201.7,129.8ZM215.6,136.9 215.5,138.1 213.1,138.8 211.1,137.9 210.0,136.9 210.4,135.4 213.1,134.8 215.3,135.7ZM221.9,139.7 220.9,141.2 219.0,142.3 217.3,141.0 216.6,139.7 217.3,138.5 219.0,136.9 219.9,139.0ZM203.3,142.4 201.3,145.1 197.4,145.0 193.7,145.0 193.1,142.4 194.1,140.1 197.4,139.0 200.3,140.3ZM195.6,136.9 197.0,140.0 193.3,141.3 190.5,139.3 189.6,136.9 189.9,134.0 193.3,134.0 196.8,133.9ZM203.5,138.0 202.6,139.5 199.1,139.3 195.3,139.6 195.3,138.0 195.6,136.5 199.1,136.0 201.9,136.8ZM315.1,134.4 312.6,137.4 308.4,136.7 304.3,137.3 303.3,134.4 305.3,132.2 308.4,130.6 312.4,131.6ZM275.9,139.1 274.3,141.4 271.3,141.9 268.8,140.9 266.5,139.1 267.5,136.2 271.3,135.5 273.8,137.2ZM311.4,131.2 310.9,133.0 307.8,133.5 305.3,132.7 301.2,131.2 304.0,129.0 307.8,129.7 311.3,129.2ZM239.8,130.4 239.0,131.8 236.6,132.3 234.4,131.6 233.5,130.4 234.1,128.9 236.6,129.0 238.8,129.1ZM294.7,121.2 293.4,122.5 291.2,123.7 288.7,122.6 287.2,121.2 288.2,119.6 291.2,119.9 294.2,119.6ZM309.7,131.4 309.3,132.5 306.7,132.5 305.2,132.1 304.5,131.4 304.7,130.5 306.7,129.9 308.7,130.5ZM272.7,124.0 270.7,124.5 269.6,125.5 266.2,125.6 265.6,124.0 268.3,123.4 269.6,122.2 271.1,123.3ZM324.4,126.3 324.3,128.1 321.7,128.6 320.0,127.5 317.9,126.3 320.1,125.2 321.7,123.3 324.0,124.7ZM241.9,129.9 243.1,132.7 238.6,132.9 235.6,131.8 234.2,129.9 235.6,128.0 238.6,126.0 242.0,127.8ZM244.1,129.5 242.9,131.1 241.1,132.4 238.6,131.8 237.7,129.5 239.1,127.8 241.1,127.2 243.9,127.1ZM273.4,129.6 271.7,131.5 269.4,133.8 266.6,131.9 266.3,129.6 266.9,127.5 269.4,125.7 271.4,128.0ZM256.2,130.8 253.8,133.7 250.5,134.6 246.3,134.5 244.9,130.8 248.2,128.8 250.5,127.3 253.2,128.3ZM269.8,136.9 269.4,139.2 265.1,139.0 261.9,138.6 260.3,136.9 262.2,135.3 265.1,134.5 269.0,134.8ZM270.2,129.8 270.3,132.3 267.4,132.8 263.4,133.2 262.4,129.8 264.0,126.9 267.4,124.5 271.4,126.3ZM305.1,124.4 303.7,126.7 300.9,128.0 298.9,126.1 294.7,124.4 298.6,122.4 300.9,121.2 304.6,121.3ZM325.9,138.6 325.4,139.9 322.8,139.8 318.9,140.5 318.5,138.6 320.3,137.5 322.8,137.1 326.2,137.0ZM324.1,129.9 322.6,132.3 319.9,134.9 317.3,132.1 316.6,129.9 317.7,127.9 319.9,125.9 321.5,128.4ZM322.1,124.0 321.1,127.2 316.4,126.8 312.8,126.5 310.0,124.0 313.7,122.1 316.4,121.0 318.7,122.4ZM270.5,124.1 269.9,125.8 267.7,126.8 264.1,127.0 263.8,124.1 265.2,122.1 267.7,120.0 271.3,121.2ZM299.1,125.8 299.0,126.8 296.7,127.1 293.9,127.0 294.2,125.8 294.0,124.7 296.7,124.4 298.3,125.1ZM256.3,137.5 255.5,139.8 252.8,141.3 248.7,140.9 247.2,137.5 249.4,134.7 252.8,132.2 256.6,134.4ZM290.3,127.0 289.0,127.8 287.0,128.7 284.2,128.2 284.3,127.0 285.0,126.1 287.0,125.4 289.5,125.8ZM267.3,130.7 265.6,131.6 263.9,132.3 261.2,132.2 260.0,130.7 261.5,129.4 263.9,129.2 265.7,129.8ZM241.8,128.4 240.0,129.2 238.5,131.1 235.4,130.0 235.0,128.4 235.7,127.0 238.5,125.0 242.3,126.5ZM328.4,147.9 328.6,150.3 325.5,150.9 323.5,149.4 323.0,147.9 323.5,146.3 325.5,145.2 326.8,146.9ZM311.6,148.8 311.2,152.2 307.1,151.8 303.7,151.6 301.2,148.8 303.3,145.7 307.1,145.7 310.8,145.8ZM271.8,161.8 270.0,162.7 268.8,163.9 266.8,163.2 266.6,161.8 268.2,161.3 268.8,159.7 271.0,160.3ZM315.7,161.5 314.6,163.1 312.3,163.4 310.1,163.0 309.8,161.5 310.4,160.3 312.3,160.0 314.5,160.1ZM292.6,158.7 290.2,159.3 289.0,160.1 286.7,159.8 285.7,158.7 288.2,158.3 289.0,157.2 291.2,157.6ZM275.2,148.6 275.4,150.5 272.5,150.2 269.7,150.4 269.0,148.6 271.1,147.7 272.5,147.1 274.4,147.4ZM268.3,161.0 266.7,161.4 266.1,163.3 263.2,163.0 262.8,161.0 264.2,159.7 266.1,158.2 269.8,158.4ZM246.0,161.8 245.5,163.3 242.9,164.2 240.1,163.4 240.5,161.8 240.2,160.3 242.9,159.7 245.4,160.4ZM297.3,141.9 296.1,143.0 295.0,143.9 293.9,142.8 293.0,141.9 293.7,140.8 295.0,140.2 296.4,140.6ZM259.0,167.0 258.3,168.4 256.0,168.6 252.8,168.8 253.2,167.0 253.1,165.4 256.0,164.4 259.5,165.0ZM256.9,150.2 255.1,153.4 251.5,154.7 248.5,152.9 247.9,150.2 247.8,146.9 251.5,145.3 253.7,148.3ZM254.0,167.0 252.5,168.8 249.3,169.5 247.5,167.9 244.8,167.0 246.6,165.5 249.3,165.5 252.3,165.3ZM267.5,164.6 265.5,166.8 262.0,167.8 259.9,165.9 256.9,164.6 258.8,162.6 262.0,161.4 265.2,162.7ZM297.0,170.6 296.3,173.6 292.4,174.2 288.9,173.3 288.6,170.6 288.7,167.8 292.4,166.2 295.4,168.3ZM265.0,143.8 263.4,144.9 262.0,144.8 260.4,145.1 260.1,143.8 259.7,141.9 262.0,142.0 263.6,142.5ZM260.7,166.8 258.9,168.5 256.4,170.7 254.2,168.3 252.1,166.8 253.8,165.0 256.4,164.8 260.8,163.8ZM332.5,145.9 328.6,146.8 327.6,147.6 324.6,148.2 324.2,145.9 325.6,144.4 327.6,143.4 329.3,144.6ZM292.6,145.9 291.7,148.8 287.7,148.3 284.8,148.0 284.4,145.9 285.4,144.3 287.7,143.4 289.9,144.3ZM332.6,156.4 329.6,157.5 327.0,158.1 323.4,157.9 321.9,156.4 324.0,155.2 327.0,154.7 331.4,154.6ZM319.2,147.7 319.6,151.1 315.4,150.7 311.9,150.5 310.3,147.7 311.3,144.4 315.4,145.4 319.4,144.4ZM453.4,124.8 451.7,125.4 450.8,127.1 448.8,126.3 448.7,124.8 448.9,123.4 450.8,121.6 453.0,123.2ZM457.1,134.5 456.7,135.6 455.2,136.5 453.5,135.8 453.5,134.5 453.8,133.3 455.2,132.7 456.6,133.4ZM437.7,117.6 437.7,118.9 435.7,119.1 434.2,118.5 433.4,117.6 434.0,116.6 435.7,116.1 437.6,116.5ZM439.2,131.9 438.7,133.1 436.1,133.3 434.1,132.8 433.1,131.9 432.7,130.4 436.1,130.3 438.8,130.8ZM618.6,118.2 617.7,120.3 615.2,120.9 612.5,120.4 612.3,118.2 613.0,116.3 615.2,116.2 618.4,115.5ZM617.4,120.5 616.3,121.7 615.0,122.6 613.4,121.8 612.2,120.5 613.3,119.1 615.0,118.7 616.5,119.1ZM608.7,121.7 606.9,122.7 605.2,123.9 603.5,122.7 601.6,121.7 602.7,120.4 605.2,120.1 607.1,120.7ZM643.4,118.4 642.4,119.5 640.6,120.1 639.4,119.1 638.9,118.4 637.6,116.6 640.6,117.0 642.1,117.5ZM608.2,118.5 607.7,119.7 605.3,120.0 603.5,119.4 603.0,118.5 604.5,118.1 605.3,116.8 606.7,117.9ZM642.4,122.9 642.0,124.7 639.7,125.0 637.9,124.2 635.9,122.9 637.8,121.6 639.7,121.5 641.5,121.6ZM614.9,123.2 612.7,123.9 611.2,124.6 610.1,123.7 609.0,123.2 609.4,122.3 611.2,121.8 612.9,122.3ZM621.9,120.8 621.0,121.8 618.7,122.3 616.1,121.9 617.1,120.8 616.9,120.1 618.7,119.7 620.4,120.1ZM742.0,120.0 739.8,121.8 737.7,122.6 734.9,122.4 734.1,120.0 734.6,117.4 737.7,117.0 740.5,117.7ZM739.7,122.9 738.9,124.1 736.1,124.3 733.9,123.8 731.9,122.9 733.8,121.8 736.1,121.1 739.6,121.3ZM725.3,120.7 724.2,122.7 721.7,124.1 720.2,121.9 718.5,120.7 718.9,118.5 721.7,118.6 724.1,118.9ZM723.1,124.4 721.9,125.5 720.5,126.4 718.5,125.9 717.3,124.4 719.6,123.8 720.5,122.5 721.4,123.7ZM733.3,129.8 732.4,130.7 731.3,131.4 729.7,131.2 729.5,129.8 730.0,128.7 731.3,128.7 733.0,128.4ZM718.4,121.2 718.4,123.9 715.3,124.7 712.2,124.0 710.8,121.2 713.4,119.6 715.3,117.9 718.5,118.4ZM825.9,139.9 824.6,140.7 822.7,141.5 820.7,140.7 821.1,139.9 820.2,138.9 822.7,138.4 825.5,138.7ZM816.1,137.5 816.1,138.4 814.7,139.2 812.8,138.6 811.3,137.5 813.1,136.5 814.7,136.7 816.6,136.3ZM826.7,133.7 824.8,134.5 823.3,135.1 821.6,134.6 821.2,133.7 821.9,133.0 823.3,132.1 825.1,132.7ZM818.1,132.2 817.3,132.9 816.4,133.8 815.6,132.8 814.7,132.2 815.3,131.2 816.4,130.4 817.3,131.4ZM832.5,140.6 831.6,141.3 830.6,141.9 829.2,141.6 828.9,140.6 829.3,139.7 830.6,139.3 831.7,139.8ZM831.0,135.9 830.8,137.2 828.8,137.6 827.0,137.1 825.9,135.9 828.1,135.4 828.8,134.1 830.5,134.8ZM170.1,188.3 168.8,189.0 167.2,189.5 165.2,189.2 163.9,188.3 165.1,187.4 167.2,187.2 168.9,187.6ZM178.7,187.7 177.9,188.5 176.3,189.2 174.5,188.5 173.6,187.7 175.2,187.2 176.3,186.0 178.3,186.7ZM176.5,187.1 174.6,188.1 173.1,189.0 170.8,188.7 171.2,187.1 171.5,186.0 173.1,185.9 175.2,185.7ZM181.4,197.7 181.7,198.9 179.6,199.1 176.8,199.3 176.2,197.7 178.1,196.9 179.6,196.5 180.9,197.0ZM159.6,187.8 159.5,188.3 158.3,188.9 156.5,188.5 156.4,187.8 156.9,187.2 158.3,187.0 159.7,187.2ZM166.4,199.3 167.0,200.0 165.6,200.6 165.1,199.6 163.2,199.3 164.2,198.6 165.6,198.6 166.4,198.9ZM183.3,189.6 183.4,191.3 180.9,191.1 178.4,191.3 179.2,189.6 179.3,188.5 180.9,188.3 183.6,187.8ZM165.3,186.2 164.3,187.2 162.3,187.3 160.7,187.0 161.2,186.2 161.2,185.7 162.3,185.4 163.6,185.6ZM472.1,187.5 471.3,188.5 470.1,188.9 468.7,188.6 468.6,187.5 468.9,186.6 470.1,186.7 471.6,186.3ZM472.6,189.9 471.5,190.9 470.3,190.8 469.5,190.6 468.5,189.9 468.9,188.7 470.3,188.3 471.6,188.8ZM471.9,182.9 470.9,183.5 469.8,184.1 468.3,183.7 468.6,182.9 467.9,182.0 469.8,181.5 470.9,182.4ZM790.9,337.4 790.5,338.4 788.3,338.6 786.7,338.2 785.6,337.4 786.3,336.4 788.3,336.1 789.9,336.6ZM792.4,339.0 791.8,339.9 790.6,340.3 789.2,340.0 788.1,339.0 788.9,337.9 790.6,337.9 792.0,338.0ZM790.4,323.9 789.4,324.3 788.5,325.4 786.0,325.2 786.3,323.9 786.3,322.8 788.5,322.6 790.7,322.8ZM783.3,336.0 782.7,337.0 781.5,336.6 780.1,337.2 779.8,336.0 780.2,335.0 781.5,334.5 782.6,335.1ZM786.6,317.6 785.0,318.3 783.8,318.6 782.3,318.4 781.6,317.6 782.7,316.9 783.8,316.7 785.8,316.4ZM778.4,323.5 777.9,324.7 776.3,324.9 775.5,324.1 774.2,323.5 774.7,322.2 776.3,321.9 777.6,322.5ZM782.7,324.7 783.1,325.9 781.1,326.3 779.8,325.5 778.6,324.7 778.9,323.5 781.1,324.1 782.7,323.8ZM784.3,322.6 782.6,322.9 781.8,323.3 780.3,323.3 779.3,322.6 779.9,321.8 781.8,321.4 784.1,321.6ZM788.9,326.5 787.8,327.7 786.1,327.8 784.7,327.4 784.1,326.5 785.0,325.9 786.1,325.0 787.1,325.9ZM790.1,337.8 790.9,339.0 788.8,338.7 787.3,338.7 786.3,337.8 787.1,336.8 788.8,336.2 790.4,337.0Z"/><path fill="none" stroke="#000" stroke-width="6.0" stroke-linejoin="round" stroke-linecap="round" d="M149.3,180.6 151.5,180.8 153.0,181.8 154.5,182.9 156.0,184.2 157.1,185.7 158.1,187.2 159.3,188.6 160.5,189.9 161.8,191.0 163.2,192.0 164.6,193.0 166.1,194.0 167.6,195.4 169.0,196.9 170.3,198.5 171.1,200.1 171.8,201.8 172.5,203.4 173.7,205.5 175.1,207.5 176.5,208.6 178.0,209.5 179.5,210.2 181.1,211.2 182.7,212.1 184.3,213.1"/><path fill="none" stroke="#000" stroke-width="4.5" stroke-linejoin="round" stroke-linecap="round" d="M346.2,135.1 347.7,136.1 348.7,137.5 349.5,138.9 350.1,140.4 350.4,142.0 350.8,143.9 351.3,145.7 351.8,147.5 352.5,149.2 353.4,150.9 354.3,152.5 355.3,154.2 356.2,155.6 356.4,157.2 356.5,159.0 356.7,160.8 357.0,162.8 358.0,164.4 359.0,165.9 359.9,167.4 360.8,169.0 362.1,170.3 363.5,171.6 365.0,172.8 366.3,173.9 367.9,174.5 369.5,175.2 371.0,176.1 372.4,176.9 373.7,177.3 375.4,177.8 376.5,180.0"/><path fill="none" stroke="#000" stroke-width="3.2" stroke-linejoin="round" stroke-linecap="round" d="M377.7,180.0 378.9,178.9 380.3,178.0 381.7,177.1 383.1,176.2 384.3,174.7 385.4,173.4 386.4,172.1 387.4,170.8 388.6,169.7 389.8,168.4 390.8,166.9 391.6,165.5 392.8,164.6 394.3,163.5 395.8,162.6 397.3,161.7 398.9,161.0 400.5,160.3 401.9,159.5 403.3,158.7 404.6,157.9 406.1,157.1 407.5,156.4 409.0,155.7 410.5,155.1 412.0,154.5 413.4,153.8 414.8,153.0 416.3,152.3 417.8,151.7 419.3,151.1 420.8,150.7 422.5,149.9 424.1,149.1 425.7,148.2 427.3,147.2 428.3,146.9 428.8,145.5 429.6,143.6 430.8,141.6 432.5,140.2 434.0,139.0 435.4,137.7 436.6,136.4 437.3,134.5 438.0,132.6 438.8,130.7 438.4,128.7 438.1,126.6 436.9,124.9"/><path fill="none" stroke="#000" stroke-width="3.6" stroke-linejoin="round" stroke-linecap="round" d="M496.6,182.9 495.1,181.0 495.0,179.0 495.1,176.7 496.4,174.7 497.5,173.2 498.8,171.5 500.6,170.6 502.3,169.9 504.0,169.4 505.7,168.9 507.4,168.4 509.1,167.7 510.7,166.8 512.1,165.9 513.6,164.7 514.8,163.3 516.0,162.0 517.3,160.8 518.5,159.5 519.7,158.5 520.9,157.3 521.9,156.0 522.8,154.7 524.4,153.6 526.1,152.6 527.9,151.7 529.8,151.1 531.5,151.1 533.2,151.2 534.9,151.2 536.6,151.0 538.2,150.7 539.7,150.0 541.2,149.4 542.8,148.8 544.4,148.4 546.0,148.2 547.6,148.3 549.2,148.1"/><path fill="none" stroke="#000" stroke-width="3.0" stroke-linejoin="round" stroke-linecap="round" d="M470.7,190.7 468.9,189.3 468.7,187.1 469.8,185.4 471.4,184.3"/><path fill="none" stroke="#000" stroke-width="3.0" stroke-linejoin="round" stroke-linecap="round" d="M116.7,178.6 118.3,178.8 119.9,179.4 121.5,179.7 123.2,179.7 124.8,179.6 126.4,179.3 128.0,178.9 129.7,178.7 131.1,178.4 132.5,178.9 134.2,179.3 136.0,179.4"/></g>
<rect x="577" y="97" width="339" height="22" fill="#fff"/>
<text x="626" y="108.7" font-family='"DejaVu Sans", sans-serif' font-weight="200" font-size="14" letter-spacing="1.22" stroke="#000" stroke-width="0.45">NOAA Physical Sciences Laboratory</text>
<rect x="49" y="92" width="870" height="2" fill="#000"/>
<rect x="49" y="353" width="870" height="2" fill="#000"/>
<rect x="44" y="92.5" width="5" height="1.2" fill="#000"/>
<text x="11.9" y="99.7" textLength="28.2" lengthAdjust="spacingAndGlyphs" font-family='"Liberation Sans", Arial, sans-serif' font-size="16.3">90N</text>
<rect x="44" y="121.5" width="5" height="1.2" fill="#000"/>
<text x="11.9" y="128.7" textLength="28.2" lengthAdjust="spacingAndGlyphs" font-family='"Liberation Sans", Arial, sans-serif' font-size="16.3">80N</text>
<rect x="44" y="150.5" width="5" height="1.2" fill="#000"/>
<text x="11.9" y="157.7" textLength="28.2" lengthAdjust="spacingAndGlyphs" font-family='"Liberation Sans", Arial, sans-serif' font-size="16.3">70N</text>
<rect x="44" y="179.5" width="5" height="1.2" fill="#000"/>
<text x="11.9" y="186.7" textLength="28.2" lengthAdjust="spacingAndGlyphs" font-family='"Liberation Sans", Arial, sans-serif' font-size="16.3">60N</text>
<rect x="44" y="208.5" width="5" height="1.2" fill="#000"/>
<text x="11.9" y="215.7" textLength="28.2" lengthAdjust="spacingAndGlyphs" font-family='"Liberation Sans", Arial, sans-serif' font-size="16.3">50N</text>
<rect x="44" y="237.5" width="5" height="1.2" fill="#000"/>
<text x="11.9" y="244.7" textLength="28.2" lengthAdjust="spacingAndGlyphs" font-family='"Liberation Sans", Arial, sans-serif' font-size="16.3">40N</text>
<rect x="44" y="266.5" width="5" height="1.2" fill="#000"/>
<text x="11.9" y="273.7" textLength="28.2" lengthAdjust="spacingAndGlyphs" font-family='"Liberation Sans", Arial, sans-serif' font-size="16.3">30N</text>
<rect x="44" y="295.5" width="5" height="1.2" fill="#000"/>
<text x="11.9" y="302.7" textLength="28.2" lengthAdjust="spacingAndGlyphs" font-family='"Liberation Sans", Arial, sans-serif' font-size="16.3">20N</text>
<rect x="44" y="324.5" width="5" height="1.2" fill="#000"/>
<text x="11.9" y="331.7" textLength="28.2" lengthAdjust="spacingAndGlyphs" font-family='"Liberation Sans", Arial, sans-serif' font-size="16.3">10N</text>
<rect x="44" y="353.5" width="5" height="1.2" fill="#000"/>
<text x="22.3" y="360.8" textLength="18.4" lengthAdjust="spacingAndGlyphs" font-family='"Liberation Sans", Arial, sans-serif' font-size="16.3">EQ</text>
<rect x="48.4" y="355" width="1.3" height="5" fill="#000"/>
<text x="37.0" y="373.7" textLength="25.4" lengthAdjust="spacingAndGlyphs" font-family='"Liberation Sans", Arial, sans-serif' font-size="16">180</text>
<rect x="193.4" y="355" width="1.3" height="5" fill="#000"/>
<text x="175.9" y="373.7" textLength="37.5" lengthAdjust="spacingAndGlyphs" font-family='"Liberation Sans", Arial, sans-serif' font-size="16">120W</text>
<rect x="338.4" y="355" width="1.3" height="5" fill="#000"/>
<text x="324.3" y="373.7" textLength="29.6" lengthAdjust="spacingAndGlyphs" font-family='"Liberation Sans", Arial, sans-serif' font-size="16">60W</text>
<rect x="483.4" y="355" width="1.3" height="5" fill="#000"/>
<text x="484" y="373.7" text-anchor="middle" font-family='"Liberation Sans", Arial, sans-serif' font-size="16">0</text>
<rect x="628.4" y="355" width="1.3" height="5" fill="#000"/>
<text x="615.2" y="373.7" textLength="27.4" lengthAdjust="spacingAndGlyphs" font-family='"Liberation Sans", Arial, sans-serif' font-size="16">60E</text>
<rect x="773.4" y="355" width="1.3" height="5" fill="#000"/>
<text x="756.1" y="373.7" textLength="36.0" lengthAdjust="spacingAndGlyphs" font-family='"Liberation Sans", Arial, sans-serif' font-size="16">120E</text>
<rect x="918.4" y="355" width="1.3" height="5" fill="#000"/>
<text x="905.9" y="373.7" textLength="25.4" lengthAdjust="spacingAndGlyphs" font-family='"Liberation Sans", Arial, sans-serif' font-size="16">180</text>
<text x="54.5" y="88.5" font-family='"Liberation Sans", Arial, sans-serif' font-size="12" letter-spacing="0.58">Recurring Rossby Wave Train : consonantchaos.com</text>
<text x="783" y="88.5" font-family='"Liberation Sans", Arial, sans-serif' font-size="12" letter-spacing="0.53">Frequency : #N/A</text>
<text x="484" y="402.3" text-anchor="middle" font-family='"DejaVu Sans", sans-serif' font-weight="200" font-size="18.5" letter-spacing="0.88" stroke="#000" stroke-width="0.5">Surface Precipitation Rate (mm/day) Composite Mean</text>
<text x="484" y="423" text-anchor="middle" font-family='"DejaVu Sans", sans-serif' font-weight="200" font-size="18.5" letter-spacing="0.8" stroke="#000" stroke-width="0.5">Initialized: 20251128 (RRWT 1620d) Valid: 20251214 to 20251218</text>
<text x="482.5" y="454" text-anchor="middle" font-family='"DejaVu Sans", sans-serif' font-weight="200" font-size="13.7" letter-spacing="0.75" stroke="#000" stroke-width="0.4">NCEP/NCAR Reanalysis</text>
<polygon points="150,469.5 180,462 180,477" fill="#c80000" stroke="#000" stroke-width="2"/>
<polygon points="822.5,469.5 791.0,462 791.0,477" fill="#500050" stroke="#000" stroke-width="2"/>
<rect x="180.00" y="462" width="30.55" height="15" fill="#ff0000" stroke="#000" stroke-width="2"/>
<rect x="210.55" y="462" width="30.55" height="15" fill="#ff6400" stroke="#000" stroke-width="2"/>
<rect x="241.10" y="462" width="30.55" height="15" fill="#ff8c00" stroke="#000" stroke-width="2"/>
<rect x="271.65" y="462" width="30.55" height="15" fill="#ffb000" stroke="#000" stroke-width="2"/>
<rect x="302.20" y="462" width="30.55" height="15" fill="#ffe600" stroke="#000" stroke-width="2"/>
<rect x="332.75" y="462" width="30.55" height="15" fill="#e6dc32" stroke="#000" stroke-width="2"/>
<rect x="363.30" y="462" width="30.55" height="15" fill="#c8e600" stroke="#000" stroke-width="2"/>
<rect x="393.85" y="462" width="30.55" height="15" fill="#8cd228" stroke="#000" stroke-width="2"/>
<rect x="424.40" y="462" width="30.55" height="15" fill="#00dc00" stroke="#000" stroke-width="2"/>
<rect x="454.95" y="462" width="30.55" height="15" fill="#00f078" stroke="#000" stroke-width="2"/>
<rect x="485.50" y="462" width="30.55" height="15" fill="#1ee6aa" stroke="#000" stroke-width="2"/>
<rect x="516.05" y="462" width="30.55" height="15" fill="#00ffff" stroke="#000" stroke-width="2"/>
<rect x="546.60" y="462" width="30.55" height="15" fill="#1e8cf0" stroke="#000" stroke-width="2"/>
<rect x="577.15" y="462" width="30.55" height="15" fill="#2a64c8" stroke="#000" stroke-width="2"/>
<rect x="607.70" y="462" width="30.55" height="15" fill="#1432e6" stroke="#000" stroke-width="2"/>
<rect x="638.25" y="462" width="30.55" height="15" fill="#6e00dc" stroke="#000" stroke-width="2"/>
<rect x="668.80" y="462" width="30.55" height="15" fill="#cc00cc" stroke="#000" stroke-width="2"/>
<rect x="699.35" y="462" width="30.55" height="15" fill="#b400b4" stroke="#000" stroke-width="2"/>
<rect x="729.90" y="462" width="30.55" height="15" fill="#960096" stroke="#000" stroke-width="2"/>
<rect x="760.45" y="462" width="30.55" height="15" fill="#6e006e" stroke="#000" stroke-width="2"/>
<text x="180.0" y="491.7" text-anchor="middle" font-family='"DejaVu Sans", sans-serif' font-weight="200" font-size="14.8" stroke="#000" stroke-width="0.4">0</text>
<text x="241.1" y="491.7" text-anchor="middle" font-family='"DejaVu Sans", sans-serif' font-weight="200" font-size="14.8" stroke="#000" stroke-width="0.4">1</text>
<text x="302.2" y="491.7" text-anchor="middle" font-family='"DejaVu Sans", sans-serif' font-weight="200" font-size="14.8" stroke="#000" stroke-width="0.4">2</text>
<text x="363.3" y="491.7" text-anchor="middle" font-family='"DejaVu Sans", sans-serif' font-weight="200" font-size="14.8" stroke="#000" stroke-width="0.4">3</text>
<text x="424.4" y="491.7" text-anchor="middle" font-family='"DejaVu Sans", sans-serif' font-weight="200" font-size="14.8" stroke="#000" stroke-width="0.4">4</text>
<text x="485.5" y="491.7" text-anchor="middle" font-family='"DejaVu Sans", sans-serif' font-weight="200" font-size="14.8" stroke="#000" stroke-width="0.4">5</text>
<text x="546.6" y="491.7" text-anchor="middle" font-family='"DejaVu Sans", sans-serif' font-weight="200" font-size="14.8" stroke="#000" stroke-width="0.4">6</text>
<text x="607.7" y="491.7" text-anchor="middle" font-family='"DejaVu Sans", sans-serif' font-weight="200" font-size="14.8" stroke="#000" stroke-width="0.4">7</text>
<text x="668.8" y="491.7" text-anchor="middle" font-family='"DejaVu Sans", sans-serif' font-weight="200" font-size="14.8" stroke="#000" stroke-width="0.4">8</text>
<text x="729.9" y="491.7" text-anchor="middle" font-family='"DejaVu Sans", sans-serif' font-weight="200" font-size="14.8" stroke="#000" stroke-width="0.4">9</text>
<text x="791.0" y="491.7" text-anchor="middle" font-family='"DejaVu Sans", sans-serif' font-weight="200" font-size="14.8" stroke="#000" stroke-width="0.4">10</text></svg></body></html>
